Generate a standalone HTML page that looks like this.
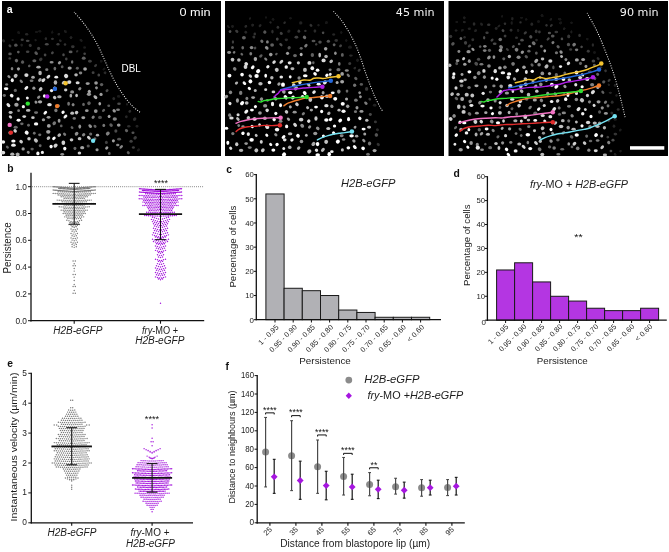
<!DOCTYPE html>
<html lang="en"><head><meta charset="utf-8"><title>Figure</title>
<style>html,body{margin:0;padding:0;background:#fff}svg{display:block}text{font-family:"Liberation Sans", Arial, Helvetica, sans-serif}</style></head><body>
<svg width="669" height="552" viewBox="0 0 669 552">
<defs><filter id="blur" x="0" y="0" width="669" height="160" filterUnits="userSpaceOnUse"><feGaussianBlur stdDeviation="0.55"/></filter></defs>
<rect width="669" height="552" fill="#fff"/>
<g id="panel-a">
<rect x="2" y="1" width="219" height="155" fill="#000"/>
<rect x="225" y="1" width="219" height="155" fill="#000"/>
<rect x="448.5" y="1" width="219.5" height="155" fill="#000"/>
<g filter="url(#blur)">
<ellipse cx="18.67" cy="32.6" rx="1.73" ry="1.34" transform="rotate(45 18.67 32.6)" fill="#191919"/>
<ellipse cx="26.67" cy="34.22" rx="1.61" ry="1.24" fill="#272727"/>
<ellipse cx="36.5" cy="32.01" rx="1.33" ry="1.31" fill="#191919"/>
<ellipse cx="39.84" cy="31.25" rx="1.51" ry="1.2" fill="#161616"/>
<ellipse cx="52.24" cy="32.21" rx="1.09" ry="1.63" fill="#171717"/>
<ellipse cx="58.78" cy="34.05" rx="1.47" ry="1.2" transform="rotate(135 58.78 34.05)" fill="#242424"/>
<ellipse cx="65.37" cy="31.54" rx="1.78" ry="1.3" transform="rotate(45 65.37 31.54)" fill="#1c1c1c"/>
<ellipse cx="3.56" cy="40.76" rx="1.68" ry="1.41" transform="rotate(45 3.56 40.76)" fill="#272727"/>
<ellipse cx="12.6" cy="40.06" rx="1.23" ry="1.12" fill="#1e1e1e"/>
<ellipse cx="22.24" cy="39.69" rx="1.58" ry="1.22" fill="#3b3b3b"/>
<ellipse cx="27.67" cy="40.86" rx="1.91" ry="1.18" fill="#444444"/>
<ellipse cx="35.61" cy="40.04" rx="1.24" ry="1.26" transform="rotate(135 35.61 40.04)" fill="#1a1a1a"/>
<ellipse cx="45.87" cy="38.75" rx="1.22" ry="1.46" fill="#2c2c2c"/>
<ellipse cx="52.45" cy="38.87" rx="1.5" ry="1.2" fill="#323232"/>
<ellipse cx="60.3" cy="40.61" rx="1.25" ry="1.51" transform="rotate(135 60.3 40.61)" fill="#252525"/>
<ellipse cx="71.05" cy="37.51" rx="1.43" ry="1.47" transform="rotate(45 71.05 37.51)" fill="#242424"/>
<ellipse cx="81.11" cy="40.36" rx="1.73" ry="1.27" transform="rotate(45 81.11 40.36)" fill="#1f1f1f"/>
<ellipse cx="9.93" cy="45.92" rx="1.66" ry="1.32" transform="rotate(45 9.93 45.92)" fill="#3e3e3e"/>
<ellipse cx="15.85" cy="45.14" rx="1.76" ry="1.57" fill="#525252"/>
<ellipse cx="21.74" cy="45.01" rx="1.29" ry="1.46" transform="rotate(135 21.74 45.01)" fill="#202020"/>
<ellipse cx="30.24" cy="45.37" rx="1.63" ry="1.49" transform="rotate(45 30.24 45.37)" fill="#353535"/>
<ellipse cx="38.64" cy="48.41" rx="1.58" ry="1.65" fill="#3f3f3f"/>
<ellipse cx="46.8" cy="44.26" rx="1.91" ry="1.22" fill="#484848"/>
<ellipse cx="57.97" cy="44.35" rx="1.57" ry="1.23" fill="#3e3e3e"/>
<ellipse cx="65" cy="44.55" rx="1.32" ry="1.31" fill="#303030"/>
<ellipse cx="72.81" cy="46.75" rx="1.77" ry="1.39" fill="#363636"/>
<ellipse cx="84.67" cy="47.53" rx="1.51" ry="1.25" fill="#1a1a1a"/>
<ellipse cx="10.04" cy="53.88" rx="1.78" ry="1.32" fill="#535353"/>
<ellipse cx="18.31" cy="52.07" rx="1.36" ry="1.34" transform="rotate(45 18.31 52.07)" fill="#5b5b5b"/>
<ellipse cx="27.67" cy="51.71" rx="1.77" ry="1.33" fill="#434343"/>
<ellipse cx="36.17" cy="53.24" rx="1.96" ry="1.55" transform="rotate(45 36.17 53.24)" fill="#595959"/>
<ellipse cx="45.07" cy="55.11" rx="1.35" ry="1.49" fill="#474747"/>
<ellipse cx="52.39" cy="52.84" rx="1.52" ry="1.35" transform="rotate(135 52.39 52.84)" fill="#464646"/>
<ellipse cx="63.51" cy="54.78" rx="1.23" ry="1.55" fill="#4c4c4c"/>
<ellipse cx="70.61" cy="51.88" rx="1.95" ry="1.33" fill="#5c5c5c"/>
<ellipse cx="77.15" cy="51.27" rx="1.42" ry="1.1" transform="rotate(135 77.15 51.27)" fill="#2e2e2e"/>
<ellipse cx="84.65" cy="53.79" rx="1.32" ry="1.18" fill="#454545"/>
<ellipse cx="9.77" cy="58.38" rx="1.37" ry="1.23" fill="#3d3d3d"/>
<ellipse cx="16.47" cy="60.62" rx="1.66" ry="1.71" transform="rotate(135 16.47 60.62)" fill="#6a6a6a"/>
<ellipse cx="22.57" cy="62.09" rx="1.7" ry="1.63" transform="rotate(135 22.57 62.09)" fill="#5a5a5a"/>
<ellipse cx="34.38" cy="60.69" rx="2.02" ry="1.55" fill="#5f5f5f"/>
<ellipse cx="40.77" cy="59.33" rx="1.9" ry="1.54" transform="rotate(135 40.77 59.33)" fill="#393939"/>
<ellipse cx="51.61" cy="62.28" rx="2.01" ry="1.29" fill="#8c8c8c"/>
<ellipse cx="59.48" cy="62.69" rx="1.79" ry="1.43" transform="rotate(135 59.48 62.69)" fill="#9c9c9c"/>
<ellipse cx="66.3" cy="59" rx="1.27" ry="1.48" fill="#424242"/>
<ellipse cx="72.16" cy="62.01" rx="1.24" ry="1.74" fill="#737373"/>
<ellipse cx="83.75" cy="58.2" rx="1.94" ry="1.64" fill="#606060"/>
<ellipse cx="89.9" cy="61.36" rx="1.87" ry="1.49" fill="#3e3e3e"/>
<ellipse cx="101.3" cy="61.21" rx="1.37" ry="1.45" transform="rotate(135 101.3 61.21)" fill="#181818"/>
<ellipse cx="12.05" cy="68.71" rx="1.29" ry="1.66" fill="#7d7d7d"/>
<ellipse cx="18.42" cy="68.9" rx="1.58" ry="1.54" transform="rotate(135 18.42 68.9)" fill="#a0a0a0"/>
<ellipse cx="29.28" cy="65.88" rx="1.41" ry="1.24" transform="rotate(135 29.28 65.88)" fill="#5a5a5a"/>
<ellipse cx="38.5" cy="67.17" rx="2.2" ry="1.39" fill="#a7a7a7"/>
<ellipse cx="46.78" cy="69.64" rx="1.61" ry="1.46" fill="#787878"/>
<ellipse cx="54.87" cy="68.57" rx="1.34" ry="1.93" fill="#6c6c6c"/>
<ellipse cx="62.16" cy="66.76" rx="1.41" ry="1.52" fill="#585858"/>
<ellipse cx="69.67" cy="68.04" rx="2.1" ry="1.66" fill="#9f9f9f"/>
<ellipse cx="77.34" cy="68.19" rx="1.52" ry="1.48" fill="#5e5e5e"/>
<ellipse cx="85.06" cy="69.09" rx="1.86" ry="1.74" fill="#a5a5a5"/>
<ellipse cx="95.55" cy="65.55" rx="1.78" ry="1.19" transform="rotate(135 95.55 65.55)" fill="#3a3a3a"/>
<ellipse cx="103.9" cy="69" rx="1.78" ry="1.23" transform="rotate(135 103.9 69)" fill="#151515"/>
<ellipse cx="8.93" cy="76.69" rx="1.8" ry="1.32" transform="rotate(45 8.93 76.69)" fill="#919191"/>
<ellipse cx="15.63" cy="75.85" rx="2.12" ry="1.81" transform="rotate(135 15.63 75.85)" fill="#b9b9b9"/>
<ellipse cx="26.39" cy="75.02" rx="2.09" ry="1.89" fill="#d6d6d6"/>
<ellipse cx="33.03" cy="77.3" rx="1.87" ry="1.57" fill="#a6a6a6"/>
<ellipse cx="40.07" cy="72.92" rx="1.78" ry="2.21" fill="#b3b3b3"/>
<ellipse cx="48.37" cy="76.7" rx="2.25" ry="1.51" transform="rotate(135 48.37 76.7)" fill="#dbdbdb"/>
<ellipse cx="56.26" cy="77.13" rx="1.9" ry="1.42" fill="#ebebeb"/>
<ellipse cx="66.12" cy="76.02" rx="2.25" ry="2" transform="rotate(45 66.12 76.02)" fill="#dddddd"/>
<ellipse cx="76.07" cy="74.81" rx="1.8" ry="1.65" fill="#b4b4b4"/>
<ellipse cx="80.55" cy="73.01" rx="1.76" ry="1.48" fill="#838383"/>
<ellipse cx="93.11" cy="72.64" rx="1.46" ry="1.3" fill="#424242"/>
<ellipse cx="98.78" cy="74.95" rx="1.36" ry="1.51" fill="#454545"/>
<ellipse cx="105.05" cy="72.8" rx="1.42" ry="1.34" transform="rotate(135 105.05 72.8)" fill="#2a2a2a"/>
<ellipse cx="6.64" cy="84.47" rx="1.53" ry="1.3" fill="#7b7b7b"/>
<ellipse cx="12.29" cy="80.25" rx="1.56" ry="1.94" fill="#f2f2f2"/>
<ellipse cx="21.29" cy="81.32" rx="2.01" ry="1.29" transform="rotate(45 21.29 81.32)" fill="#858585"/>
<ellipse cx="31.59" cy="80.83" rx="1.92" ry="1.24" fill="#787878"/>
<ellipse cx="39.89" cy="80.03" rx="2.05" ry="1.54" transform="rotate(135 39.89 80.03)" fill="#a5a5a5"/>
<ellipse cx="43.42" cy="80.19" rx="2.27" ry="1.56" transform="rotate(135 43.42 80.19)" fill="#dadada"/>
<ellipse cx="55.44" cy="82.52" rx="1.76" ry="2.17" fill="#b3b3b3"/>
<ellipse cx="63.54" cy="82.59" rx="2.15" ry="1.42" transform="rotate(135 63.54 82.59)" fill="#c3c3c3"/>
<ellipse cx="69.22" cy="82.12" rx="2.17" ry="1.86" fill="#d9d9d9"/>
<ellipse cx="77.65" cy="82.66" rx="2.01" ry="1.52" fill="#d7d7d7"/>
<ellipse cx="87.68" cy="83.54" rx="2.13" ry="1.39" fill="#9d9d9d"/>
<ellipse cx="96.04" cy="82.99" rx="1.82" ry="1.72" fill="#989898"/>
<ellipse cx="101.58" cy="84.53" rx="1.7" ry="1.62" fill="#5d5d5d"/>
<ellipse cx="6.13" cy="88.67" rx="2.28" ry="1.49" fill="#ffffff"/>
<ellipse cx="15.34" cy="90.42" rx="1.59" ry="1.58" fill="#666666"/>
<ellipse cx="26.32" cy="87.99" rx="2.3" ry="1.49" transform="rotate(135 26.32 87.99)" fill="#f1f1f1"/>
<ellipse cx="33.89" cy="88.19" rx="1.56" ry="1.61" fill="#989898"/>
<ellipse cx="40.64" cy="89.14" rx="2.14" ry="1.65" transform="rotate(135 40.64 89.14)" fill="#c3c3c3"/>
<ellipse cx="51.58" cy="90.57" rx="1.67" ry="1.6" fill="#f1f1f1"/>
<ellipse cx="55.01" cy="88.5" rx="2.03" ry="1.69" transform="rotate(45 55.01 88.5)" fill="#ffffff"/>
<ellipse cx="65.7" cy="90" rx="1.68" ry="1.42" fill="#cacaca"/>
<ellipse cx="72.15" cy="91.9" rx="2.01" ry="1.7" fill="#919191"/>
<ellipse cx="79.77" cy="88.74" rx="1.46" ry="1.79" transform="rotate(45 79.77 88.74)" fill="#8c8c8c"/>
<ellipse cx="89.28" cy="91.6" rx="1.69" ry="1.68" transform="rotate(135 89.28 91.6)" fill="#a8a8a8"/>
<ellipse cx="96.47" cy="87.86" rx="1.42" ry="1.45" transform="rotate(135 96.47 87.86)" fill="#8f8f8f"/>
<ellipse cx="107.03" cy="90.65" rx="1.66" ry="1.32" transform="rotate(135 107.03 90.65)" fill="#4c4c4c"/>
<ellipse cx="4.33" cy="95.53" rx="1.59" ry="1.44" fill="#6c6c6c"/>
<ellipse cx="11.67" cy="95.62" rx="1.76" ry="1.94" transform="rotate(135 11.67 95.62)" fill="#f0f0f0"/>
<ellipse cx="18.13" cy="98.98" rx="1.6" ry="1.73" fill="#fafafa"/>
<ellipse cx="27.35" cy="98" rx="1.56" ry="1.37" transform="rotate(45 27.35 98)" fill="#f5f5f5"/>
<ellipse cx="38.7" cy="97.21" rx="1.91" ry="1.36" transform="rotate(135 38.7 97.21)" fill="#898989"/>
<ellipse cx="44.39" cy="96.06" rx="1.53" ry="1.81" fill="#f7f7f7"/>
<ellipse cx="54.68" cy="97.53" rx="1.85" ry="1.62" transform="rotate(45 54.68 97.53)" fill="#c7c7c7"/>
<ellipse cx="59.36" cy="96.69" rx="2.24" ry="1.55" fill="#aaaaaa"/>
<ellipse cx="70.83" cy="95.7" rx="1.32" ry="1.84" fill="#a9a9a9"/>
<ellipse cx="76.6" cy="95.48" rx="1.34" ry="1.69" fill="#bebebe"/>
<ellipse cx="88.95" cy="94.32" rx="2.1" ry="1.74" fill="#989898"/>
<ellipse cx="95.42" cy="97.19" rx="2.28" ry="1.54" transform="rotate(45 95.42 97.19)" fill="#b4b4b4"/>
<ellipse cx="101.05" cy="94.4" rx="1.6" ry="1.53" fill="#9f9f9f"/>
<ellipse cx="113.77" cy="98.54" rx="1.34" ry="1.63" fill="#2b2b2b"/>
<ellipse cx="118.62" cy="96.43" rx="1.63" ry="1.32" fill="#1d1d1d"/>
<ellipse cx="8.4" cy="105.09" rx="2.29" ry="1.52" transform="rotate(45 8.4 105.09)" fill="#e5e5e5"/>
<ellipse cx="16.43" cy="104.77" rx="2.19" ry="1.9" fill="#a1a1a1"/>
<ellipse cx="23.38" cy="106.65" rx="1.58" ry="1.66" fill="#f3f3f3"/>
<ellipse cx="35.98" cy="102.14" rx="1.43" ry="1.6" transform="rotate(135 35.98 102.14)" fill="#959595"/>
<ellipse cx="40.05" cy="101.87" rx="2.16" ry="1.71" fill="#a8a8a8"/>
<ellipse cx="49.48" cy="104.7" rx="2.33" ry="1.6" fill="#e1e1e1"/>
<ellipse cx="58.58" cy="105.64" rx="1.48" ry="1.28" transform="rotate(45 58.58 105.64)" fill="#757575"/>
<ellipse cx="68.6" cy="103.75" rx="1.37" ry="2.02" fill="#727272"/>
<ellipse cx="73.11" cy="104.74" rx="1.55" ry="1.52" transform="rotate(45 73.11 104.74)" fill="#828282"/>
<ellipse cx="83.51" cy="104.4" rx="1.32" ry="1.62" fill="#656565"/>
<ellipse cx="88.99" cy="103.25" rx="1.89" ry="1.74" transform="rotate(135 88.99 103.25)" fill="#5e5e5e"/>
<ellipse cx="99.76" cy="103.65" rx="1.34" ry="1.77" fill="#aaaaaa"/>
<ellipse cx="108.74" cy="105.78" rx="1.44" ry="1.33" fill="#5a5a5a"/>
<ellipse cx="118.99" cy="103.8" rx="1.79" ry="1.24" fill="#4b4b4b"/>
<ellipse cx="127.03" cy="104.29" rx="1.07" ry="1.36" fill="#1b1b1b"/>
<ellipse cx="10.61" cy="112.57" rx="2.05" ry="1.45" fill="#bbbbbb"/>
<ellipse cx="18.62" cy="110.66" rx="1.38" ry="1.46" fill="#7b7b7b"/>
<ellipse cx="28.2" cy="110.4" rx="2.28" ry="1.46" fill="#b9b9b9"/>
<ellipse cx="36.07" cy="112.62" rx="2.08" ry="1.45" fill="#6f6f6f"/>
<ellipse cx="45.29" cy="112.76" rx="2.19" ry="1.4" transform="rotate(135 45.29 112.76)" fill="#f6f6f6"/>
<ellipse cx="55.9" cy="110.4" rx="1.64" ry="1.81" fill="#7c7c7c"/>
<ellipse cx="63.08" cy="112.15" rx="1.55" ry="1.75" transform="rotate(45 63.08 112.15)" fill="#fafafa"/>
<ellipse cx="72.19" cy="113.15" rx="1.91" ry="1.7" fill="#bcbcbc"/>
<ellipse cx="76.55" cy="112.54" rx="1.87" ry="1.65" transform="rotate(135 76.55 112.54)" fill="#c8c8c8"/>
<ellipse cx="86.8" cy="110.67" rx="1.84" ry="1.45" fill="#9a9a9a"/>
<ellipse cx="95.75" cy="111.04" rx="1.88" ry="1.84" fill="#949494"/>
<ellipse cx="103.58" cy="110.43" rx="1.77" ry="1.28" transform="rotate(135 103.58 110.43)" fill="#606060"/>
<ellipse cx="114.21" cy="110.81" rx="1.52" ry="1.88" transform="rotate(135 114.21 110.81)" fill="#979797"/>
<ellipse cx="117.99" cy="109.7" rx="1.98" ry="1.31" fill="#7d7d7d"/>
<ellipse cx="129.83" cy="111.37" rx="1.26" ry="1.55" transform="rotate(45 129.83 111.37)" fill="#2d2d2d"/>
<ellipse cx="10.45" cy="116.98" rx="1.87" ry="1.36" transform="rotate(45 10.45 116.98)" fill="#d0d0d0"/>
<ellipse cx="18.6" cy="120.31" rx="2.06" ry="1.49" fill="#ffffff"/>
<ellipse cx="24.23" cy="116.62" rx="1.9" ry="1.43" fill="#d4d4d4"/>
<ellipse cx="32.93" cy="117.73" rx="1.76" ry="1.36" fill="#c8c8c8"/>
<ellipse cx="43.46" cy="119.75" rx="1.67" ry="1.53" fill="#9a9a9a"/>
<ellipse cx="48.57" cy="117.33" rx="1.92" ry="1.45" fill="#9d9d9d"/>
<ellipse cx="59.11" cy="120.81" rx="1.42" ry="1.98" fill="#989898"/>
<ellipse cx="65.41" cy="116.6" rx="2.31" ry="1.4" transform="rotate(135 65.41 116.6)" fill="#f1f1f1"/>
<ellipse cx="74.26" cy="118.42" rx="1.66" ry="1.34" fill="#757575"/>
<ellipse cx="83.29" cy="117.68" rx="1.98" ry="1.46" fill="#a5a5a5"/>
<ellipse cx="93.16" cy="117.22" rx="1.47" ry="1.76" transform="rotate(45 93.16 117.22)" fill="#7f7f7f"/>
<ellipse cx="100" cy="117.4" rx="1.92" ry="1.58" fill="#505050"/>
<ellipse cx="109.11" cy="116.47" rx="1.51" ry="1.52" transform="rotate(45 109.11 116.47)" fill="#a4a4a4"/>
<ellipse cx="114.76" cy="119" rx="2.15" ry="1.73" fill="#848484"/>
<ellipse cx="126.34" cy="116.76" rx="1.32" ry="1.35" transform="rotate(135 126.34 116.76)" fill="#282828"/>
<ellipse cx="134.66" cy="119.08" rx="1.88" ry="1.61" transform="rotate(135 134.66 119.08)" fill="#2e2e2e"/>
<ellipse cx="15.66" cy="127.18" rx="2.09" ry="1.52" fill="#6c6c6c"/>
<ellipse cx="21.86" cy="123.85" rx="1.72" ry="1.37" fill="#6b6b6b"/>
<ellipse cx="28.51" cy="125.31" rx="1.44" ry="1.48" fill="#656565"/>
<ellipse cx="36.08" cy="123.89" rx="2.19" ry="1.68" fill="#f8f8f8"/>
<ellipse cx="48.83" cy="125.89" rx="1.93" ry="1.83" fill="#a2a2a2"/>
<ellipse cx="54.27" cy="123.24" rx="1.98" ry="1.65" transform="rotate(135 54.27 123.24)" fill="#767676"/>
<ellipse cx="61.25" cy="125.92" rx="1.35" ry="1.39" fill="#616161"/>
<ellipse cx="72.05" cy="127.55" rx="1.61" ry="1.22" transform="rotate(45 72.05 127.55)" fill="#5e5e5e"/>
<ellipse cx="79.8" cy="126.57" rx="1.39" ry="2.11" fill="#919191"/>
<ellipse cx="90.21" cy="126.11" rx="2.12" ry="1.5" transform="rotate(45 90.21 126.11)" fill="#909090"/>
<ellipse cx="95.02" cy="126.27" rx="1.38" ry="1.64" transform="rotate(135 95.02 126.27)" fill="#646464"/>
<ellipse cx="103.79" cy="125.4" rx="1.39" ry="1.71" fill="#777777"/>
<ellipse cx="111.08" cy="125.15" rx="1.91" ry="1.56" transform="rotate(45 111.08 125.15)" fill="#606060"/>
<ellipse cx="118.71" cy="125.03" rx="1.83" ry="1.6" fill="#979797"/>
<ellipse cx="128.76" cy="126.24" rx="1.68" ry="1.28" fill="#2d2d2d"/>
<ellipse cx="137.02" cy="126.26" rx="1.38" ry="1.39" fill="#202020"/>
<ellipse cx="10.2" cy="132.87" rx="1.91" ry="1.83" fill="#969696"/>
<ellipse cx="15.15" cy="130.83" rx="1.62" ry="1.84" transform="rotate(135 15.15 130.83)" fill="#d3d3d3"/>
<ellipse cx="26.68" cy="132.69" rx="2.12" ry="1.89" transform="rotate(45 26.68 132.69)" fill="#f7f7f7"/>
<ellipse cx="34.29" cy="133.23" rx="1.38" ry="1.43" fill="#6f6f6f"/>
<ellipse cx="39.75" cy="134.87" rx="1.58" ry="1.28" fill="#6d6d6d"/>
<ellipse cx="48.26" cy="131.82" rx="2.17" ry="1.87" fill="#a2a2a2"/>
<ellipse cx="59.23" cy="135.18" rx="2.04" ry="1.56" transform="rotate(135 59.23 135.18)" fill="#b1b1b1"/>
<ellipse cx="64.6" cy="134.23" rx="1.8" ry="1.34" transform="rotate(45 64.6 134.23)" fill="#787878"/>
<ellipse cx="76.6" cy="133.76" rx="2.03" ry="1.67" transform="rotate(135 76.6 133.76)" fill="#8e8e8e"/>
<ellipse cx="83.62" cy="134.74" rx="1.83" ry="1.52" transform="rotate(135 83.62 134.74)" fill="#838383"/>
<ellipse cx="90.65" cy="133.99" rx="1.61" ry="1.52" fill="#6a6a6a"/>
<ellipse cx="97.49" cy="135.15" rx="1.67" ry="1.46" fill="#adadad"/>
<ellipse cx="107.79" cy="133.58" rx="2.12" ry="1.77" transform="rotate(135 107.79 133.58)" fill="#7f7f7f"/>
<ellipse cx="115.85" cy="131.01" rx="1.52" ry="1.72" fill="#4c4c4c"/>
<ellipse cx="126.52" cy="130.59" rx="1.73" ry="1.49" transform="rotate(45 126.52 130.59)" fill="#616161"/>
<ellipse cx="132.98" cy="132.7" rx="1.54" ry="1.32" fill="#535353"/>
<ellipse cx="3.15" cy="142.05" rx="2.02" ry="1.7" fill="#f0f0f0"/>
<ellipse cx="13.38" cy="141.02" rx="2.16" ry="1.52" fill="#fbfbfb"/>
<ellipse cx="21.12" cy="141.64" rx="1.96" ry="1.66" transform="rotate(45 21.12 141.64)" fill="#cdcdcd"/>
<ellipse cx="29" cy="138.74" rx="1.73" ry="1.82" fill="#cbcbcb"/>
<ellipse cx="35.91" cy="140.46" rx="2.27" ry="1.82" transform="rotate(45 35.91 140.46)" fill="#bfbfbf"/>
<ellipse cx="48.46" cy="138.15" rx="1.59" ry="1.98" transform="rotate(45 48.46 138.15)" fill="#bebebe"/>
<ellipse cx="53.94" cy="138.35" rx="2.07" ry="1.44" transform="rotate(135 53.94 138.35)" fill="#ffffff"/>
<ellipse cx="63.36" cy="142.68" rx="1.86" ry="2.23" fill="#d3d3d3"/>
<ellipse cx="71.52" cy="139.87" rx="1.8" ry="1.57" fill="#c6c6c6"/>
<ellipse cx="79.59" cy="138.64" rx="1.84" ry="1.65" fill="#bdbdbd"/>
<ellipse cx="88.89" cy="137.78" rx="2.26" ry="1.41" transform="rotate(45 88.89 137.78)" fill="#cfcfcf"/>
<ellipse cx="94.94" cy="138.76" rx="1.44" ry="1.51" fill="#6b6b6b"/>
<ellipse cx="106.34" cy="142.44" rx="1.44" ry="1.6" fill="#414141"/>
<ellipse cx="113.38" cy="140.78" rx="1.5" ry="1.61" fill="#a0a0a0"/>
<ellipse cx="119.09" cy="139.16" rx="2.01" ry="1.39" fill="#545454"/>
<ellipse cx="131.09" cy="141.17" rx="1.66" ry="1.53" fill="#414141"/>
<ellipse cx="135.13" cy="137.98" rx="1.93" ry="1.57" transform="rotate(135 135.13 137.98)" fill="#3e3e3e"/>
<ellipse cx="7.39" cy="147.12" rx="1.73" ry="1.26" transform="rotate(45 7.39 147.12)" fill="#646464"/>
<ellipse cx="13.46" cy="145.22" rx="2.35" ry="1.62" fill="#ededed"/>
<ellipse cx="23.14" cy="148.91" rx="1.66" ry="1.65" fill="#9e9e9e"/>
<ellipse cx="32.14" cy="149.06" rx="1.67" ry="1.39" fill="#5e5e5e"/>
<ellipse cx="40.18" cy="145.66" rx="1.44" ry="1.47" fill="#686868"/>
<ellipse cx="51.09" cy="146.61" rx="1.62" ry="1.81" fill="#fdfdfd"/>
<ellipse cx="55.59" cy="145.55" rx="2.25" ry="1.82" transform="rotate(135 55.59 145.55)" fill="#d1d1d1"/>
<ellipse cx="64.79" cy="148.59" rx="1.62" ry="1.92" fill="#fafafa"/>
<ellipse cx="74.93" cy="148.33" rx="1.56" ry="1.53" transform="rotate(45 74.93 148.33)" fill="#686868"/>
<ellipse cx="82.21" cy="147.63" rx="2.06" ry="1.62" fill="#a4a4a4"/>
<ellipse cx="88.22" cy="145.99" rx="1.59" ry="1.52" fill="#565656"/>
<ellipse cx="97.05" cy="149.81" rx="1.57" ry="1.5" fill="#989898"/>
<ellipse cx="106.76" cy="147.95" rx="1.81" ry="1.41" transform="rotate(135 106.76 147.95)" fill="#a2a2a2"/>
<ellipse cx="117.73" cy="144.97" rx="1.69" ry="1.27" fill="#868686"/>
<ellipse cx="121.23" cy="146.91" rx="2.13" ry="1.26" transform="rotate(135 121.23 146.91)" fill="#868686"/>
<ellipse cx="133.41" cy="147.42" rx="1.57" ry="1.22" fill="#3f3f3f"/>
<ellipse cx="138.45" cy="149.85" rx="1.75" ry="1.35" transform="rotate(135 138.45 149.85)" fill="#1e1e1e"/>
<ellipse cx="3.05" cy="152.64" rx="2.18" ry="1.77" fill="#dddddd"/>
<ellipse cx="12.29" cy="154.13" rx="2.17" ry="1.68" fill="#b2b2b2"/>
<ellipse cx="17.65" cy="154.63" rx="1.99" ry="1.93" transform="rotate(45 17.65 154.63)" fill="#afafaf"/>
<ellipse cx="28.25" cy="152.33" rx="1.43" ry="1.61" transform="rotate(135 28.25 152.33)" fill="#8c8c8c"/>
<ellipse cx="37.89" cy="153.38" rx="1.63" ry="1.93" fill="#f8f8f8"/>
<ellipse cx="42.38" cy="152.44" rx="1.56" ry="1.63" fill="#f1f1f1"/>
<ellipse cx="62.23" cy="154.36" rx="1.93" ry="1.34" fill="#909090"/>
<ellipse cx="79.41" cy="152.97" rx="1.76" ry="1.51" fill="#cecece"/>
<ellipse cx="109.31" cy="153.4" rx="1.32" ry="1.59" fill="#5e5e5e"/>
<ellipse cx="128.29" cy="152.71" rx="1.34" ry="1.66" transform="rotate(135 128.29 152.71)" fill="#5b5b5b"/>
<ellipse cx="249.95" cy="18.45" rx="1.42" ry="1.07" transform="rotate(135 249.95 18.45)" fill="#1a1a1a"/>
<ellipse cx="265.89" cy="17.39" rx="1.23" ry="1.16" transform="rotate(45 265.89 17.39)" fill="#151515"/>
<ellipse cx="273.11" cy="19.43" rx="1.37" ry="1.32" fill="#191919"/>
<ellipse cx="290.42" cy="18.17" rx="1.33" ry="1.29" fill="#171717"/>
<ellipse cx="228.38" cy="26.66" rx="1.77" ry="1.08" transform="rotate(45 228.38 26.66)" fill="#1f1f1f"/>
<ellipse cx="232.49" cy="26.54" rx="1.31" ry="1.48" fill="#1e1e1e"/>
<ellipse cx="245.78" cy="26.35" rx="1.22" ry="1.56" transform="rotate(45 245.78 26.35)" fill="#2b2b2b"/>
<ellipse cx="252.64" cy="25.11" rx="1.55" ry="1.41" transform="rotate(135 252.64 25.11)" fill="#232323"/>
<ellipse cx="260.1" cy="25.63" rx="1.63" ry="1.28" transform="rotate(135 260.1 25.63)" fill="#262626"/>
<ellipse cx="270.52" cy="22.47" rx="1.21" ry="1.16" transform="rotate(45 270.52 22.47)" fill="#272727"/>
<ellipse cx="277.87" cy="27.3" rx="1.31" ry="1.52" fill="#333333"/>
<ellipse cx="284.62" cy="22.69" rx="1.44" ry="1.2" transform="rotate(135 284.62 22.69)" fill="#292929"/>
<ellipse cx="300.77" cy="22.91" rx="1.61" ry="1.57" fill="#242424"/>
<ellipse cx="310.96" cy="25.38" rx="1.65" ry="1.34" transform="rotate(45 310.96 25.38)" fill="#303030"/>
<ellipse cx="318.48" cy="25.15" rx="1.1" ry="1.34" fill="#1b1b1b"/>
<ellipse cx="326.43" cy="22.63" rx="1.62" ry="1.55" fill="#151515"/>
<ellipse cx="230.05" cy="31.45" rx="1.49" ry="1.33" transform="rotate(135 230.05 31.45)" fill="#4f4f4f"/>
<ellipse cx="236.77" cy="31.34" rx="1.82" ry="1.39" transform="rotate(45 236.77 31.34)" fill="#3a3a3a"/>
<ellipse cx="245.79" cy="32.16" rx="1.41" ry="1.49" fill="#252525"/>
<ellipse cx="254.81" cy="34.01" rx="1.36" ry="1.43" fill="#313131"/>
<ellipse cx="264.81" cy="32.12" rx="1.62" ry="1.68" transform="rotate(135 264.81 32.12)" fill="#535353"/>
<ellipse cx="272.44" cy="31.65" rx="1.19" ry="1.83" fill="#2e2e2e"/>
<ellipse cx="281.28" cy="33.41" rx="1.71" ry="1.45" transform="rotate(45 281.28 33.41)" fill="#3f3f3f"/>
<ellipse cx="288.79" cy="31.22" rx="1.79" ry="1.47" transform="rotate(135 288.79 31.22)" fill="#202020"/>
<ellipse cx="298.84" cy="31.14" rx="1.38" ry="1.71" fill="#373737"/>
<ellipse cx="305.38" cy="30.98" rx="1.26" ry="1.13" fill="#333333"/>
<ellipse cx="314.91" cy="30.91" rx="1.37" ry="1.73" fill="#292929"/>
<ellipse cx="323.1" cy="32.76" rx="1.26" ry="1.37" fill="#4a4a4a"/>
<ellipse cx="333.68" cy="34.48" rx="1.45" ry="1.18" fill="#262626"/>
<ellipse cx="341.33" cy="32.5" rx="1.34" ry="1.32" transform="rotate(135 341.33 32.5)" fill="#151515"/>
<ellipse cx="232.94" cy="42.02" rx="1.19" ry="1.67" fill="#3e3e3e"/>
<ellipse cx="243.9" cy="37.86" rx="1.96" ry="1.74" fill="#646464"/>
<ellipse cx="253.86" cy="37.04" rx="1.54" ry="1.34" transform="rotate(45 253.86 37.04)" fill="#333333"/>
<ellipse cx="261.84" cy="41.23" rx="1.55" ry="1.64" transform="rotate(135 261.84 41.23)" fill="#6d6d6d"/>
<ellipse cx="267.4" cy="41.91" rx="1.4" ry="1.64" fill="#7e7e7e"/>
<ellipse cx="277.27" cy="39.1" rx="1.42" ry="1.66" fill="#454545"/>
<ellipse cx="286.36" cy="39.83" rx="1.65" ry="1.39" fill="#2f2f2f"/>
<ellipse cx="296.4" cy="37.24" rx="1.9" ry="1.48" fill="#3f3f3f"/>
<ellipse cx="304.53" cy="37.39" rx="1.79" ry="1.62" transform="rotate(45 304.53 37.39)" fill="#6b6b6b"/>
<ellipse cx="313.52" cy="40.99" rx="1.95" ry="1.33" fill="#535353"/>
<ellipse cx="320.01" cy="42.08" rx="1.77" ry="1.64" fill="#4d4d4d"/>
<ellipse cx="328.36" cy="41.24" rx="1.65" ry="1.61" fill="#565656"/>
<ellipse cx="336.2" cy="40.44" rx="1.75" ry="1.47" fill="#303030"/>
<ellipse cx="346.33" cy="40.47" rx="1.28" ry="1.29" transform="rotate(135 346.33 40.47)" fill="#171717"/>
<ellipse cx="232.47" cy="47.53" rx="1.47" ry="1.58" fill="#565656"/>
<ellipse cx="242.71" cy="47.73" rx="1.36" ry="1.67" fill="#686868"/>
<ellipse cx="251.56" cy="47.53" rx="1.82" ry="1.65" fill="#898989"/>
<ellipse cx="254.98" cy="48.07" rx="1.49" ry="1.26" transform="rotate(135 254.98 48.07)" fill="#4d4d4d"/>
<ellipse cx="266.73" cy="47.94" rx="2.05" ry="1.57" transform="rotate(45 266.73 47.94)" fill="#929292"/>
<ellipse cx="272.1" cy="45.1" rx="1.93" ry="1.73" fill="#5e5e5e"/>
<ellipse cx="280.92" cy="44.66" rx="1.92" ry="1.3" transform="rotate(45 280.92 44.66)" fill="#505050"/>
<ellipse cx="289.16" cy="47.67" rx="1.71" ry="1.56" transform="rotate(135 289.16 47.67)" fill="#4f4f4f"/>
<ellipse cx="301.23" cy="48.32" rx="1.53" ry="1.39" fill="#656565"/>
<ellipse cx="305.89" cy="45.67" rx="2.04" ry="1.37" transform="rotate(135 305.89 45.67)" fill="#7a7a7a"/>
<ellipse cx="316.22" cy="44.26" rx="1.25" ry="1.24" transform="rotate(135 316.22 44.26)" fill="#3f3f3f"/>
<ellipse cx="325.68" cy="48.74" rx="1.74" ry="1.71" transform="rotate(135 325.68 48.74)" fill="#9e9e9e"/>
<ellipse cx="334.14" cy="44.73" rx="1.43" ry="1.43" transform="rotate(135 334.14 44.73)" fill="#616161"/>
<ellipse cx="340.56" cy="45.8" rx="1.28" ry="1.6" transform="rotate(45 340.56 45.8)" fill="#424242"/>
<ellipse cx="349.91" cy="47.16" rx="1.84" ry="1.54" fill="#1f1f1f"/>
<ellipse cx="229.09" cy="52.52" rx="1.97" ry="1.46" fill="#8f8f8f"/>
<ellipse cx="234.08" cy="52.34" rx="1.44" ry="1.26" transform="rotate(135 234.08 52.34)" fill="#7a7a7a"/>
<ellipse cx="241.81" cy="54.23" rx="1.56" ry="1.2" transform="rotate(45 241.81 54.23)" fill="#686868"/>
<ellipse cx="250.78" cy="53.75" rx="1.42" ry="1.73" fill="#7b7b7b"/>
<ellipse cx="260.85" cy="55.96" rx="1.95" ry="1.43" transform="rotate(135 260.85 55.96)" fill="#5b5b5b"/>
<ellipse cx="270.77" cy="54.57" rx="1.8" ry="1.81" fill="#9a9a9a"/>
<ellipse cx="276.38" cy="54.03" rx="1.44" ry="1.17" transform="rotate(135 276.38 54.03)" fill="#5a5a5a"/>
<ellipse cx="287.54" cy="53.27" rx="1.58" ry="1.61" fill="#9d9d9d"/>
<ellipse cx="295.01" cy="55.61" rx="1.94" ry="1.67" fill="#686868"/>
<ellipse cx="301.2" cy="54.47" rx="1.47" ry="1.83" fill="#b6b6b6"/>
<ellipse cx="312.34" cy="55" rx="1.69" ry="1.98" fill="#616161"/>
<ellipse cx="319.7" cy="55.1" rx="1.35" ry="2.32" fill="#bebebe"/>
<ellipse cx="326.05" cy="56.49" rx="1.78" ry="1.68" fill="#b4b4b4"/>
<ellipse cx="335.39" cy="53.3" rx="1.3" ry="1.74" fill="#8f8f8f"/>
<ellipse cx="342.34" cy="54.88" rx="1.48" ry="1.94" fill="#5e5e5e"/>
<ellipse cx="350.88" cy="55.53" rx="1.84" ry="1.1" fill="#2c2c2c"/>
<ellipse cx="232.53" cy="59.61" rx="1.88" ry="1.79" transform="rotate(45 232.53 59.61)" fill="#c6c6c6"/>
<ellipse cx="238.88" cy="59.93" rx="1.82" ry="1.72" fill="#b6b6b6"/>
<ellipse cx="246.25" cy="63.91" rx="1.94" ry="1.77" transform="rotate(45 246.25 63.91)" fill="#e1e1e1"/>
<ellipse cx="255.4" cy="59.09" rx="1.75" ry="2.13" fill="#a9a9a9"/>
<ellipse cx="265.78" cy="59.09" rx="1.87" ry="1.25" transform="rotate(45 265.78 59.09)" fill="#848484"/>
<ellipse cx="274.07" cy="62.1" rx="2.02" ry="1.47" transform="rotate(135 274.07 62.1)" fill="#d7d7d7"/>
<ellipse cx="281.34" cy="61.79" rx="2.33" ry="1.42" transform="rotate(135 281.34 61.79)" fill="#cfcfcf"/>
<ellipse cx="289.68" cy="62.86" rx="1.96" ry="1.69" fill="#e5e5e5"/>
<ellipse cx="298.38" cy="62.84" rx="1.59" ry="1.54" fill="#c2c2c2"/>
<ellipse cx="309.43" cy="62.9" rx="2.03" ry="1.92" fill="#d7d7d7"/>
<ellipse cx="313.33" cy="62.78" rx="1.27" ry="1.46" fill="#666666"/>
<ellipse cx="323.58" cy="60.48" rx="2.09" ry="1.89" fill="#dbdbdb"/>
<ellipse cx="331.19" cy="61.36" rx="2.02" ry="1.54" transform="rotate(135 331.19 61.36)" fill="#bbbbbb"/>
<ellipse cx="339.25" cy="63.81" rx="1.34" ry="1.89" fill="#7e7e7e"/>
<ellipse cx="349.73" cy="63.52" rx="1.44" ry="1.58" transform="rotate(45 349.73 63.52)" fill="#3b3b3b"/>
<ellipse cx="357.57" cy="60.26" rx="1.34" ry="1.77" fill="#1f1f1f"/>
<ellipse cx="234.72" cy="68.84" rx="1.87" ry="1.7" transform="rotate(45 234.72 68.84)" fill="#808080"/>
<ellipse cx="245.5" cy="66.92" rx="1.86" ry="2.13" fill="#d3d3d3"/>
<ellipse cx="252.71" cy="67.31" rx="2.11" ry="1.53" transform="rotate(135 252.71 67.31)" fill="#f9f9f9"/>
<ellipse cx="258.16" cy="71.15" rx="2.24" ry="1.9" transform="rotate(135 258.16 71.15)" fill="#ffffff"/>
<ellipse cx="267.86" cy="66.71" rx="1.82" ry="1.53" transform="rotate(135 267.86 66.71)" fill="#ededed"/>
<ellipse cx="276.77" cy="69.82" rx="2" ry="1.89" transform="rotate(45 276.77 69.82)" fill="#c5c5c5"/>
<ellipse cx="286.24" cy="67" rx="1.7" ry="1.87" fill="#f1f1f1"/>
<ellipse cx="292.42" cy="68.75" rx="1.99" ry="1.46" fill="#b1b1b1"/>
<ellipse cx="304.95" cy="69.96" rx="1.94" ry="2.1" fill="#bcbcbc"/>
<ellipse cx="312.31" cy="68.29" rx="1.86" ry="1.99" fill="#f2f2f2"/>
<ellipse cx="317.56" cy="70.13" rx="1.84" ry="1.57" fill="#ffffff"/>
<ellipse cx="330.11" cy="69.85" rx="1.56" ry="1.32" fill="#797979"/>
<ellipse cx="338.44" cy="69.63" rx="2.04" ry="1.7" fill="#6d6d6d"/>
<ellipse cx="346.81" cy="70.52" rx="1.99" ry="1.27" fill="#8b8b8b"/>
<ellipse cx="354.8" cy="68.05" rx="1.21" ry="1.45" transform="rotate(45 354.8 68.05)" fill="#2b2b2b"/>
<ellipse cx="359.16" cy="70.35" rx="1.77" ry="1.33" transform="rotate(135 359.16 70.35)" fill="#383838"/>
<ellipse cx="229.45" cy="75.63" rx="1.99" ry="1.77" fill="#ffffff"/>
<ellipse cx="242.06" cy="74.62" rx="1.77" ry="1.95" fill="#fefefe"/>
<ellipse cx="250.31" cy="76.09" rx="1.97" ry="1.46" transform="rotate(45 250.31 76.09)" fill="#cbcbcb"/>
<ellipse cx="256.57" cy="76.07" rx="2.21" ry="2" fill="#ffffff"/>
<ellipse cx="265.7" cy="75.71" rx="1.36" ry="2.03" fill="#ffffff"/>
<ellipse cx="271.85" cy="77.77" rx="1.69" ry="1.78" fill="#b5b5b5"/>
<ellipse cx="281.26" cy="76.92" rx="1.79" ry="1.54" fill="#e6e6e6"/>
<ellipse cx="290.23" cy="76.84" rx="1.4" ry="1.59" fill="#f7f7f7"/>
<ellipse cx="299.11" cy="77.99" rx="1.66" ry="1.75" fill="#898989"/>
<ellipse cx="305.27" cy="75.8" rx="2.33" ry="1.56" fill="#ffffff"/>
<ellipse cx="315.06" cy="73.81" rx="1.61" ry="1.99" transform="rotate(135 315.06 73.81)" fill="#ffffff"/>
<ellipse cx="326.87" cy="75.27" rx="1.82" ry="1.56" transform="rotate(135 326.87 75.27)" fill="#ffffff"/>
<ellipse cx="330.26" cy="74.36" rx="1.59" ry="1.4" transform="rotate(135 330.26 74.36)" fill="#e8e8e8"/>
<ellipse cx="342.14" cy="73.96" rx="1.79" ry="1.87" fill="#a1a1a1"/>
<ellipse cx="348.29" cy="75.38" rx="2.01" ry="1.25" transform="rotate(45 348.29 75.38)" fill="#797979"/>
<ellipse cx="355.83" cy="78.53" rx="1.86" ry="1.46" transform="rotate(45 355.83 78.53)" fill="#5d5d5d"/>
<ellipse cx="236.5" cy="83.1" rx="1.78" ry="1.4" transform="rotate(135 236.5 83.1)" fill="#aeaeae"/>
<ellipse cx="244.42" cy="83.18" rx="2.09" ry="1.47" transform="rotate(45 244.42 83.18)" fill="#f3f3f3"/>
<ellipse cx="250.41" cy="81.34" rx="1.96" ry="1.98" transform="rotate(45 250.41 81.34)" fill="#ffffff"/>
<ellipse cx="260.46" cy="83.71" rx="2.19" ry="1.67" fill="#bdbdbd"/>
<ellipse cx="269.43" cy="82.53" rx="1.75" ry="1.8" fill="#ffffff"/>
<ellipse cx="278.97" cy="84.02" rx="1.56" ry="1.8" transform="rotate(45 278.97 84.02)" fill="#a0a0a0"/>
<ellipse cx="282.98" cy="84.68" rx="1.96" ry="2.17" fill="#ffffff"/>
<ellipse cx="293.82" cy="85.35" rx="1.89" ry="1.91" transform="rotate(135 293.82 85.35)" fill="#dcdcdc"/>
<ellipse cx="299.96" cy="82.42" rx="1.62" ry="1.76" transform="rotate(45 299.96 82.42)" fill="#e4e4e4"/>
<ellipse cx="308.66" cy="84.83" rx="2.17" ry="1.46" transform="rotate(45 308.66 84.83)" fill="#c7c7c7"/>
<ellipse cx="318.66" cy="84.16" rx="2.06" ry="1.35" fill="#ffffff"/>
<ellipse cx="324.92" cy="82.36" rx="2.16" ry="1.85" transform="rotate(135 324.92 82.36)" fill="#e9e9e9"/>
<ellipse cx="337.11" cy="82.4" rx="1.5" ry="1.52" fill="#aeaeae"/>
<ellipse cx="342.15" cy="81.68" rx="1.98" ry="1.7" fill="#a5a5a5"/>
<ellipse cx="354.63" cy="85.27" rx="1.62" ry="1.73" fill="#727272"/>
<ellipse cx="361.37" cy="84.43" rx="1.68" ry="1.31" fill="#5a5a5a"/>
<ellipse cx="230.51" cy="92.32" rx="1.66" ry="1.88" fill="#848484"/>
<ellipse cx="240.7" cy="92.9" rx="1.7" ry="2.06" fill="#7b7b7b"/>
<ellipse cx="249.33" cy="88.44" rx="1.82" ry="1.43" transform="rotate(45 249.33 88.44)" fill="#ffffff"/>
<ellipse cx="255.27" cy="90.52" rx="1.51" ry="1.56" fill="#b5b5b5"/>
<ellipse cx="265.68" cy="89.69" rx="1.53" ry="1.42" fill="#cecece"/>
<ellipse cx="273.41" cy="91.94" rx="1.86" ry="1.37" fill="#d3d3d3"/>
<ellipse cx="283.8" cy="91.82" rx="1.95" ry="1.72" transform="rotate(45 283.8 91.82)" fill="#a3a3a3"/>
<ellipse cx="290.22" cy="92.6" rx="2.21" ry="1.71" fill="#ffffff"/>
<ellipse cx="296" cy="88.32" rx="2.24" ry="1.69" transform="rotate(135 296 88.32)" fill="#b4b4b4"/>
<ellipse cx="304.72" cy="93.01" rx="2.15" ry="1.68" transform="rotate(45 304.72 93.01)" fill="#ffffff"/>
<ellipse cx="314.02" cy="92.17" rx="2.04" ry="1.53" transform="rotate(135 314.02 92.17)" fill="#e6e6e6"/>
<ellipse cx="323.11" cy="92.76" rx="1.47" ry="1.78" fill="#a2a2a2"/>
<ellipse cx="332.76" cy="92.84" rx="1.95" ry="1.45" fill="#ffffff"/>
<ellipse cx="338.81" cy="91.56" rx="1.73" ry="2.14" fill="#939393"/>
<ellipse cx="347.01" cy="91.11" rx="1.35" ry="1.55" fill="#696969"/>
<ellipse cx="359.64" cy="92.69" rx="1.45" ry="1.34" transform="rotate(45 359.64 92.69)" fill="#8f8f8f"/>
<ellipse cx="366.62" cy="88.9" rx="1.64" ry="1.88" fill="#393939"/>
<ellipse cx="226.35" cy="96.7" rx="1.98" ry="1.6" transform="rotate(135 226.35 96.7)" fill="#989898"/>
<ellipse cx="237.44" cy="100.52" rx="1.53" ry="2.18" fill="#9e9e9e"/>
<ellipse cx="246.88" cy="98.39" rx="1.49" ry="1.66" fill="#838383"/>
<ellipse cx="253.12" cy="97.62" rx="1.96" ry="1.49" fill="#a4a4a4"/>
<ellipse cx="261.46" cy="99.08" rx="1.8" ry="1.66" transform="rotate(135 261.46 99.08)" fill="#8e8e8e"/>
<ellipse cx="267.45" cy="100.33" rx="1.61" ry="1.43" fill="#7f7f7f"/>
<ellipse cx="275.51" cy="98.52" rx="2.1" ry="1.61" transform="rotate(45 275.51 98.52)" fill="#a7a7a7"/>
<ellipse cx="285.61" cy="97.28" rx="2.3" ry="1.76" transform="rotate(45 285.61 97.28)" fill="#fdfdfd"/>
<ellipse cx="292.9" cy="97.5" rx="2.01" ry="1.72" transform="rotate(135 292.9 97.5)" fill="#ffffff"/>
<ellipse cx="302.56" cy="96.55" rx="1.7" ry="1.61" fill="#ffffff"/>
<ellipse cx="310.32" cy="99.74" rx="1.91" ry="2.16" fill="#c8c8c8"/>
<ellipse cx="321.85" cy="97.36" rx="2.12" ry="1.94" transform="rotate(45 321.85 97.36)" fill="#ffffff"/>
<ellipse cx="327" cy="96.19" rx="2.02" ry="1.73" fill="#c6c6c6"/>
<ellipse cx="335.21" cy="98.83" rx="2.03" ry="1.83" fill="#ffffff"/>
<ellipse cx="346.52" cy="98.99" rx="1.53" ry="1.53" fill="#a8a8a8"/>
<ellipse cx="355.89" cy="100.2" rx="1.82" ry="1.66" fill="#7a7a7a"/>
<ellipse cx="360.44" cy="96.82" rx="1.44" ry="1.37" transform="rotate(45 360.44 96.82)" fill="#969696"/>
<ellipse cx="369.76" cy="99.2" rx="1.28" ry="1.51" transform="rotate(135 369.76 99.2)" fill="#3a3a3a"/>
<ellipse cx="229.88" cy="103.46" rx="1.7" ry="1.61" transform="rotate(45 229.88 103.46)" fill="#e6e6e6"/>
<ellipse cx="242.09" cy="103.2" rx="2.3" ry="1.77" transform="rotate(135 242.09 103.2)" fill="#ffffff"/>
<ellipse cx="246.68" cy="103" rx="1.89" ry="1.73" fill="#bcbcbc"/>
<ellipse cx="255.43" cy="106.62" rx="1.63" ry="1.49" transform="rotate(135 255.43 106.62)" fill="#ffffff"/>
<ellipse cx="265.15" cy="105.78" rx="2.1" ry="1.84" fill="#949494"/>
<ellipse cx="272.53" cy="104.01" rx="1.61" ry="2.25" fill="#efefef"/>
<ellipse cx="280.55" cy="105.23" rx="1.47" ry="1.91" fill="#ffffff"/>
<ellipse cx="290.36" cy="106.95" rx="1.53" ry="1.45" transform="rotate(45 290.36 106.95)" fill="#a9a9a9"/>
<ellipse cx="296.96" cy="104.31" rx="2.01" ry="1.64" transform="rotate(45 296.96 104.31)" fill="#cccccc"/>
<ellipse cx="307.61" cy="107.66" rx="1.6" ry="1.45" transform="rotate(45 307.61 107.66)" fill="#bababa"/>
<ellipse cx="316.02" cy="107.1" rx="1.91" ry="1.41" fill="#ffffff"/>
<ellipse cx="326.39" cy="105.7" rx="2.16" ry="1.58" fill="#e0e0e0"/>
<ellipse cx="331.88" cy="106.27" rx="1.6" ry="1.82" transform="rotate(135 331.88 106.27)" fill="#919191"/>
<ellipse cx="342.75" cy="103.86" rx="2.02" ry="1.84" fill="#ffffff"/>
<ellipse cx="347.69" cy="106.37" rx="1.7" ry="1.77" fill="#a1a1a1"/>
<ellipse cx="356.98" cy="107.84" rx="1.5" ry="1.74" fill="#9a9a9a"/>
<ellipse cx="365.89" cy="103.21" rx="1.97" ry="1.42" transform="rotate(45 365.89 103.21)" fill="#7d7d7d"/>
<ellipse cx="374.67" cy="105.22" rx="1.83" ry="1.45" fill="#212121"/>
<ellipse cx="229.69" cy="115.17" rx="1.6" ry="1.82" fill="#818181"/>
<ellipse cx="238.08" cy="114.78" rx="1.54" ry="1.51" fill="#d8d8d8"/>
<ellipse cx="246.28" cy="111.63" rx="2.34" ry="1.62" transform="rotate(135 246.28 111.63)" fill="#f5f5f5"/>
<ellipse cx="251.93" cy="110.12" rx="1.93" ry="1.36" fill="#ffffff"/>
<ellipse cx="259.95" cy="112.99" rx="1.88" ry="1.83" fill="#9a9a9a"/>
<ellipse cx="267.14" cy="110.31" rx="1.72" ry="1.78" transform="rotate(135 267.14 110.31)" fill="#d8d8d8"/>
<ellipse cx="275.82" cy="113.44" rx="1.62" ry="1.66" transform="rotate(45 275.82 113.44)" fill="#f9f9f9"/>
<ellipse cx="286.51" cy="111.89" rx="1.7" ry="1.82" transform="rotate(135 286.51 111.89)" fill="#c5c5c5"/>
<ellipse cx="294.66" cy="112.16" rx="2.09" ry="1.31" fill="#939393"/>
<ellipse cx="303.35" cy="113.73" rx="1.89" ry="1.34" transform="rotate(135 303.35 113.73)" fill="#7a7a7a"/>
<ellipse cx="311.38" cy="110.08" rx="1.7" ry="1.3" fill="#a0a0a0"/>
<ellipse cx="321.66" cy="111.46" rx="1.57" ry="1.71" fill="#ffffff"/>
<ellipse cx="328.83" cy="113.31" rx="1.51" ry="1.86" transform="rotate(45 328.83 113.31)" fill="#aeaeae"/>
<ellipse cx="339.02" cy="110.17" rx="1.62" ry="1.42" fill="#bababa"/>
<ellipse cx="343.53" cy="111.26" rx="2.11" ry="1.77" fill="#f8f8f8"/>
<ellipse cx="355.48" cy="111.7" rx="1.56" ry="1.39" fill="#767676"/>
<ellipse cx="361.49" cy="111.38" rx="2.03" ry="1.35" fill="#999999"/>
<ellipse cx="370.3" cy="114.44" rx="1.54" ry="1.45" fill="#4a4a4a"/>
<ellipse cx="231.42" cy="118" rx="2.26" ry="1.61" fill="#d7d7d7"/>
<ellipse cx="237.89" cy="119" rx="2.13" ry="1.35" transform="rotate(45 237.89 119)" fill="#bababa"/>
<ellipse cx="248.33" cy="117.86" rx="1.73" ry="1.78" transform="rotate(45 248.33 117.86)" fill="#c2c2c2"/>
<ellipse cx="254.57" cy="118.92" rx="2.16" ry="1.73" fill="#ffffff"/>
<ellipse cx="264.89" cy="118.24" rx="1.85" ry="1.86" fill="#a9a9a9"/>
<ellipse cx="274.14" cy="119.5" rx="1.78" ry="1.61" transform="rotate(45 274.14 119.5)" fill="#ffffff"/>
<ellipse cx="280.55" cy="121.24" rx="1.91" ry="1.56" fill="#8b8b8b"/>
<ellipse cx="288.48" cy="119.18" rx="1.88" ry="1.37" transform="rotate(45 288.48 119.18)" fill="#a2a2a2"/>
<ellipse cx="301.13" cy="119.65" rx="2.27" ry="1.81" fill="#cecece"/>
<ellipse cx="308.74" cy="121.07" rx="1.67" ry="1.75" transform="rotate(45 308.74 121.07)" fill="#dedede"/>
<ellipse cx="315.97" cy="118.46" rx="1.59" ry="2.24" fill="#cbcbcb"/>
<ellipse cx="326.37" cy="120.07" rx="2.21" ry="1.76" fill="#ffffff"/>
<ellipse cx="330.62" cy="119.38" rx="1.98" ry="1.54" transform="rotate(135 330.62 119.38)" fill="#ffffff"/>
<ellipse cx="340.21" cy="120.47" rx="2.11" ry="1.73" transform="rotate(135 340.21 120.47)" fill="#ffffff"/>
<ellipse cx="348.57" cy="119.24" rx="1.55" ry="2.13" fill="#ffffff"/>
<ellipse cx="359.86" cy="118.34" rx="1.81" ry="1.59" transform="rotate(45 359.86 118.34)" fill="#f1f1f1"/>
<ellipse cx="366.79" cy="120.21" rx="1.72" ry="1.52" fill="#bbbbbb"/>
<ellipse cx="375.43" cy="121.94" rx="1.51" ry="1.42" fill="#353535"/>
<ellipse cx="226.46" cy="128.2" rx="1.79" ry="1.54" fill="#ffffff"/>
<ellipse cx="238.71" cy="125.56" rx="1.5" ry="1.33" transform="rotate(45 238.71 125.56)" fill="#7e7e7e"/>
<ellipse cx="243" cy="126.66" rx="1.72" ry="1.3" fill="#8f8f8f"/>
<ellipse cx="252.17" cy="126.49" rx="1.8" ry="1.57" transform="rotate(45 252.17 126.49)" fill="#ffffff"/>
<ellipse cx="259.56" cy="124.85" rx="1.36" ry="1.69" fill="#e6e6e6"/>
<ellipse cx="267.18" cy="126.8" rx="2.27" ry="1.94" transform="rotate(45 267.18 126.8)" fill="#e3e3e3"/>
<ellipse cx="277.05" cy="129.57" rx="2.17" ry="1.88" fill="#fafafa"/>
<ellipse cx="286.63" cy="126.41" rx="1.55" ry="1.86" fill="#f8f8f8"/>
<ellipse cx="295.1" cy="124.92" rx="2.2" ry="1.64" transform="rotate(45 295.1 124.92)" fill="#d4d4d4"/>
<ellipse cx="302.19" cy="125.8" rx="2.14" ry="1.72" transform="rotate(45 302.19 125.8)" fill="#8d8d8d"/>
<ellipse cx="309.6" cy="126.99" rx="1.73" ry="1.36" transform="rotate(135 309.6 126.99)" fill="#959595"/>
<ellipse cx="317.75" cy="128.33" rx="2.02" ry="1.6" transform="rotate(45 317.75 128.33)" fill="#8e8e8e"/>
<ellipse cx="328.28" cy="128.45" rx="2.06" ry="1.52" fill="#c2c2c2"/>
<ellipse cx="334.52" cy="126.08" rx="1.64" ry="1.51" fill="#ffffff"/>
<ellipse cx="344.24" cy="129.08" rx="2.28" ry="1.96" fill="#ffffff"/>
<ellipse cx="355.05" cy="127.2" rx="1.55" ry="1.32" transform="rotate(135 355.05 127.2)" fill="#9f9f9f"/>
<ellipse cx="363.61" cy="129.05" rx="2.05" ry="1.36" fill="#ffffff"/>
<ellipse cx="369.05" cy="127.19" rx="1.95" ry="1.44" fill="#b5b5b5"/>
<ellipse cx="377.46" cy="129.83" rx="1.5" ry="1.39" transform="rotate(45 377.46 129.83)" fill="#2b2b2b"/>
<ellipse cx="232.84" cy="133.61" rx="1.61" ry="1.64" fill="#7d7d7d"/>
<ellipse cx="242.95" cy="133.22" rx="1.79" ry="1.64" transform="rotate(135 242.95 133.22)" fill="#ffffff"/>
<ellipse cx="248.32" cy="134.02" rx="1.63" ry="1.87" fill="#e9e9e9"/>
<ellipse cx="256.24" cy="135.43" rx="1.62" ry="1.35" transform="rotate(45 256.24 135.43)" fill="#bdbdbd"/>
<ellipse cx="266.77" cy="135.18" rx="1.7" ry="1.39" transform="rotate(45 266.77 135.18)" fill="#ffffff"/>
<ellipse cx="275.82" cy="134.68" rx="1.45" ry="1.84" transform="rotate(135 275.82 134.68)" fill="#909090"/>
<ellipse cx="283.54" cy="137.02" rx="2.24" ry="1.52" transform="rotate(135 283.54 137.02)" fill="#ffffff"/>
<ellipse cx="290.13" cy="133.68" rx="2.24" ry="1.54" fill="#b8b8b8"/>
<ellipse cx="297.98" cy="135.82" rx="1.9" ry="1.8" transform="rotate(45 297.98 135.82)" fill="#ffffff"/>
<ellipse cx="306.33" cy="135.24" rx="1.37" ry="1.53" fill="#b3b3b3"/>
<ellipse cx="315.27" cy="133.4" rx="2.07" ry="1.74" fill="#979797"/>
<ellipse cx="323.4" cy="136.11" rx="1.54" ry="1.72" fill="#ffffff"/>
<ellipse cx="333.69" cy="132.99" rx="1.54" ry="1.75" transform="rotate(135 333.69 132.99)" fill="#ffffff"/>
<ellipse cx="341.69" cy="135.64" rx="1.96" ry="1.49" fill="#858585"/>
<ellipse cx="351.59" cy="135.84" rx="2.28" ry="1.64" fill="#ffffff"/>
<ellipse cx="356.63" cy="136.15" rx="1.72" ry="1.38" fill="#a2a2a2"/>
<ellipse cx="364.74" cy="134.02" rx="1.48" ry="1.59" fill="#a2a2a2"/>
<ellipse cx="376.39" cy="134.94" rx="1.75" ry="1.71" transform="rotate(45 376.39 134.94)" fill="#545454"/>
<ellipse cx="227.82" cy="142.8" rx="1.53" ry="2.09" fill="#ffffff"/>
<ellipse cx="236.73" cy="144.25" rx="1.64" ry="1.89" fill="#c7c7c7"/>
<ellipse cx="246.14" cy="143.58" rx="1.78" ry="1.34" fill="#999999"/>
<ellipse cx="251.63" cy="139.8" rx="2.24" ry="1.84" fill="#ffffff"/>
<ellipse cx="261.29" cy="141.82" rx="1.53" ry="1.84" fill="#cfcfcf"/>
<ellipse cx="270.72" cy="144.45" rx="1.75" ry="1.38" transform="rotate(45 270.72 144.45)" fill="#f5f5f5"/>
<ellipse cx="277.07" cy="144.44" rx="1.64" ry="1.78" transform="rotate(45 277.07 144.44)" fill="#ffffff"/>
<ellipse cx="284.72" cy="139.83" rx="1.83" ry="1.63" fill="#e2e2e2"/>
<ellipse cx="291.99" cy="139.94" rx="1.51" ry="1.85" transform="rotate(45 291.99 139.94)" fill="#f4f4f4"/>
<ellipse cx="301.49" cy="141.49" rx="1.79" ry="1.69" fill="#9c9c9c"/>
<ellipse cx="313.42" cy="143.97" rx="2.25" ry="1.74" transform="rotate(135 313.42 143.97)" fill="#a9a9a9"/>
<ellipse cx="317.57" cy="144.11" rx="1.79" ry="2.08" fill="#ffffff"/>
<ellipse cx="326.17" cy="141.93" rx="1.93" ry="1.95" transform="rotate(45 326.17 141.93)" fill="#c2c2c2"/>
<ellipse cx="337.83" cy="141.56" rx="2.1" ry="1.95" transform="rotate(135 337.83 141.56)" fill="#ffffff"/>
<ellipse cx="343.62" cy="139.58" rx="1.7" ry="1.27" fill="#868686"/>
<ellipse cx="353.86" cy="140.92" rx="1.81" ry="1.51" transform="rotate(45 353.86 140.92)" fill="#999999"/>
<ellipse cx="363.82" cy="140.59" rx="1.99" ry="1.35" transform="rotate(45 363.82 140.59)" fill="#939393"/>
<ellipse cx="369.56" cy="143.5" rx="1.63" ry="2.01" fill="#747474"/>
<ellipse cx="378.27" cy="144.44" rx="1.79" ry="1.4" transform="rotate(45 378.27 144.44)" fill="#313131"/>
<ellipse cx="230.69" cy="148.28" rx="1.68" ry="1.46" transform="rotate(45 230.69 148.28)" fill="#dddddd"/>
<ellipse cx="241.07" cy="150.36" rx="2.25" ry="1.67" fill="#b1b1b1"/>
<ellipse cx="249.75" cy="147.61" rx="1.98" ry="1.28" fill="#7d7d7d"/>
<ellipse cx="256.31" cy="150.36" rx="2.01" ry="1.91" transform="rotate(135 256.31 150.36)" fill="#c2c2c2"/>
<ellipse cx="262.82" cy="150.27" rx="2.03" ry="1.71" transform="rotate(135 262.82 150.27)" fill="#c7c7c7"/>
<ellipse cx="273.33" cy="150.09" rx="1.96" ry="1.6" fill="#ffffff"/>
<ellipse cx="283.75" cy="148.41" rx="1.43" ry="1.52" fill="#e8e8e8"/>
<ellipse cx="289.77" cy="147.26" rx="1.79" ry="1.86" fill="#aeaeae"/>
<ellipse cx="298.67" cy="148.13" rx="1.88" ry="1.47" transform="rotate(135 298.67 148.13)" fill="#b5b5b5"/>
<ellipse cx="309.27" cy="151.38" rx="2.3" ry="1.87" transform="rotate(135 309.27 151.38)" fill="#c4c4c4"/>
<ellipse cx="316.47" cy="150.16" rx="1.72" ry="1.62" transform="rotate(45 316.47 150.16)" fill="#e4e4e4"/>
<ellipse cx="322.88" cy="149.93" rx="2.3" ry="1.53" transform="rotate(135 322.88 149.93)" fill="#b9b9b9"/>
<ellipse cx="331.84" cy="151.68" rx="1.79" ry="1.39" fill="#f4f4f4"/>
<ellipse cx="342.37" cy="149.88" rx="1.52" ry="1.64" fill="#c0c0c0"/>
<ellipse cx="348.35" cy="147.87" rx="1.84" ry="1.51" fill="#ffffff"/>
<ellipse cx="354.8" cy="147.05" rx="2.26" ry="1.56" transform="rotate(45 354.8 147.05)" fill="#fdfdfd"/>
<ellipse cx="363.07" cy="148.34" rx="1.87" ry="1.8" transform="rotate(45 363.07 148.34)" fill="#ffffff"/>
<ellipse cx="374.59" cy="150.55" rx="2.02" ry="1.65" fill="#a4a4a4"/>
<ellipse cx="284.03" cy="154.6" rx="2.22" ry="2" transform="rotate(135 284.03 154.6)" fill="#ffffff"/>
<ellipse cx="317.72" cy="154.94" rx="2.33" ry="1.57" fill="#ffffff"/>
<ellipse cx="329.22" cy="154.13" rx="1.8" ry="2.06" fill="#ffffff"/>
<ellipse cx="367.99" cy="154.29" rx="1.88" ry="1.53" fill="#6e6e6e"/>
<ellipse cx="464.32" cy="17.75" rx="1.52" ry="1.53" transform="rotate(135 464.32 17.75)" fill="#1b1b1b"/>
<ellipse cx="502.05" cy="16.29" rx="1.06" ry="1.28" fill="#161616"/>
<ellipse cx="512.31" cy="18.74" rx="1.29" ry="1.73" fill="#202020"/>
<ellipse cx="521.61" cy="17.78" rx="1.78" ry="1.07" fill="#171717"/>
<ellipse cx="526.29" cy="19.38" rx="1.34" ry="1.45" transform="rotate(135 526.29 19.38)" fill="#161616"/>
<ellipse cx="542.13" cy="15.56" rx="1.79" ry="1.53" transform="rotate(45 542.13 15.56)" fill="#151515"/>
<ellipse cx="550.82" cy="19.37" rx="1.5" ry="1.2" transform="rotate(135 550.82 19.37)" fill="#1d1d1d"/>
<ellipse cx="559.62" cy="19.19" rx="1.67" ry="1.41" fill="#151515"/>
<ellipse cx="456.79" cy="22.06" rx="1.32" ry="1.2" fill="#191919"/>
<ellipse cx="464.32" cy="22.06" rx="1.6" ry="1.1" fill="#242424"/>
<ellipse cx="474.07" cy="23.94" rx="1.29" ry="1.81" fill="#2c2c2c"/>
<ellipse cx="481.52" cy="24.24" rx="1.81" ry="1.3" transform="rotate(45 481.52 24.24)" fill="#202020"/>
<ellipse cx="488.72" cy="24.73" rx="1.7" ry="1.3" fill="#333333"/>
<ellipse cx="498.84" cy="26.02" rx="1.81" ry="1.08" transform="rotate(135 498.84 26.02)" fill="#202020"/>
<ellipse cx="504.98" cy="23.79" rx="1.26" ry="1.23" fill="#2f2f2f"/>
<ellipse cx="511.77" cy="23.01" rx="1.16" ry="1.82" fill="#1a1a1a"/>
<ellipse cx="520.51" cy="22.41" rx="1.27" ry="1.15" fill="#2d2d2d"/>
<ellipse cx="531.79" cy="24.15" rx="1.41" ry="1.6" fill="#272727"/>
<ellipse cx="538.51" cy="21.64" rx="1.54" ry="1.5" transform="rotate(135 538.51 21.64)" fill="#151515"/>
<ellipse cx="546.52" cy="25.35" rx="1.13" ry="1.33" fill="#333333"/>
<ellipse cx="551.3" cy="25.47" rx="1.74" ry="1.15" transform="rotate(135 551.3 25.47)" fill="#313131"/>
<ellipse cx="560.56" cy="22.88" rx="1.71" ry="1.42" transform="rotate(135 560.56 22.88)" fill="#181818"/>
<ellipse cx="571.54" cy="22.79" rx="1.24" ry="1.39" fill="#191919"/>
<ellipse cx="456.09" cy="30.5" rx="1.46" ry="1.18" fill="#212121"/>
<ellipse cx="462.41" cy="30.23" rx="1.7" ry="1.23" transform="rotate(135 462.41 30.23)" fill="#1b1b1b"/>
<ellipse cx="469.32" cy="28.76" rx="1.57" ry="1.31" fill="#242424"/>
<ellipse cx="475.58" cy="30.65" rx="1.76" ry="1.33" transform="rotate(135 475.58 30.65)" fill="#202020"/>
<ellipse cx="487.03" cy="32.78" rx="1.63" ry="1.22" fill="#3e3e3e"/>
<ellipse cx="496.16" cy="28.58" rx="1.48" ry="1.48" fill="#252525"/>
<ellipse cx="503.01" cy="30.64" rx="1.37" ry="1.55" transform="rotate(135 503.01 30.64)" fill="#464646"/>
<ellipse cx="511.08" cy="30.31" rx="1.37" ry="1.44" fill="#2e2e2e"/>
<ellipse cx="518.14" cy="30.46" rx="1.29" ry="1.65" fill="#1d1d1d"/>
<ellipse cx="525.29" cy="32.9" rx="1.85" ry="1.36" transform="rotate(135 525.29 32.9)" fill="#3b3b3b"/>
<ellipse cx="536.15" cy="31.27" rx="1.37" ry="1.87" fill="#343434"/>
<ellipse cx="539.41" cy="31.89" rx="1.35" ry="1.49" fill="#373737"/>
<ellipse cx="549.42" cy="33" rx="1.62" ry="1.17" fill="#515151"/>
<ellipse cx="556.34" cy="31.99" rx="1.91" ry="1.19" fill="#383838"/>
<ellipse cx="564.22" cy="28.69" rx="1.5" ry="1.17" transform="rotate(135 564.22 28.69)" fill="#1f1f1f"/>
<ellipse cx="571.35" cy="31.92" rx="1.09" ry="1.7" fill="#1b1b1b"/>
<ellipse cx="450.76" cy="36.4" rx="1.53" ry="1.6" fill="#363636"/>
<ellipse cx="460.91" cy="38.6" rx="1.42" ry="1.39" transform="rotate(135 460.91 38.6)" fill="#6a6a6a"/>
<ellipse cx="464.55" cy="37.3" rx="1.23" ry="1.26" fill="#2c2c2c"/>
<ellipse cx="472.81" cy="39.74" rx="1.47" ry="1.42" fill="#313131"/>
<ellipse cx="484.16" cy="37.73" rx="1.15" ry="1.69" fill="#4e4e4e"/>
<ellipse cx="492.01" cy="40.07" rx="1.78" ry="1.32" transform="rotate(135 492.01 40.07)" fill="#434343"/>
<ellipse cx="500.25" cy="39.57" rx="1.78" ry="1.74" fill="#6b6b6b"/>
<ellipse cx="505.05" cy="36.09" rx="1.45" ry="1.38" transform="rotate(135 505.05 36.09)" fill="#3d3d3d"/>
<ellipse cx="516.51" cy="37.78" rx="1.58" ry="1.25" fill="#2d2d2d"/>
<ellipse cx="521.98" cy="40.15" rx="1.77" ry="1.38" fill="#4e4e4e"/>
<ellipse cx="530.81" cy="36.84" rx="1.71" ry="1.53" transform="rotate(45 530.81 36.84)" fill="#505050"/>
<ellipse cx="536.51" cy="40.01" rx="1.32" ry="1.26" transform="rotate(45 536.51 40.01)" fill="#2b2b2b"/>
<ellipse cx="548.14" cy="39.01" rx="1.91" ry="1.21" transform="rotate(135 548.14 39.01)" fill="#474747"/>
<ellipse cx="552.71" cy="36.08" rx="1.85" ry="1.53" fill="#555555"/>
<ellipse cx="561.94" cy="38.91" rx="1.28" ry="1.31" fill="#4b4b4b"/>
<ellipse cx="568.74" cy="36.41" rx="1.55" ry="1.86" fill="#393939"/>
<ellipse cx="579.59" cy="35.38" rx="1.35" ry="1.6" fill="#323232"/>
<ellipse cx="587.19" cy="38.95" rx="1.44" ry="1.25" transform="rotate(45 587.19 38.95)" fill="#151515"/>
<ellipse cx="452.9" cy="43.93" rx="1.93" ry="1.57" transform="rotate(135 452.9 43.93)" fill="#545454"/>
<ellipse cx="465.53" cy="42.81" rx="1.62" ry="1.88" fill="#404040"/>
<ellipse cx="469.35" cy="45.84" rx="1.84" ry="1.33" transform="rotate(135 469.35 45.84)" fill="#3e3e3e"/>
<ellipse cx="480.18" cy="46.58" rx="1.35" ry="1.32" transform="rotate(135 480.18 46.58)" fill="#5a5a5a"/>
<ellipse cx="484.87" cy="46.37" rx="1.76" ry="1.4" fill="#828282"/>
<ellipse cx="494.7" cy="43.71" rx="1.89" ry="1.29" fill="#4c4c4c"/>
<ellipse cx="501.06" cy="46.93" rx="2.11" ry="1.68" transform="rotate(45 501.06 46.93)" fill="#7e7e7e"/>
<ellipse cx="513.34" cy="46.56" rx="1.64" ry="1.26" transform="rotate(135 513.34 46.56)" fill="#575757"/>
<ellipse cx="519.14" cy="44.02" rx="1.3" ry="1.3" fill="#545454"/>
<ellipse cx="529.68" cy="46.21" rx="1.38" ry="1.3" fill="#848484"/>
<ellipse cx="533.69" cy="43.29" rx="2.07" ry="1.77" transform="rotate(45 533.69 43.29)" fill="#707070"/>
<ellipse cx="541.37" cy="46.21" rx="1.41" ry="1.52" transform="rotate(135 541.37 46.21)" fill="#656565"/>
<ellipse cx="552.96" cy="42.55" rx="1.41" ry="1.6" transform="rotate(45 552.96 42.55)" fill="#7c7c7c"/>
<ellipse cx="558.11" cy="46.77" rx="1.76" ry="1.45" transform="rotate(45 558.11 46.77)" fill="#626262"/>
<ellipse cx="568.47" cy="44.47" rx="1.62" ry="1.84" fill="#515151"/>
<ellipse cx="574.13" cy="44.6" rx="1.91" ry="1.72" transform="rotate(135 574.13 44.6)" fill="#767676"/>
<ellipse cx="581.6" cy="46.86" rx="1.33" ry="1.25" transform="rotate(135 581.6 46.86)" fill="#4a4a4a"/>
<ellipse cx="592.9" cy="44.95" rx="1.26" ry="1.77" fill="#292929"/>
<ellipse cx="458.91" cy="51.45" rx="1.46" ry="1.48" fill="#888888"/>
<ellipse cx="468.56" cy="51.65" rx="2.11" ry="1.58" fill="#939393"/>
<ellipse cx="472.94" cy="49.39" rx="1.86" ry="1.29" transform="rotate(45 472.94 49.39)" fill="#999999"/>
<ellipse cx="484.73" cy="50.62" rx="1.85" ry="1.44" fill="#7f7f7f"/>
<ellipse cx="489.44" cy="50.36" rx="1.58" ry="1.66" fill="#5c5c5c"/>
<ellipse cx="500.49" cy="50.25" rx="1.92" ry="1.87" transform="rotate(135 500.49 50.25)" fill="#9c9c9c"/>
<ellipse cx="507.37" cy="49.46" rx="1.72" ry="1.16" transform="rotate(45 507.37 49.46)" fill="#3e3e3e"/>
<ellipse cx="516.54" cy="49.73" rx="1.91" ry="1.78" transform="rotate(45 516.54 49.73)" fill="#7d7d7d"/>
<ellipse cx="522.38" cy="52.17" rx="1.51" ry="1.82" transform="rotate(45 522.38 52.17)" fill="#959595"/>
<ellipse cx="528.9" cy="51.15" rx="1.66" ry="1.41" fill="#616161"/>
<ellipse cx="536.35" cy="53.08" rx="1.41" ry="1.68" fill="#5a5a5a"/>
<ellipse cx="544.76" cy="50.85" rx="1.36" ry="1.72" fill="#a8a8a8"/>
<ellipse cx="556.45" cy="52.76" rx="1.6" ry="1.54" fill="#717171"/>
<ellipse cx="561.07" cy="52.12" rx="1.8" ry="1.5" transform="rotate(45 561.07 52.12)" fill="#919191"/>
<ellipse cx="570.59" cy="49.42" rx="1.53" ry="1.24" fill="#3d3d3d"/>
<ellipse cx="576.58" cy="49.81" rx="1.72" ry="1.32" fill="#777777"/>
<ellipse cx="588.29" cy="51.28" rx="1.56" ry="1.42" fill="#3a3a3a"/>
<ellipse cx="594.57" cy="52.49" rx="1.44" ry="1.4" fill="#171717"/>
<ellipse cx="457.58" cy="60.67" rx="1.86" ry="1.49" fill="#8f8f8f"/>
<ellipse cx="463.61" cy="58.68" rx="1.7" ry="1.38" transform="rotate(135 463.61 58.68)" fill="#cbcbcb"/>
<ellipse cx="469.31" cy="61.15" rx="1.51" ry="1.8" fill="#989898"/>
<ellipse cx="478.57" cy="59.31" rx="1.67" ry="1.53" fill="#4e4e4e"/>
<ellipse cx="488.9" cy="57.54" rx="2.07" ry="1.6" transform="rotate(135 488.9 57.54)" fill="#929292"/>
<ellipse cx="493.94" cy="57.08" rx="1.37" ry="1.95" fill="#8f8f8f"/>
<ellipse cx="503.77" cy="58.76" rx="1.51" ry="1.53" transform="rotate(45 503.77 58.76)" fill="#626262"/>
<ellipse cx="509.36" cy="56.49" rx="1.66" ry="1.74" fill="#aeaeae"/>
<ellipse cx="518.57" cy="57.24" rx="2.04" ry="1.64" fill="#898989"/>
<ellipse cx="526.29" cy="56.78" rx="1.9" ry="1.42" transform="rotate(45 526.29 56.78)" fill="#5a5a5a"/>
<ellipse cx="536.23" cy="60.89" rx="2.28" ry="1.72" transform="rotate(135 536.23 60.89)" fill="#aeaeae"/>
<ellipse cx="542.56" cy="59.05" rx="1.77" ry="1.44" fill="#bbbbbb"/>
<ellipse cx="550.35" cy="60.96" rx="2.09" ry="1.67" fill="#d7d7d7"/>
<ellipse cx="561.58" cy="56.44" rx="1.56" ry="1.38" transform="rotate(45 561.58 56.44)" fill="#b4b4b4"/>
<ellipse cx="565.92" cy="59.56" rx="1.45" ry="1.63" fill="#898989"/>
<ellipse cx="576.85" cy="59.99" rx="1.96" ry="1.63" fill="#a5a5a5"/>
<ellipse cx="583.11" cy="59.54" rx="1.95" ry="1.51" fill="#a0a0a0"/>
<ellipse cx="593.4" cy="60.97" rx="1.8" ry="1.5" fill="#494949"/>
<ellipse cx="598.13" cy="58.59" rx="1.7" ry="1.21" transform="rotate(45 598.13 58.59)" fill="#2e2e2e"/>
<ellipse cx="449.69" cy="65.22" rx="1.77" ry="1.84" fill="#afafaf"/>
<ellipse cx="456.76" cy="63.54" rx="1.42" ry="1.68" fill="#515151"/>
<ellipse cx="464.81" cy="64.19" rx="1.74" ry="1.51" fill="#9e9e9e"/>
<ellipse cx="476.23" cy="63.72" rx="1.99" ry="1.69" transform="rotate(45 476.23 63.72)" fill="#505050"/>
<ellipse cx="481.43" cy="64.32" rx="1.98" ry="1.25" fill="#787878"/>
<ellipse cx="488.97" cy="65.96" rx="1.82" ry="1.76" fill="#878787"/>
<ellipse cx="499.92" cy="67.9" rx="1.83" ry="1.66" fill="#aeaeae"/>
<ellipse cx="504.91" cy="67.18" rx="1.82" ry="1.78" fill="#868686"/>
<ellipse cx="513.07" cy="63.87" rx="1.82" ry="1.79" transform="rotate(45 513.07 63.87)" fill="#787878"/>
<ellipse cx="523.99" cy="67.24" rx="1.79" ry="1.74" fill="#a3a3a3"/>
<ellipse cx="532.04" cy="64.96" rx="1.72" ry="1.41" transform="rotate(45 532.04 64.96)" fill="#606060"/>
<ellipse cx="539.1" cy="64.72" rx="1.77" ry="1.67" fill="#828282"/>
<ellipse cx="546.48" cy="66.39" rx="2.24" ry="1.77" transform="rotate(135 546.48 66.39)" fill="#b8b8b8"/>
<ellipse cx="553.4" cy="67.38" rx="1.17" ry="1.89" fill="#575757"/>
<ellipse cx="560.53" cy="66.62" rx="1.63" ry="1.46" fill="#f1f1f1"/>
<ellipse cx="568.46" cy="63.4" rx="1.88" ry="1.57" transform="rotate(135 568.46 63.4)" fill="#dddddd"/>
<ellipse cx="580.5" cy="63.3" rx="1.61" ry="1.53" transform="rotate(135 580.5 63.3)" fill="#646464"/>
<ellipse cx="585.94" cy="66.34" rx="1.55" ry="1.5" transform="rotate(135 585.94 66.34)" fill="#9a9a9a"/>
<ellipse cx="594.33" cy="65.12" rx="1.47" ry="1.41" fill="#5b5b5b"/>
<ellipse cx="600.76" cy="67.37" rx="1.36" ry="1.24" fill="#2f2f2f"/>
<ellipse cx="453.9" cy="74.09" rx="1.57" ry="1.74" fill="#ffffff"/>
<ellipse cx="462.02" cy="74.55" rx="1.47" ry="1.48" fill="#a0a0a0"/>
<ellipse cx="469.39" cy="71.82" rx="1.93" ry="1.67" fill="#ffffff"/>
<ellipse cx="478.7" cy="73.13" rx="2.05" ry="1.84" transform="rotate(135 478.7 73.13)" fill="#868686"/>
<ellipse cx="483.9" cy="70.88" rx="1.68" ry="1.84" fill="#d5d5d5"/>
<ellipse cx="495.24" cy="71.17" rx="1.73" ry="2.08" fill="#dfdfdf"/>
<ellipse cx="502.88" cy="72.74" rx="2.31" ry="1.6" fill="#f1f1f1"/>
<ellipse cx="509.11" cy="73.95" rx="2.12" ry="1.66" fill="#ffffff"/>
<ellipse cx="517.19" cy="70.47" rx="2.17" ry="1.5" transform="rotate(135 517.19 70.47)" fill="#f1f1f1"/>
<ellipse cx="526.35" cy="71.97" rx="1.49" ry="1.97" fill="#e0e0e0"/>
<ellipse cx="532.27" cy="71.37" rx="1.7" ry="1.59" fill="#ffffff"/>
<ellipse cx="542.32" cy="73.44" rx="1.85" ry="1.87" fill="#929292"/>
<ellipse cx="549.51" cy="73.58" rx="1.61" ry="1.62" fill="#a6a6a6"/>
<ellipse cx="556.34" cy="74.9" rx="1.63" ry="1.82" fill="#6c6c6c"/>
<ellipse cx="564.83" cy="73.12" rx="1.43" ry="1.57" fill="#636363"/>
<ellipse cx="576.52" cy="72.52" rx="1.89" ry="2.01" fill="#efefef"/>
<ellipse cx="582.51" cy="74.86" rx="1.84" ry="1.37" transform="rotate(45 582.51 74.86)" fill="#e7e7e7"/>
<ellipse cx="589.86" cy="71.93" rx="1.97" ry="1.4" fill="#474747"/>
<ellipse cx="597.63" cy="74.32" rx="1.44" ry="1.57" transform="rotate(135 597.63 74.32)" fill="#676767"/>
<ellipse cx="605.56" cy="70.78" rx="1.39" ry="1.28" transform="rotate(45 605.56 70.78)" fill="#353535"/>
<ellipse cx="453.42" cy="77.23" rx="1.59" ry="1.9" fill="#d0d0d0"/>
<ellipse cx="461.44" cy="81.11" rx="2.32" ry="1.63" fill="#dcdcdc"/>
<ellipse cx="465.12" cy="79.87" rx="1.71" ry="1.49" fill="#acacac"/>
<ellipse cx="474.88" cy="77.48" rx="1.76" ry="1.83" fill="#939393"/>
<ellipse cx="484.4" cy="77.1" rx="1.72" ry="1.65" transform="rotate(135 484.4 77.1)" fill="#929292"/>
<ellipse cx="492.18" cy="78.04" rx="1.55" ry="1.64" fill="#f6f6f6"/>
<ellipse cx="496.85" cy="79.15" rx="1.58" ry="1.68" fill="#ffffff"/>
<ellipse cx="508.28" cy="77.43" rx="1.79" ry="1.83" transform="rotate(45 508.28 77.43)" fill="#e7e7e7"/>
<ellipse cx="514.48" cy="79.04" rx="1.53" ry="1.65" transform="rotate(135 514.48 79.04)" fill="#a7a7a7"/>
<ellipse cx="525.58" cy="79.28" rx="2.03" ry="1.83" transform="rotate(45 525.58 79.28)" fill="#bfbfbf"/>
<ellipse cx="533" cy="81.86" rx="1.42" ry="1.91" fill="#adadad"/>
<ellipse cx="540.21" cy="77.47" rx="1.61" ry="1.42" transform="rotate(45 540.21 77.47)" fill="#888888"/>
<ellipse cx="546.3" cy="79.96" rx="1.83" ry="1.73" fill="#f6f6f6"/>
<ellipse cx="556.22" cy="79.14" rx="1.9" ry="1.57" fill="#ededed"/>
<ellipse cx="563.46" cy="79.11" rx="1.93" ry="1.96" fill="#fefefe"/>
<ellipse cx="569.37" cy="79.99" rx="1.6" ry="1.88" transform="rotate(135 569.37 79.99)" fill="#b5b5b5"/>
<ellipse cx="580.16" cy="77.59" rx="2.03" ry="1.56" fill="#dbdbdb"/>
<ellipse cx="587.21" cy="79" rx="2.09" ry="1.98" fill="#ededed"/>
<ellipse cx="594.97" cy="78.61" rx="1.3" ry="1.64" fill="#595959"/>
<ellipse cx="603.71" cy="81.85" rx="1.51" ry="1.7" transform="rotate(45 603.71 81.85)" fill="#575757"/>
<ellipse cx="609.12" cy="80.35" rx="1.84" ry="1.14" transform="rotate(135 609.12 80.35)" fill="#3a3a3a"/>
<ellipse cx="456.01" cy="88.01" rx="1.54" ry="1.64" fill="#d3d3d3"/>
<ellipse cx="461.56" cy="85.67" rx="1.78" ry="1.49" fill="#7b7b7b"/>
<ellipse cx="469.07" cy="87.6" rx="1.7" ry="1.51" fill="#707070"/>
<ellipse cx="476.47" cy="85.82" rx="2.09" ry="1.37" fill="#aaaaaa"/>
<ellipse cx="485.57" cy="87.05" rx="1.57" ry="1.81" fill="#9f9f9f"/>
<ellipse cx="493.91" cy="85.88" rx="1.65" ry="1.49" fill="#848484"/>
<ellipse cx="501.18" cy="86.32" rx="1.69" ry="1.87" transform="rotate(135 501.18 86.32)" fill="#9e9e9e"/>
<ellipse cx="510.26" cy="85.81" rx="2.17" ry="1.8" fill="#d9d9d9"/>
<ellipse cx="520.77" cy="86.35" rx="1.85" ry="1.83" transform="rotate(45 520.77 86.35)" fill="#c8c8c8"/>
<ellipse cx="525.72" cy="84.23" rx="1.84" ry="1.67" fill="#d6d6d6"/>
<ellipse cx="535.5" cy="86.47" rx="2.21" ry="1.51" transform="rotate(135 535.5 86.47)" fill="#aaaaaa"/>
<ellipse cx="540.81" cy="84.52" rx="1.81" ry="1.77" transform="rotate(45 540.81 84.52)" fill="#8f8f8f"/>
<ellipse cx="551.83" cy="84.72" rx="1.95" ry="2.09" fill="#ffffff"/>
<ellipse cx="556.38" cy="86.6" rx="2.25" ry="1.71" transform="rotate(135 556.38 86.6)" fill="#ffffff"/>
<ellipse cx="564.94" cy="86.57" rx="1.78" ry="1.45" transform="rotate(45 564.94 86.57)" fill="#9b9b9b"/>
<ellipse cx="575.76" cy="84.81" rx="1.55" ry="1.76" fill="#dfdfdf"/>
<ellipse cx="582.15" cy="86.85" rx="1.58" ry="1.52" fill="#ffffff"/>
<ellipse cx="592.12" cy="84.79" rx="2.05" ry="1.82" fill="#858585"/>
<ellipse cx="597.83" cy="87.35" rx="1.57" ry="1.68" transform="rotate(45 597.83 87.35)" fill="#a4a4a4"/>
<ellipse cx="608.85" cy="84.81" rx="1.33" ry="1.13" transform="rotate(45 608.85 84.81)" fill="#232323"/>
<ellipse cx="615.04" cy="85.41" rx="1.32" ry="1.39" fill="#242424"/>
<ellipse cx="452.09" cy="94.13" rx="1.95" ry="1.71" transform="rotate(135 452.09 94.13)" fill="#bdbdbd"/>
<ellipse cx="458.06" cy="94.36" rx="1.71" ry="1.7" fill="#adadad"/>
<ellipse cx="466.71" cy="94.66" rx="2.07" ry="1.87" fill="#bfbfbf"/>
<ellipse cx="472.31" cy="95.51" rx="1.88" ry="1.89" fill="#c3c3c3"/>
<ellipse cx="483.18" cy="93.33" rx="1.63" ry="1.55" fill="#e7e7e7"/>
<ellipse cx="490.44" cy="92.12" rx="1.7" ry="1.43" fill="#6b6b6b"/>
<ellipse cx="500.39" cy="91.64" rx="1.96" ry="1.62" transform="rotate(135 500.39 91.64)" fill="#cccccc"/>
<ellipse cx="506.92" cy="92.95" rx="2.15" ry="1.57" fill="#9a9a9a"/>
<ellipse cx="512.89" cy="91.04" rx="1.38" ry="1.96" fill="#dedede"/>
<ellipse cx="521.6" cy="91.21" rx="2" ry="1.64" transform="rotate(45 521.6 91.21)" fill="#b3b3b3"/>
<ellipse cx="528.55" cy="94.68" rx="1.78" ry="1.88" fill="#b7b7b7"/>
<ellipse cx="536.8" cy="91.17" rx="1.75" ry="1.57" fill="#c7c7c7"/>
<ellipse cx="547.71" cy="93.74" rx="1.58" ry="1.91" fill="#9a9a9a"/>
<ellipse cx="555.36" cy="94.14" rx="1.93" ry="1.38" transform="rotate(45 555.36 94.14)" fill="#9e9e9e"/>
<ellipse cx="564.08" cy="94.44" rx="1.56" ry="1.28" transform="rotate(135 564.08 94.44)" fill="#656565"/>
<ellipse cx="567.96" cy="94.81" rx="1.5" ry="2.29" fill="#ffffff"/>
<ellipse cx="576.49" cy="93.15" rx="1.5" ry="1.88" fill="#e3e3e3"/>
<ellipse cx="587.44" cy="95.44" rx="1.57" ry="1.74" fill="#cccccc"/>
<ellipse cx="592.94" cy="92.06" rx="2.3" ry="1.72" transform="rotate(135 592.94 92.06)" fill="#dddddd"/>
<ellipse cx="602.83" cy="92.25" rx="1.8" ry="1.24" transform="rotate(45 602.83 92.25)" fill="#606060"/>
<ellipse cx="610.37" cy="92.86" rx="1.65" ry="1.15" fill="#272727"/>
<ellipse cx="616.51" cy="95.37" rx="1.39" ry="1.21" transform="rotate(135 616.51 95.37)" fill="#222222"/>
<ellipse cx="456.37" cy="98.54" rx="1.95" ry="1.47" transform="rotate(45 456.37 98.54)" fill="#636363"/>
<ellipse cx="462.16" cy="99.08" rx="1.93" ry="2" fill="#ababab"/>
<ellipse cx="470.22" cy="101.41" rx="1.67" ry="1.74" transform="rotate(45 470.22 101.41)" fill="#888888"/>
<ellipse cx="479.92" cy="102.66" rx="1.94" ry="1.59" transform="rotate(135 479.92 102.66)" fill="#888888"/>
<ellipse cx="487.96" cy="100.16" rx="1.81" ry="1.79" fill="#b9b9b9"/>
<ellipse cx="495.14" cy="100.68" rx="1.53" ry="1.84" fill="#8e8e8e"/>
<ellipse cx="500.14" cy="102.61" rx="1.57" ry="1.53" transform="rotate(135 500.14 102.61)" fill="#dedede"/>
<ellipse cx="512.22" cy="99.17" rx="2.12" ry="1.51" fill="#e7e7e7"/>
<ellipse cx="520.42" cy="101.4" rx="1.94" ry="1.55" transform="rotate(135 520.42 101.4)" fill="#d8d8d8"/>
<ellipse cx="526.69" cy="99.11" rx="1.81" ry="1.7" fill="#686868"/>
<ellipse cx="534.81" cy="100" rx="2.08" ry="1.62" fill="#a5a5a5"/>
<ellipse cx="541.39" cy="100.37" rx="1.78" ry="1.67" transform="rotate(45 541.39 100.37)" fill="#858585"/>
<ellipse cx="551.65" cy="101.46" rx="1.77" ry="1.5" fill="#f3f3f3"/>
<ellipse cx="557.64" cy="100.9" rx="1.85" ry="1.64" transform="rotate(135 557.64 100.9)" fill="#c6c6c6"/>
<ellipse cx="565.7" cy="99.16" rx="1.64" ry="1.93" fill="#ffffff"/>
<ellipse cx="576.35" cy="99.52" rx="1.8" ry="1.8" fill="#8a8a8a"/>
<ellipse cx="581.94" cy="100.22" rx="2.25" ry="1.97" transform="rotate(45 581.94 100.22)" fill="#c3c3c3"/>
<ellipse cx="589.49" cy="101.88" rx="1.46" ry="1.62" transform="rotate(45 589.49 101.88)" fill="#838383"/>
<ellipse cx="598.57" cy="101.83" rx="1.97" ry="1.67" fill="#9c9c9c"/>
<ellipse cx="605.49" cy="102.17" rx="1.8" ry="1.38" transform="rotate(135 605.49 102.17)" fill="#7b7b7b"/>
<ellipse cx="612.18" cy="102.17" rx="1.46" ry="1.69" fill="#2d2d2d"/>
<ellipse cx="458.79" cy="106.79" rx="1.76" ry="2.25" fill="#bfbfbf"/>
<ellipse cx="464.14" cy="107.01" rx="1.62" ry="1.57" transform="rotate(45 464.14 107.01)" fill="#a3a3a3"/>
<ellipse cx="471.4" cy="105.51" rx="2.04" ry="1.49" fill="#e9e9e9"/>
<ellipse cx="482.5" cy="106.08" rx="2.18" ry="1.39" fill="#f9f9f9"/>
<ellipse cx="490.98" cy="107.93" rx="1.63" ry="1.45" fill="#ffffff"/>
<ellipse cx="499.93" cy="107.47" rx="1.33" ry="1.47" fill="#656565"/>
<ellipse cx="507.02" cy="105.47" rx="1.77" ry="1.67" fill="#c6c6c6"/>
<ellipse cx="511.93" cy="108.68" rx="1.39" ry="1.52" transform="rotate(45 511.93 108.68)" fill="#616161"/>
<ellipse cx="519.11" cy="105.61" rx="1.75" ry="1.86" transform="rotate(45 519.11 105.61)" fill="#cbcbcb"/>
<ellipse cx="530.13" cy="107.51" rx="2.12" ry="1.29" transform="rotate(135 530.13 107.51)" fill="#7c7c7c"/>
<ellipse cx="538.74" cy="109.09" rx="2.02" ry="1.41" transform="rotate(135 538.74 109.09)" fill="#f3f3f3"/>
<ellipse cx="544.26" cy="105.51" rx="1.55" ry="1.61" fill="#cdcdcd"/>
<ellipse cx="554.18" cy="109.14" rx="2.24" ry="1.69" transform="rotate(135 554.18 109.14)" fill="#e6e6e6"/>
<ellipse cx="559.21" cy="107.99" rx="1.57" ry="1.49" transform="rotate(45 559.21 107.99)" fill="#747474"/>
<ellipse cx="568.99" cy="106.36" rx="1.95" ry="1.38" fill="#7e7e7e"/>
<ellipse cx="578.54" cy="109.16" rx="2.27" ry="1.66" transform="rotate(135 578.54 109.16)" fill="#e8e8e8"/>
<ellipse cx="585.35" cy="109.52" rx="1.56" ry="1.37" transform="rotate(45 585.35 109.52)" fill="#d4d4d4"/>
<ellipse cx="594.12" cy="105.45" rx="1.61" ry="1.45" transform="rotate(45 594.12 105.45)" fill="#dbdbdb"/>
<ellipse cx="602.28" cy="107.87" rx="1.57" ry="1.58" transform="rotate(45 602.28 107.87)" fill="#919191"/>
<ellipse cx="608.03" cy="105.78" rx="1.45" ry="1.65" fill="#717171"/>
<ellipse cx="618.18" cy="109.5" rx="1.51" ry="1.27" fill="#2f2f2f"/>
<ellipse cx="454.1" cy="115.93" rx="1.81" ry="1.78" transform="rotate(135 454.1 115.93)" fill="#8c8c8c"/>
<ellipse cx="463.6" cy="111.95" rx="2.09" ry="1.89" fill="#cccccc"/>
<ellipse cx="469.52" cy="113.95" rx="1.97" ry="1.64" transform="rotate(45 469.52 113.95)" fill="#6f6f6f"/>
<ellipse cx="476.9" cy="113.17" rx="1.96" ry="1.42" fill="#9a9a9a"/>
<ellipse cx="485.84" cy="112.73" rx="1.67" ry="1.36" fill="#a8a8a8"/>
<ellipse cx="492.47" cy="113.7" rx="1.63" ry="1.47" transform="rotate(135 492.47 113.7)" fill="#ffffff"/>
<ellipse cx="499.9" cy="112.84" rx="1.96" ry="1.96" fill="#c0c0c0"/>
<ellipse cx="509.12" cy="112.47" rx="1.47" ry="1.7" fill="#aeaeae"/>
<ellipse cx="516.68" cy="114.07" rx="1.47" ry="1.78" fill="#757575"/>
<ellipse cx="525.27" cy="116.75" rx="1.97" ry="2.22" fill="#d5d5d5"/>
<ellipse cx="535.28" cy="113.17" rx="2.06" ry="1.64" fill="#6d6d6d"/>
<ellipse cx="542.69" cy="115.59" rx="2.06" ry="1.53" fill="#d4d4d4"/>
<ellipse cx="550.33" cy="116.7" rx="1.95" ry="1.63" fill="#e5e5e5"/>
<ellipse cx="559.52" cy="114.24" rx="1.55" ry="1.54" fill="#636363"/>
<ellipse cx="563.82" cy="112.93" rx="2.16" ry="1.4" fill="#878787"/>
<ellipse cx="572.14" cy="115.83" rx="1.82" ry="1.52" transform="rotate(45 572.14 115.83)" fill="#898989"/>
<ellipse cx="582.73" cy="113.84" rx="1.69" ry="1.77" fill="#f1f1f1"/>
<ellipse cx="591" cy="116.47" rx="1.55" ry="1.83" fill="#ffffff"/>
<ellipse cx="599.57" cy="111.92" rx="1.53" ry="1.75" fill="#595959"/>
<ellipse cx="605.88" cy="113.42" rx="2.02" ry="1.33" fill="#979797"/>
<ellipse cx="611.84" cy="113.03" rx="1.39" ry="1.55" transform="rotate(135 611.84 113.03)" fill="#2e2e2e"/>
<ellipse cx="450.74" cy="118.93" rx="1.95" ry="1.79" transform="rotate(45 450.74 118.93)" fill="#d2d2d2"/>
<ellipse cx="459.99" cy="122.2" rx="1.57" ry="1.68" transform="rotate(45 459.99 122.2)" fill="#fcfcfc"/>
<ellipse cx="464.3" cy="122.9" rx="2.12" ry="1.37" fill="#fcfcfc"/>
<ellipse cx="475.38" cy="121.85" rx="2.02" ry="1.88" transform="rotate(45 475.38 121.85)" fill="#d2d2d2"/>
<ellipse cx="481.28" cy="121.63" rx="1.85" ry="1.67" transform="rotate(45 481.28 121.63)" fill="#dfdfdf"/>
<ellipse cx="491.72" cy="121.57" rx="2.01" ry="1.76" transform="rotate(45 491.72 121.57)" fill="#969696"/>
<ellipse cx="497.99" cy="122.75" rx="2.1" ry="1.62" fill="#ffffff"/>
<ellipse cx="503.52" cy="120.98" rx="1.36" ry="1.67" fill="#d9d9d9"/>
<ellipse cx="515.36" cy="120.72" rx="2.08" ry="1.54" fill="#ababab"/>
<ellipse cx="521.35" cy="121.05" rx="1.52" ry="1.67" fill="#e1e1e1"/>
<ellipse cx="528.45" cy="120.06" rx="1.75" ry="1.37" fill="#b6b6b6"/>
<ellipse cx="535.23" cy="120.46" rx="1.88" ry="1.4" fill="#ffffff"/>
<ellipse cx="544.81" cy="121.13" rx="1.65" ry="1.42" transform="rotate(45 544.81 121.13)" fill="#f8f8f8"/>
<ellipse cx="555.48" cy="123.15" rx="1.97" ry="1.36" transform="rotate(135 555.48 123.15)" fill="#bfbfbf"/>
<ellipse cx="562.79" cy="120.69" rx="1.84" ry="1.58" fill="#b6b6b6"/>
<ellipse cx="568.73" cy="120.86" rx="1.51" ry="1.45" transform="rotate(45 568.73 120.86)" fill="#757575"/>
<ellipse cx="576.37" cy="122.04" rx="1.49" ry="1.35" transform="rotate(45 576.37 122.04)" fill="#b9b9b9"/>
<ellipse cx="588.08" cy="122.52" rx="2.16" ry="1.83" fill="#d6d6d6"/>
<ellipse cx="594.76" cy="123.12" rx="2.13" ry="1.72" fill="#b8b8b8"/>
<ellipse cx="599.64" cy="123.17" rx="1.78" ry="1.75" fill="#959595"/>
<ellipse cx="608.74" cy="120.68" rx="1.58" ry="1.31" transform="rotate(135 608.74 120.68)" fill="#373737"/>
<ellipse cx="615.17" cy="119.2" rx="1.63" ry="1.53" fill="#1e1e1e"/>
<ellipse cx="455.57" cy="127.61" rx="1.82" ry="1.22" transform="rotate(135 455.57 127.61)" fill="#717171"/>
<ellipse cx="461.03" cy="129.5" rx="1.81" ry="1.69" fill="#a5a5a5"/>
<ellipse cx="468.86" cy="129.66" rx="1.43" ry="1.6" fill="#ffffff"/>
<ellipse cx="479.31" cy="129.75" rx="1.69" ry="1.73" fill="#656565"/>
<ellipse cx="486.63" cy="129.01" rx="1.96" ry="1.46" fill="#ffffff"/>
<ellipse cx="493.16" cy="130.55" rx="1.77" ry="1.44" transform="rotate(45 493.16 130.55)" fill="#828282"/>
<ellipse cx="502.17" cy="128.38" rx="1.67" ry="1.35" transform="rotate(135 502.17 128.38)" fill="#b2b2b2"/>
<ellipse cx="509.61" cy="128.86" rx="1.61" ry="1.55" fill="#a2a2a2"/>
<ellipse cx="520.14" cy="129.34" rx="1.76" ry="1.39" transform="rotate(45 520.14 129.34)" fill="#6b6b6b"/>
<ellipse cx="528.81" cy="126.65" rx="1.69" ry="1.34" fill="#777777"/>
<ellipse cx="534.51" cy="130.68" rx="1.53" ry="1.47" fill="#c7c7c7"/>
<ellipse cx="542.62" cy="128.3" rx="1.97" ry="1.74" transform="rotate(135 542.62 128.3)" fill="#c0c0c0"/>
<ellipse cx="551.01" cy="129.53" rx="1.52" ry="1.77" fill="#ffffff"/>
<ellipse cx="561.05" cy="126.54" rx="2.3" ry="1.78" fill="#c2c2c2"/>
<ellipse cx="568.17" cy="127.62" rx="1.7" ry="1.98" fill="#999999"/>
<ellipse cx="573.61" cy="129.18" rx="2.21" ry="1.35" fill="#b8b8b8"/>
<ellipse cx="582.01" cy="125.82" rx="1.53" ry="1.58" transform="rotate(135 582.01 125.82)" fill="#ffffff"/>
<ellipse cx="590.02" cy="126.79" rx="1.76" ry="1.74" fill="#808080"/>
<ellipse cx="597.46" cy="126.48" rx="2.21" ry="1.46" fill="#b7b7b7"/>
<ellipse cx="604.42" cy="127.79" rx="1.62" ry="1.78" fill="#b5b5b5"/>
<ellipse cx="613.96" cy="126.19" rx="1.37" ry="1.67" fill="#282828"/>
<ellipse cx="620.28" cy="130.03" rx="1.34" ry="1.57" transform="rotate(45 620.28 130.03)" fill="#1b1b1b"/>
<ellipse cx="456.25" cy="135.11" rx="1.91" ry="1.49" transform="rotate(135 456.25 135.11)" fill="#ffffff"/>
<ellipse cx="466.51" cy="132.91" rx="1.78" ry="1.69" fill="#f2f2f2"/>
<ellipse cx="476.1" cy="134.43" rx="1.44" ry="2.03" fill="#afafaf"/>
<ellipse cx="481.49" cy="133.74" rx="1.98" ry="1.48" transform="rotate(135 481.49 133.74)" fill="#a2a2a2"/>
<ellipse cx="487.98" cy="134.24" rx="2.01" ry="1.58" fill="#b9b9b9"/>
<ellipse cx="497.95" cy="136.8" rx="1.68" ry="1.42" transform="rotate(135 497.95 136.8)" fill="#686868"/>
<ellipse cx="505.57" cy="135.63" rx="1.55" ry="1.66" fill="#d6d6d6"/>
<ellipse cx="516.06" cy="133.56" rx="1.4" ry="1.32" fill="#767676"/>
<ellipse cx="521.23" cy="135.53" rx="1.4" ry="1.34" transform="rotate(135 521.23 135.53)" fill="#6c6c6c"/>
<ellipse cx="527.84" cy="134.72" rx="2.31" ry="1.7" fill="#ffffff"/>
<ellipse cx="539.57" cy="137.62" rx="1.61" ry="1.53" transform="rotate(45 539.57 137.62)" fill="#bcbcbc"/>
<ellipse cx="543.47" cy="133.26" rx="1.6" ry="1.47" fill="#939393"/>
<ellipse cx="552.67" cy="133.4" rx="1.76" ry="1.39" transform="rotate(45 552.67 133.4)" fill="#949494"/>
<ellipse cx="563.4" cy="132.82" rx="2.1" ry="1.41" transform="rotate(135 563.4 132.82)" fill="#717171"/>
<ellipse cx="571.64" cy="136.84" rx="2.02" ry="1.51" transform="rotate(45 571.64 136.84)" fill="#686868"/>
<ellipse cx="576.73" cy="134.99" rx="2.14" ry="1.66" fill="#ffffff"/>
<ellipse cx="586.65" cy="136.1" rx="1.47" ry="1.51" transform="rotate(45 586.65 136.1)" fill="#6a6a6a"/>
<ellipse cx="596.07" cy="135.07" rx="2.01" ry="1.79" transform="rotate(135 596.07 135.07)" fill="#ffffff"/>
<ellipse cx="601.75" cy="135.92" rx="1.58" ry="1.4" transform="rotate(135 601.75 135.92)" fill="#a9a9a9"/>
<ellipse cx="607.76" cy="137.15" rx="1.37" ry="1.37" transform="rotate(135 607.76 137.15)" fill="#3e3e3e"/>
<ellipse cx="615.42" cy="134.12" rx="1.87" ry="1.29" fill="#343434"/>
<ellipse cx="454.88" cy="144.2" rx="1.52" ry="1.38" transform="rotate(135 454.88 144.2)" fill="#eaeaea"/>
<ellipse cx="464.61" cy="141.52" rx="1.75" ry="1.55" transform="rotate(45 464.61 141.52)" fill="#fefefe"/>
<ellipse cx="471.15" cy="143.03" rx="1.73" ry="2.06" fill="#9a9a9a"/>
<ellipse cx="477.3" cy="144.67" rx="1.58" ry="1.86" fill="#909090"/>
<ellipse cx="485.34" cy="144.11" rx="1.32" ry="1.26" transform="rotate(135 485.34 144.11)" fill="#666666"/>
<ellipse cx="495.99" cy="143.49" rx="1.75" ry="1.61" fill="#bfbfbf"/>
<ellipse cx="502.59" cy="142.88" rx="1.58" ry="1.53" transform="rotate(135 502.59 142.88)" fill="#939393"/>
<ellipse cx="510.8" cy="142.39" rx="1.65" ry="1.4" fill="#7e7e7e"/>
<ellipse cx="519.26" cy="144.04" rx="1.98" ry="1.51" fill="#b6b6b6"/>
<ellipse cx="527.84" cy="142.51" rx="1.26" ry="1.84" fill="#7f7f7f"/>
<ellipse cx="535.98" cy="143.02" rx="2.27" ry="1.47" transform="rotate(45 535.98 143.02)" fill="#cdcdcd"/>
<ellipse cx="540.33" cy="141.14" rx="1.63" ry="1.75" fill="#b7b7b7"/>
<ellipse cx="551.07" cy="141.04" rx="1.82" ry="1.56" transform="rotate(45 551.07 141.04)" fill="#959595"/>
<ellipse cx="557.87" cy="140.02" rx="1.74" ry="1.46" fill="#656565"/>
<ellipse cx="568.78" cy="143.92" rx="1.35" ry="1.57" fill="#989898"/>
<ellipse cx="574.45" cy="143.69" rx="2.15" ry="1.56" transform="rotate(135 574.45 143.69)" fill="#d1d1d1"/>
<ellipse cx="584.6" cy="143.14" rx="1.95" ry="1.51" transform="rotate(45 584.6 143.14)" fill="#cacaca"/>
<ellipse cx="590.55" cy="140.95" rx="1.77" ry="1.22" fill="#676767"/>
<ellipse cx="597.63" cy="140.42" rx="1.84" ry="1.29" fill="#7f7f7f"/>
<ellipse cx="608.76" cy="142.53" rx="1.67" ry="1.58" transform="rotate(45 608.76 142.53)" fill="#828282"/>
<ellipse cx="612.97" cy="140.2" rx="1.52" ry="1.33" fill="#4f4f4f"/>
<ellipse cx="460.68" cy="149.67" rx="2.15" ry="1.76" fill="#9e9e9e"/>
<ellipse cx="467.82" cy="147.23" rx="1.71" ry="1.38" transform="rotate(45 467.82 147.23)" fill="#ffffff"/>
<ellipse cx="477.81" cy="147.86" rx="2.2" ry="1.99" fill="#e9e9e9"/>
<ellipse cx="482" cy="149.77" rx="1.94" ry="1.35" fill="#909090"/>
<ellipse cx="490.14" cy="147.67" rx="1.95" ry="1.65" fill="#717171"/>
<ellipse cx="498.93" cy="148" rx="1.44" ry="1.89" fill="#c6c6c6"/>
<ellipse cx="506.56" cy="149.34" rx="1.85" ry="1.59" transform="rotate(45 506.56 149.34)" fill="#fcfcfc"/>
<ellipse cx="515.63" cy="150.92" rx="1.97" ry="1.6" fill="#eeeeee"/>
<ellipse cx="523.64" cy="146.83" rx="2.33" ry="1.46" transform="rotate(45 523.64 146.83)" fill="#d6d6d6"/>
<ellipse cx="530.25" cy="148.61" rx="1.99" ry="1.7" fill="#fdfdfd"/>
<ellipse cx="539.6" cy="149.28" rx="2.01" ry="1.7" transform="rotate(45 539.6 149.28)" fill="#797979"/>
<ellipse cx="549.58" cy="146.96" rx="1.66" ry="1.48" fill="#646464"/>
<ellipse cx="554.14" cy="148.01" rx="1.76" ry="1.64" fill="#808080"/>
<ellipse cx="562.2" cy="149.16" rx="1.97" ry="1.28" fill="#6d6d6d"/>
<ellipse cx="571.99" cy="146.94" rx="1.36" ry="1.34" fill="#696969"/>
<ellipse cx="577.71" cy="148.33" rx="1.79" ry="1.87" fill="#808080"/>
<ellipse cx="588.83" cy="150.14" rx="1.62" ry="1.52" fill="#898989"/>
<ellipse cx="595.77" cy="150.83" rx="1.98" ry="1.47" fill="#d8d8d8"/>
<ellipse cx="602.21" cy="147.18" rx="2.18" ry="1.45" transform="rotate(135 602.21 147.18)" fill="#c5c5c5"/>
<ellipse cx="610.93" cy="150.91" rx="1.37" ry="1.25" fill="#4c4c4c"/>
<ellipse cx="620.44" cy="151.08" rx="1.25" ry="1.38" transform="rotate(45 620.44 151.08)" fill="#1b1b1b"/>
<ellipse cx="508.48" cy="154.78" rx="2.2" ry="1.43" transform="rotate(45 508.48 154.78)" fill="#ffffff"/>
<ellipse cx="542.28" cy="154.62" rx="2.02" ry="1.75" fill="#bcbcbc"/>
<ellipse cx="558.38" cy="154.29" rx="2.05" ry="1.26" fill="#767676"/>
<ellipse cx="604.95" cy="154.88" rx="2.11" ry="1.38" fill="#afafaf"/>
<ellipse cx="615.16" cy="154.42" rx="1.68" ry="1.35" transform="rotate(45 615.16 154.42)" fill="#212121"/>
</g>
<path d="M74.1 12C75.37 13.45 78.98 17.27 81.7 20.7C84.42 24.13 87.68 28.43 90.4 32.6C93.12 36.77 95.82 41.53 98 45.7C100.18 49.87 101.68 53.62 103.5 57.6C105.32 61.58 106.92 65.43 108.9 69.6C110.88 73.77 113.05 78.43 115.4 82.6C117.75 86.77 120.28 90.8 123 94.6C125.72 98.4 128.72 102.33 131.7 105.4C134.68 108.47 139.37 111.73 140.9 113" fill="none" stroke="#fafafa" stroke-width="1.05" stroke-dasharray="0.95 1.45"/>
<path d="M333.5 11.3C334.87 12.87 339.07 17.15 341.7 20.7C344.33 24.25 346.93 28.43 349.3 32.6C351.67 36.77 353.97 41.35 355.9 45.7C357.83 50.05 359.35 54.37 360.9 58.7C362.45 63.03 363.68 67.35 365.2 71.7C366.72 76.05 368.4 80.63 370 84.8C371.6 88.97 373.17 93.08 374.8 96.7C376.43 100.32 378.43 104.03 379.8 106.5C381.17 108.97 382.47 110.67 383 111.5" fill="none" stroke="#fafafa" stroke-width="1.05" stroke-dasharray="0.95 1.45"/>
<path d="M587.1 12.9C588.08 14.67 591.03 19.77 593 23.5C594.97 27.23 596.95 30.98 598.9 35.3C600.85 39.62 602.82 44.68 604.7 49.4C606.58 54.12 608.5 58.88 610.2 63.6C611.9 68.32 613.45 73 614.9 77.7C616.35 82.4 617.65 87.1 618.9 91.8C620.15 96.5 621.35 101.58 622.4 105.9C623.45 110.22 624.73 115.73 625.2 117.7" fill="none" stroke="#fafafa" stroke-width="1.05" stroke-dasharray="0.95 1.45"/>
<path d="M292.3 82.7C293.25 82.48 296.05 81.85 298 81.4C299.95 80.95 302 80.2 304 80C306 79.8 308.33 80.5 310 80.2C311.67 79.9 312.5 78.57 314 78.2C315.5 77.83 317.33 77.97 319 78C320.67 78.03 322.17 78.53 324 78.4C325.83 78.27 327.58 77.55 330 77.2C332.42 76.85 337.08 76.45 338.5 76.3" fill="none" stroke="#f4c430" stroke-width="1.45" stroke-linecap="round" stroke-linejoin="round"/>
<path d="M280.6 89.7C281.5 89.45 284.1 88.68 286 88.2C287.9 87.72 289.67 87.33 292 86.8C294.33 86.27 297.33 85.53 300 85C302.67 84.47 305.33 84.03 308 83.6C310.67 83.17 313.5 82.73 316 82.4C318.5 82.07 320.53 81.88 323 81.6C325.47 81.32 329.5 80.85 330.8 80.7" fill="none" stroke="#2468dc" stroke-width="1.45" stroke-linecap="round" stroke-linejoin="round"/>
<path d="M273.9 97.1C274.25 96.75 275.23 95.68 276 95C276.77 94.32 277.83 93.67 278.5 93C279.17 92.33 279.1 91.55 280 91C280.9 90.45 282.4 90 283.9 89.7C285.4 89.4 286.98 89.32 289 89.2C291.02 89.08 293.67 89.2 296 89C298.33 88.8 300.67 88.23 303 88C305.33 87.77 307.83 87.73 310 87.6C312.17 87.47 313.93 87.35 316 87.2C318.07 87.05 321.33 86.78 322.4 86.7" fill="none" stroke="#b01ee6" stroke-width="1.45" stroke-linecap="round" stroke-linejoin="round"/>
<path d="M283.9 105.8C284.42 105.43 285.65 104.27 287 103.6C288.35 102.93 290.17 102.4 292 101.8C293.83 101.2 295.72 100.62 298 100C300.28 99.38 303.37 98.5 305.7 98.1C308.03 97.7 309.95 97.78 312 97.6C314.05 97.42 316 97.2 318 97C320 96.8 321.98 96.55 324 96.4C326.02 96.25 329.08 96.15 330.1 96.1" fill="none" stroke="#f07d2c" stroke-width="1.45" stroke-linecap="round" stroke-linejoin="round"/>
<path d="M258.2 101.4C258.67 101.5 260.03 102.13 261 102C261.97 101.87 262.67 100.93 264 100.6C265.33 100.27 267.17 100.3 269 100C270.83 99.7 272.83 99.07 275 98.8C277.17 98.53 279.67 98.57 282 98.4C284.33 98.23 286.5 97.93 289 97.8C291.5 97.67 294.05 97.72 297 97.6C299.95 97.48 305.08 97.18 306.7 97.1" fill="none" stroke="#2fe032" stroke-width="1.45" stroke-linecap="round" stroke-linejoin="round"/>
<path d="M236.1 123.2C236.92 122.9 239.18 121.93 241 121.4C242.82 120.87 244.67 120.43 247 120C249.33 119.57 252.33 119.1 255 118.8C257.67 118.5 260.33 118.35 263 118.2C265.67 118.05 268.07 117.97 271 117.9C273.93 117.83 279 117.82 280.6 117.8" fill="none" stroke="#f272c4" stroke-width="1.45" stroke-linecap="round" stroke-linejoin="round"/>
<path d="M236.1 131.6C236.42 131.3 237.02 130.4 238 129.8C238.98 129.2 240.33 128.52 242 128C243.67 127.48 245.67 127 248 126.7C250.33 126.4 253.33 126.42 256 126.2C258.67 125.98 261.33 125.5 264 125.4C266.67 125.3 269.35 125.63 272 125.6C274.65 125.57 278.58 125.27 279.9 125.2" fill="none" stroke="#e22c2c" stroke-width="1.45" stroke-linecap="round" stroke-linejoin="round"/>
<path d="M317.4 139.9C318.17 139.52 320.23 138.32 322 137.6C323.77 136.88 326 136.2 328 135.6C330 135 332.17 134.4 334 134C335.83 133.6 337.17 133.43 339 133.2C340.83 132.97 342.85 132.87 345 132.6C347.15 132.33 350.75 131.77 351.9 131.6" fill="none" stroke="#74e2f2" stroke-width="1.45" stroke-linecap="round" stroke-linejoin="round"/>
<circle cx="338.5" cy="76.3" r="2.25" fill="#f4c430"/>
<circle cx="330.8" cy="80.7" r="2.25" fill="#2468dc"/>
<circle cx="322.4" cy="86.7" r="2.25" fill="#b01ee6"/>
<circle cx="330.1" cy="96.1" r="2.25" fill="#f07d2c"/>
<circle cx="306.7" cy="97.1" r="2.25" fill="#2fe032"/>
<circle cx="280.6" cy="117.8" r="2.25" fill="#f272c4"/>
<circle cx="279.9" cy="125.2" r="2.25" fill="#e22c2c"/>
<circle cx="351.9" cy="131.6" r="2.25" fill="#74e2f2"/>
<path d="M515.3 82.7C516.42 82.45 519.88 81.72 522 81.2C524.12 80.68 526 79.82 528 79.6C530 79.38 532.33 80.23 534 79.9C535.67 79.57 536.65 77.97 538 77.6C539.35 77.23 540.77 77.53 542.1 77.7C543.43 77.87 544.35 78.62 546 78.6C547.65 78.58 549.67 78 552 77.6C554.33 77.2 557.67 76.73 560 76.2C562.33 75.67 563.97 74.93 566 74.4C568.03 73.87 569.87 73.48 572.2 73C574.53 72.52 577.37 72.13 580 71.5C582.63 70.87 585.5 70.05 588 69.2C590.5 68.35 592.78 67.33 595 66.4C597.22 65.47 600.25 64.07 601.3 63.6" fill="none" stroke="#f4c430" stroke-width="1.45" stroke-linecap="round" stroke-linejoin="round"/>
<path d="M508.6 87.7C509.67 87.52 512.77 87.05 515 86.6C517.23 86.15 519.5 85.53 522 85C524.5 84.47 527.33 83.97 530 83.4C532.67 82.83 535.43 82.12 538 81.6C540.57 81.08 542.9 80.6 545.4 80.3C547.9 80 550.23 80.12 553 79.8C555.77 79.48 559.17 78.87 562 78.4C564.83 77.93 567.18 77.52 570 77C572.82 76.48 576.23 75.87 578.9 75.3C581.57 74.73 583.65 74.22 586 73.6C588.35 72.98 590.83 72.27 593 71.6C595.17 70.93 598 69.93 599 69.6" fill="none" stroke="#2468dc" stroke-width="1.45" stroke-linecap="round" stroke-linejoin="round"/>
<path d="M496.9 97.1C497.25 96.75 498.23 95.68 499 95C499.77 94.32 500.83 93.67 501.5 93C502.17 92.33 502.37 91.43 503 91C503.63 90.57 504.3 90.63 505.3 90.4C506.3 90.17 507.38 89.7 509 89.6C510.62 89.5 512.83 90 515 89.8C517.17 89.6 519.5 88.8 522 88.4C524.5 88 527.33 87.6 530 87.4C532.67 87.2 535.43 87.37 538 87.2C540.57 87.03 542.9 86.77 545.4 86.4C547.9 86.03 550.57 85.37 553 85C555.43 84.63 557.83 84.63 560 84.2C562.17 83.77 563.97 82.87 566 82.4C568.03 81.93 569.87 81.8 572.2 81.4C574.53 81 577.53 80.43 580 80C582.47 79.57 584.83 79.25 587 78.8C589.17 78.35 592 77.55 593 77.3" fill="none" stroke="#b01ee6" stroke-width="1.45" stroke-linecap="round" stroke-linejoin="round"/>
<path d="M506.9 105.5C507.42 105.15 508.65 104.05 510 103.4C511.35 102.75 513.17 102.17 515 101.6C516.83 101.03 518.72 100.58 521 100C523.28 99.42 526.2 98.47 528.7 98.1C531.2 97.73 533.45 97.98 536 97.8C538.55 97.62 541.67 97.23 544 97C546.33 96.77 548.08 96.55 550 96.4C551.92 96.25 553.5 96.3 555.5 96.1C557.5 95.9 559.58 95.62 562 95.2C564.42 94.78 567.18 94.3 570 93.6C572.82 92.9 576.23 91.67 578.9 91C581.57 90.33 583.65 90.17 586 89.6C588.35 89.03 590.83 88.3 593 87.6C595.17 86.9 598 85.77 599 85.4" fill="none" stroke="#f07d2c" stroke-width="1.45" stroke-linecap="round" stroke-linejoin="round"/>
<path d="M481.2 101.4C481.67 101.5 483.03 102.13 484 102C484.97 101.87 485.67 100.93 487 100.6C488.33 100.27 490.17 100.3 492 100C493.83 99.7 495.83 99.07 498 98.8C500.17 98.53 502.67 98.57 505 98.4C507.33 98.23 509.5 97.93 512 97.8C514.5 97.67 517.22 97.72 520 97.6C522.78 97.48 525.87 97.37 528.7 97.1C531.53 96.83 534.12 96.38 537 96C539.88 95.62 542.92 95.18 546 94.8C549.08 94.42 552.67 94.03 555.5 93.7C558.33 93.37 560.25 93.08 563 92.8C565.75 92.52 569.02 92.28 572 92C574.98 91.72 579.42 91.25 580.9 91.1" fill="none" stroke="#2fe032" stroke-width="1.45" stroke-linecap="round" stroke-linejoin="round"/>
<path d="M459.1 123.2C459.92 122.9 462.18 121.93 464 121.4C465.82 120.87 467.67 120.43 470 120C472.33 119.57 475.33 119.1 478 118.8C480.67 118.5 483.13 118.37 486 118.2C488.87 118.03 492.37 117.85 495.2 117.8C498.03 117.75 500.37 118.07 503 117.9C505.63 117.73 508.17 117.08 511 116.8C513.83 116.52 517.05 116.42 520 116.2C522.95 115.98 525.87 115.8 528.7 115.5C531.53 115.2 534.28 114.78 537 114.4C539.72 114.02 542.37 113.57 545 113.2C547.63 112.83 551.5 112.37 552.8 112.2" fill="none" stroke="#f272c4" stroke-width="1.45" stroke-linecap="round" stroke-linejoin="round"/>
<path d="M460.1 131.2C460.42 130.93 461.02 130.17 462 129.6C462.98 129.03 464.37 128.32 466 127.8C467.63 127.28 469.47 126.8 471.8 126.5C474.13 126.2 477.3 126.22 480 126C482.7 125.78 485.33 125.27 488 125.2C490.67 125.13 493.33 125.7 496 125.6C498.67 125.5 501.33 124.78 504 124.6C506.67 124.42 509 124.63 512 124.5C515 124.37 518.67 123.98 522 123.8C525.33 123.62 528.67 123.6 532 123.4C535.33 123.2 538.53 122.8 542 122.6C545.47 122.4 551 122.27 552.8 122.2" fill="none" stroke="#e22c2c" stroke-width="1.45" stroke-linecap="round" stroke-linejoin="round"/>
<path d="M540.4 139.9C541.17 139.52 543.23 138.32 545 137.6C546.77 136.88 549 136.2 551 135.6C553 135 555.13 134.4 557 134C558.87 133.6 560.03 133.53 562.2 133.2C564.37 132.87 567.37 132.47 570 132C572.63 131.53 575.67 130.83 578 130.4C580.33 129.97 582.17 129.77 584 129.4C585.83 129.03 587 128.87 589 128.2C591 127.53 593.67 126.37 596 125.4C598.33 124.43 600.83 123.4 603 122.4C605.17 121.4 607.05 120.43 609 119.4C610.95 118.37 613.75 116.73 614.7 116.2" fill="none" stroke="#74e2f2" stroke-width="1.45" stroke-linecap="round" stroke-linejoin="round"/>
<circle cx="601.3" cy="63.6" r="2.25" fill="#f4c430"/>
<circle cx="599" cy="69.6" r="2.25" fill="#2468dc"/>
<circle cx="593" cy="77.3" r="2.25" fill="#b01ee6"/>
<circle cx="599" cy="85.4" r="2.25" fill="#f07d2c"/>
<circle cx="580.9" cy="91.1" r="2.25" fill="#2fe032"/>
<circle cx="552.8" cy="112.2" r="2.25" fill="#f272c4"/>
<circle cx="552.8" cy="122.2" r="2.25" fill="#e22c2c"/>
<circle cx="614.7" cy="116.2" r="2.25" fill="#74e2f2"/>
<circle cx="65.6" cy="83.2" r="2.2" fill="#f4c430"/>
<circle cx="54.9" cy="88.9" r="2.2" fill="#2468dc"/>
<circle cx="47.2" cy="96.4" r="2.2" fill="#b01ee6"/>
<circle cx="27.8" cy="103.6" r="2.2" fill="#2fe032"/>
<circle cx="57.1" cy="106.1" r="2.2" fill="#f07d2c"/>
<circle cx="9.7" cy="124.9" r="2.2" fill="#f272c4"/>
<circle cx="10.9" cy="132.6" r="2.2" fill="#e22c2c"/>
<circle cx="93.1" cy="140.8" r="2.2" fill="#74e2f2"/>
<rect x="630" y="146.2" width="34.3" height="3.5" fill="#fff"/>
<text x="6.8" y="13.2" font-size="10.5" fill="#fff" font-weight="bold">a</text>
<text x="179.5" y="16.3" font-size="11" fill="#fff" textLength="31" lengthAdjust="spacingAndGlyphs">0 min</text>
<text x="121.6" y="72.2" font-size="10.2" fill="#fff" textLength="19.2" lengthAdjust="spacingAndGlyphs">DBL</text>
<text x="395.8" y="16.2" font-size="11" fill="#f4f4f4" style='font-family:"DejaVu Sans", "Liberation Sans", sans-serif' textLength="38.8" lengthAdjust="spacingAndGlyphs">45 min</text>
<text x="619.8" y="16.2" font-size="11" fill="#f4f4f4" style='font-family:"DejaVu Sans", "Liberation Sans", sans-serif' textLength="38.8" lengthAdjust="spacingAndGlyphs">90 min</text>
</g>
<g id="panel-b">
<text x="7.2" y="171.7" font-size="10.3" fill="#111" font-weight="bold">b</text>
<line x1="32" y1="186.7" x2="204" y2="186.7" stroke="#6e6e6e" stroke-width="0.9" stroke-dasharray="0.9 1.15"/>
<path d="M53.2 186.7h0M54.4 186.78h0M55.6 186.87h0M56.8 186.95h0M58 187.04h0M59.2 187.12h0M60.4 187.2h0M61.6 187.29h0M62.8 187.37h0M64 187.46h0M65.2 187.54h0M66.4 187.62h0M67.6 187.71h0M68.8 187.79h0M70 187.88h0M71.2 187.96h0M72.4 188.04h0M73.6 188.13h0M74.8 188.13h0M76 188.04h0M77.2 187.96h0M78.4 187.88h0M79.6 187.79h0M80.8 187.71h0M82 187.62h0M83.2 187.54h0M84.4 187.46h0M85.6 187.37h0M86.8 187.29h0M88 187.2h0M89.2 187.12h0M90.4 187.04h0M91.6 186.95h0M92.8 186.87h0M94 186.78h0M95.2 186.7h0M58.6 188.37h0M59.8 188.46h0M61 188.54h0M62.2 188.63h0M63.4 188.71h0M64.6 188.79h0M65.8 188.88h0M67 188.96h0M68.2 189.05h0M69.4 189.13h0M70.6 189.21h0M71.8 189.3h0M73 189.38h0M74.2 189.47h0M75.4 189.38h0M76.6 189.3h0M77.8 189.21h0M79 189.13h0M80.2 189.05h0M81.4 188.96h0M82.6 188.88h0M83.8 188.79h0M85 188.71h0M86.2 188.63h0M87.4 188.54h0M88.6 188.46h0M89.8 188.37h0M53.2 190.05h0M54.4 190.13h0M55.6 190.22h0M56.8 190.3h0M58 190.39h0M59.2 190.47h0M60.4 190.55h0M61.6 190.64h0M62.8 190.72h0M64 190.81h0M65.2 190.89h0M66.4 190.97h0M67.6 191.06h0M68.8 191.14h0M70 191.23h0M71.2 191.31h0M72.4 191.39h0M73.6 191.48h0M74.8 191.48h0M76 191.39h0M77.2 191.31h0M78.4 191.23h0M79.6 191.14h0M80.8 191.06h0M82 190.97h0M83.2 190.89h0M84.4 190.81h0M85.6 190.72h0M86.8 190.64h0M88 190.55h0M89.2 190.47h0M90.4 190.39h0M91.6 190.3h0M92.8 190.22h0M94 190.13h0M95.2 190.05h0M58.2 191.72h0M60.2 191.8h0M62.2 191.88h0M64.2 191.96h0M66.2 192.04h0M68.2 192.12h0M70.2 192.2h0M72.2 192.28h0M74.2 192.36h0M76.2 192.28h0M78.2 192.2h0M80.2 192.12h0M82.2 192.04h0M84.2 191.96h0M86.2 191.88h0M88.2 191.8h0M90.2 191.72h0M53.2 193.4h0M55.2 193.48h0M57.2 193.56h0M59.2 193.64h0M61.2 193.72h0M63.2 193.8h0M65.2 193.88h0M67.2 193.96h0M69.2 194.04h0M71.2 194.12h0M73.2 194.2h0M75.2 194.2h0M77.2 194.12h0M79.2 194.04h0M81.2 193.96h0M83.2 193.88h0M85.2 193.8h0M87.2 193.72h0M89.2 193.64h0M91.2 193.56h0M93.2 193.48h0M95.2 193.4h0M58.2 195.07h0M60.2 195.15h0M62.2 195.23h0M64.2 195.31h0M66.2 195.39h0M68.2 195.47h0M70.2 195.55h0M72.2 195.63h0M74.2 195.71h0M76.2 195.63h0M78.2 195.55h0M80.2 195.47h0M82.2 195.39h0M84.2 195.31h0M86.2 195.23h0M88.2 195.15h0M90.2 195.07h0M61.2 196.75h0M63.2 196.83h0M65.2 196.91h0M67.2 196.99h0M69.2 197.07h0M71.2 197.15h0M73.2 197.23h0M75.2 197.23h0M77.2 197.15h0M79.2 197.07h0M81.2 196.99h0M83.2 196.91h0M85.2 196.83h0M87.2 196.75h0M64.2 198.42h0M66.2 198.5h0M68.2 198.58h0M70.2 198.66h0M72.2 198.74h0M74.2 198.82h0M76.2 198.74h0M78.2 198.66h0M80.2 198.58h0M82.2 198.5h0M84.2 198.42h0M57.2 200.1h0M59.2 200.18h0M61.2 200.26h0M63.2 200.34h0M65.2 200.42h0M67.2 200.5h0M69.2 200.58h0M71.2 200.66h0M73.2 200.74h0M75.2 200.74h0M77.2 200.66h0M79.2 200.58h0M81.2 200.5h0M83.2 200.42h0M85.2 200.34h0M87.2 200.26h0M89.2 200.18h0M91.2 200.1h0M62.2 201.77h0M64.2 201.85h0M66.2 201.93h0M68.2 202.01h0M70.2 202.09h0M72.2 202.17h0M74.2 202.25h0M76.2 202.17h0M78.2 202.09h0M80.2 202.01h0M82.2 201.93h0M84.2 201.85h0M86.2 201.77h0M55.2 203.45h0M57.2 203.53h0M59.2 203.61h0M61.2 203.69h0M63.2 203.77h0M65.2 203.85h0M67.2 203.93h0M69.2 204.01h0M71.2 204.09h0M73.2 204.17h0M75.2 204.17h0M77.2 204.09h0M79.2 204.01h0M81.2 203.93h0M83.2 203.85h0M85.2 203.77h0M87.2 203.69h0M89.2 203.61h0M91.2 203.53h0M93.2 203.45h0M64.2 205.12h0M66.2 205.2h0M68.2 205.28h0M70.2 205.36h0M72.2 205.44h0M74.2 205.52h0M76.2 205.44h0M78.2 205.36h0M80.2 205.28h0M82.2 205.2h0M84.2 205.12h0M59.2 206.8h0M61.2 206.88h0M63.2 206.96h0M65.2 207.04h0M67.2 207.12h0M69.2 207.2h0M71.2 207.28h0M73.2 207.36h0M75.2 207.36h0M77.2 207.28h0M79.2 207.2h0M81.2 207.12h0M83.2 207.04h0M85.2 206.96h0M87.2 206.88h0M89.2 206.8h0M64.2 208.47h0M66.2 208.55h0M68.2 208.63h0M70.2 208.71h0M72.2 208.79h0M74.2 208.87h0M76.2 208.79h0M78.2 208.71h0M80.2 208.63h0M82.2 208.55h0M84.2 208.47h0M61.2 210.15h0M63.2 210.23h0M65.2 210.31h0M67.2 210.39h0M69.2 210.47h0M71.2 210.55h0M73.2 210.63h0M75.2 210.63h0M77.2 210.55h0M79.2 210.47h0M81.2 210.39h0M83.2 210.31h0M85.2 210.23h0M87.2 210.15h0M64.2 211.82h0M66.2 211.9h0M68.2 211.98h0M70.2 212.06h0M72.2 212.14h0M74.2 212.22h0M76.2 212.14h0M78.2 212.06h0M80.2 211.98h0M82.2 211.9h0M84.2 211.82h0M63.2 213.5h0M65.2 213.58h0M67.2 213.66h0M69.2 213.74h0M71.2 213.82h0M73.2 213.9h0M75.2 213.9h0M77.2 213.82h0M79.2 213.74h0M81.2 213.66h0M83.2 213.58h0M85.2 213.5h0M66.2 215.17h0M68.2 215.25h0M70.2 215.33h0M72.2 215.41h0M74.2 215.49h0M76.2 215.41h0M78.2 215.33h0M80.2 215.25h0M82.2 215.17h0M64.75 216.85h0M66.85 216.93h0M68.95 217.02h0M71.05 217.1h0M73.15 217.19h0M75.25 217.19h0M77.35 217.1h0M79.45 217.02h0M81.55 216.93h0M83.65 216.85h0M67.9 218.52h0M70 218.61h0M72.1 218.69h0M74.2 218.78h0M76.3 218.69h0M78.4 218.61h0M80.5 218.52h0M66.85 220.2h0M68.95 220.83h0M71.05 221.46h0M73.15 222.09h0M75.25 222.09h0M77.35 221.46h0M79.45 220.83h0M81.55 220.2h0M70 222.41h0M72.1 223.04h0M74.2 223.67h0M76.3 223.04h0M78.4 222.41h0M68.95 224.62h0M71.05 225.25h0M73.15 225.88h0M75.25 225.88h0M77.35 225.25h0M79.45 224.62h0M72.1 226.83h0M74.2 227.46h0M76.3 226.83h0M71.05 229.04h0M73.15 229.67h0M75.25 229.67h0M77.35 229.04h0M72.1 231.25h0M74.2 231.88h0M76.3 231.25h0M71.05 233.47h0M73.15 234.1h0M75.25 234.1h0M77.35 233.47h0M72.1 235.68h0M74.2 236.31h0M76.3 235.68h0M71.05 237.89h0M73.15 238.52h0M75.25 238.52h0M77.35 237.89h0M72.1 240.1h0M74.2 240.73h0M76.3 240.1h0M71.05 242.31h0M73.15 242.94h0M75.25 242.94h0M77.35 242.31h0M72.1 244.52h0M74.2 245.15h0M76.3 244.52h0M72.1 246.73h0M74.2 247.36h0M76.3 246.73h0M73.1 261.07h0M75.3 261.07h0M74.2 263.75h0M73.1 265.76h0M75.3 265.76h0M74.2 268.44h0M74.2 271.12h0M73.1 274.47h0M75.3 274.47h0M74.2 277.15h0M74.2 280.5h0M74.2 284.52h0M73.1 286.53h0M75.3 286.53h0M74.2 290.55h0M73.1 293.23h0M75.3 293.23h0" fill="none" stroke="#7a7a7a" stroke-width="1.44" stroke-linecap="round"/>
<path d="M139.5 188.71h0M140.7 188.79h0M141.9 188.88h0M143.1 188.96h0M144.3 189.05h0M145.5 189.13h0M146.7 189.21h0M147.9 189.3h0M149.1 189.38h0M150.3 189.47h0M151.5 189.55h0M152.7 189.63h0M153.9 189.72h0M155.1 189.8h0M156.3 189.89h0M157.5 189.97h0M158.7 190.05h0M159.9 190.14h0M161.1 190.14h0M162.3 190.05h0M163.5 189.97h0M164.7 189.89h0M165.9 189.8h0M167.1 189.72h0M168.3 189.63h0M169.5 189.55h0M170.7 189.47h0M171.9 189.38h0M173.1 189.3h0M174.3 189.21h0M175.5 189.13h0M176.7 189.05h0M177.9 188.96h0M179.1 188.88h0M180.3 188.79h0M181.5 188.71h0M142.5 190.38h0M143.7 190.47h0M144.9 190.55h0M146.1 190.64h0M147.3 190.72h0M148.5 190.8h0M149.7 190.89h0M150.9 190.97h0M152.1 191.06h0M153.3 191.14h0M154.5 191.22h0M155.7 191.31h0M156.9 191.39h0M158.1 191.48h0M159.3 191.56h0M160.5 191.64h0M161.7 191.56h0M162.9 191.48h0M164.1 191.39h0M165.3 191.31h0M166.5 191.22h0M167.7 191.14h0M168.9 191.06h0M170.1 190.97h0M171.3 190.89h0M172.5 190.8h0M173.7 190.72h0M174.9 190.64h0M176.1 190.55h0M177.3 190.47h0M178.5 190.38h0M139.5 192.06h0M140.7 192.14h0M141.9 192.23h0M143.1 192.31h0M144.3 192.4h0M145.5 192.48h0M146.7 192.56h0M147.9 192.65h0M149.1 192.73h0M150.3 192.82h0M151.5 192.9h0M152.7 192.98h0M153.9 193.07h0M155.1 193.15h0M156.3 193.24h0M157.5 193.32h0M158.7 193.4h0M159.9 193.49h0M161.1 193.49h0M162.3 193.4h0M163.5 193.32h0M164.7 193.24h0M165.9 193.15h0M167.1 193.07h0M168.3 192.98h0M169.5 192.9h0M170.7 192.82h0M171.9 192.73h0M173.1 192.65h0M174.3 192.56h0M175.5 192.48h0M176.7 192.4h0M177.9 192.31h0M179.1 192.23h0M180.3 192.14h0M181.5 192.06h0M145.7 193.73h0M147.55 193.81h0M149.4 193.88h0M151.25 193.96h0M153.1 194.03h0M154.95 194.1h0M156.8 194.18h0M158.65 194.25h0M160.5 194.33h0M162.35 194.25h0M164.2 194.18h0M166.05 194.1h0M167.9 194.03h0M169.75 193.96h0M171.6 193.88h0M173.45 193.81h0M175.3 193.73h0M139.22 195.41h0M141.07 195.48h0M142.93 195.56h0M144.78 195.63h0M146.62 195.71h0M148.47 195.78h0M150.32 195.85h0M152.18 195.93h0M154.03 196h0M155.88 196.08h0M157.72 196.15h0M159.57 196.22h0M161.43 196.22h0M163.28 196.15h0M165.12 196.08h0M166.97 196h0M168.82 195.93h0M170.68 195.85h0M172.53 195.78h0M174.38 195.71h0M176.22 195.63h0M178.07 195.56h0M179.93 195.48h0M181.78 195.41h0M143.85 197.08h0M145.7 197.16h0M147.55 197.23h0M149.4 197.31h0M151.25 197.38h0M153.1 197.45h0M154.95 197.53h0M156.8 197.6h0M158.65 197.68h0M160.5 197.75h0M162.35 197.68h0M164.2 197.6h0M166.05 197.53h0M167.9 197.45h0M169.75 197.38h0M171.6 197.31h0M173.45 197.23h0M175.3 197.16h0M177.15 197.08h0M139.22 198.76h0M141.07 198.83h0M142.93 198.91h0M144.78 198.98h0M146.62 199.06h0M148.47 199.13h0M150.32 199.2h0M152.18 199.28h0M154.03 199.35h0M155.88 199.43h0M157.72 199.5h0M159.57 199.57h0M161.43 199.57h0M163.28 199.5h0M165.12 199.43h0M166.97 199.35h0M168.82 199.28h0M170.68 199.2h0M172.53 199.13h0M174.38 199.06h0M176.22 198.98h0M178.07 198.91h0M179.93 198.83h0M181.78 198.76h0M143.85 200.43h0M145.7 200.51h0M147.55 200.58h0M149.4 200.66h0M151.25 200.73h0M153.1 200.8h0M154.95 200.88h0M156.8 200.95h0M158.65 201.03h0M160.5 201.1h0M162.35 201.03h0M164.2 200.95h0M166.05 200.88h0M167.9 200.8h0M169.75 200.73h0M171.6 200.66h0M173.45 200.58h0M175.3 200.51h0M177.15 200.43h0M142.93 202.11h0M144.78 202.18h0M146.62 202.26h0M148.47 202.33h0M150.32 202.41h0M152.18 202.48h0M154.03 202.55h0M155.88 202.63h0M157.72 202.7h0M159.57 202.78h0M161.43 202.78h0M163.28 202.7h0M165.12 202.63h0M166.97 202.55h0M168.82 202.48h0M170.68 202.41h0M172.53 202.33h0M174.38 202.26h0M176.22 202.18h0M178.07 202.11h0M145.7 203.78h0M147.55 203.86h0M149.4 203.93h0M151.25 204.01h0M153.1 204.08h0M154.95 204.15h0M156.8 204.23h0M158.65 204.3h0M160.5 204.38h0M162.35 204.3h0M164.2 204.23h0M166.05 204.15h0M167.9 204.08h0M169.75 204.01h0M171.6 203.93h0M173.45 203.86h0M175.3 203.78h0M142.93 205.46h0M144.78 205.53h0M146.62 205.61h0M148.47 205.68h0M150.32 205.76h0M152.18 205.83h0M154.03 205.9h0M155.88 205.98h0M157.72 206.05h0M159.57 206.13h0M161.43 206.13h0M163.28 206.05h0M165.12 205.98h0M166.97 205.9h0M168.82 205.83h0M170.68 205.76h0M172.53 205.68h0M174.38 205.61h0M176.22 205.53h0M178.07 205.46h0M147.55 207.13h0M149.4 207.21h0M151.25 207.28h0M153.1 207.36h0M154.95 207.43h0M156.8 207.5h0M158.65 207.58h0M160.5 207.65h0M162.35 207.58h0M164.2 207.5h0M166.05 207.43h0M167.9 207.36h0M169.75 207.28h0M171.6 207.21h0M173.45 207.13h0M148.47 208.81h0M150.32 208.88h0M152.18 208.96h0M154.03 209.03h0M155.88 209.11h0M157.72 209.18h0M159.57 209.25h0M161.43 209.25h0M163.28 209.18h0M165.12 209.11h0M166.97 209.03h0M168.82 208.96h0M170.68 208.88h0M172.53 208.81h0M149.4 210.48h0M151.25 210.56h0M153.1 210.63h0M154.95 210.71h0M156.8 210.78h0M158.65 210.85h0M160.5 210.93h0M162.35 210.85h0M164.2 210.78h0M166.05 210.71h0M167.9 210.63h0M169.75 210.56h0M171.6 210.48h0M146.62 212.16h0M148.47 212.23h0M150.32 212.31h0M152.18 212.38h0M154.03 212.46h0M155.88 212.53h0M157.72 212.6h0M159.57 212.68h0M161.43 212.68h0M163.28 212.6h0M165.12 212.53h0M166.97 212.46h0M168.82 212.38h0M170.68 212.31h0M172.53 212.23h0M174.38 212.16h0M151.25 213.83h0M153.1 213.91h0M154.95 213.98h0M156.8 214.06h0M158.65 214.13h0M160.5 214.2h0M162.35 214.13h0M164.2 214.06h0M166.05 213.98h0M167.9 213.91h0M169.75 213.83h0M144.78 215.51h0M146.62 215.58h0M148.47 215.66h0M150.32 215.73h0M152.18 215.81h0M154.03 215.88h0M155.88 215.95h0M157.72 216.03h0M159.57 216.1h0M161.43 216.1h0M163.28 216.03h0M165.12 215.95h0M166.97 215.88h0M168.82 215.81h0M170.68 215.73h0M172.53 215.66h0M174.38 215.58h0M176.22 215.51h0M152.5 217.18h0M154.5 217.78h0M156.5 218.38h0M158.5 218.98h0M160.5 219.58h0M162.5 218.98h0M164.5 218.38h0M166.5 217.78h0M168.5 217.18h0M151.5 219.4h0M153.5 220h0M155.5 220.6h0M157.5 221.2h0M159.5 221.8h0M161.5 221.8h0M163.5 221.2h0M165.5 220.6h0M167.5 220h0M169.5 219.4h0M152.5 221.61h0M154.5 222.21h0M156.5 222.81h0M158.5 223.41h0M160.5 224.01h0M162.5 223.41h0M164.5 222.81h0M166.5 222.21h0M168.5 221.61h0M153.5 223.82h0M155.5 224.42h0M157.5 225.02h0M159.5 225.62h0M161.5 225.62h0M163.5 225.02h0M165.5 224.42h0M167.5 223.82h0M154.5 226.03h0M156.5 226.63h0M158.5 227.23h0M160.5 227.83h0M162.5 227.23h0M164.5 226.63h0M166.5 226.03h0M153.5 228.24h0M155.5 228.84h0M157.5 229.44h0M159.5 230.04h0M161.5 230.04h0M163.5 229.44h0M165.5 228.84h0M167.5 228.24h0M154.5 230.45h0M156.5 231.05h0M158.5 231.65h0M160.5 232.25h0M162.5 231.65h0M164.5 231.05h0M166.5 230.45h0M153.5 232.66h0M155.5 233.26h0M157.5 233.86h0M159.5 234.46h0M161.5 234.46h0M163.5 233.86h0M165.5 233.26h0M167.5 232.66h0M152.5 234.87h0M154.5 235.47h0M156.5 236.07h0M158.5 236.67h0M160.5 237.27h0M162.5 236.67h0M164.5 236.07h0M166.5 235.47h0M168.5 234.87h0M155.5 237.08h0M157.5 237.68h0M159.5 238.28h0M161.5 238.28h0M163.5 237.68h0M165.5 237.08h0M152.5 239.29h0M154.5 239.89h0M156.5 240.49h0M158.5 241.09h0M160.5 241.69h0M162.5 241.09h0M164.5 240.49h0M166.5 239.89h0M168.5 239.29h0M153.5 241.51h0M155.5 242.11h0M157.5 242.71h0M159.5 243.31h0M161.5 243.31h0M163.5 242.71h0M165.5 242.11h0M167.5 241.51h0M156.5 243.72h0M158.5 244.32h0M160.5 244.92h0M162.5 244.32h0M164.5 243.72h0M155.5 245.93h0M157.5 246.53h0M159.5 247.13h0M161.5 247.13h0M163.5 246.53h0M165.5 245.93h0M156.5 248.14h0M158.5 248.74h0M160.5 249.34h0M162.5 248.74h0M164.5 248.14h0M155.5 250.35h0M157.5 250.95h0M159.5 251.55h0M161.5 251.55h0M163.5 250.95h0M165.5 250.35h0M158.5 252.56h0M160.5 253.16h0M162.5 252.56h0M157.5 254.77h0M159.5 255.37h0M161.5 255.37h0M163.5 254.77h0M158.5 256.98h0M160.5 257.58h0M162.5 256.98h0M155.5 259.19h0M157.5 259.79h0M159.5 260.39h0M161.5 260.39h0M163.5 259.79h0M165.5 259.19h0M158.5 261.4h0M160.5 262h0M162.5 261.4h0M157.5 263.62h0M159.5 264.22h0M161.5 264.22h0M163.5 263.62h0M156.5 265.83h0M158.5 266.43h0M160.5 267.03h0M162.5 266.43h0M164.5 265.83h0M155.5 268.04h0M157.5 268.64h0M159.5 269.24h0M161.5 269.24h0M163.5 268.64h0M165.5 268.04h0M156.5 270.25h0M158.5 270.85h0M160.5 271.45h0M162.5 270.85h0M164.5 270.25h0M155.5 272.46h0M157.5 273.06h0M159.5 273.66h0M161.5 273.66h0M163.5 273.06h0M165.5 272.46h0M156.5 274.67h0M158.5 275.27h0M160.5 275.87h0M162.5 275.27h0M164.5 274.67h0M155.5 276.88h0M157.5 277.48h0M159.5 278.08h0M161.5 278.08h0M163.5 277.48h0M165.5 276.88h0M158.5 279.09h0M160.5 279.69h0M162.5 279.09h0M160.5 303.28h0" fill="none" stroke="#a416dc" stroke-width="1.44" stroke-linecap="round"/>
<line x1="74.2" y1="183.35" x2="74.2" y2="224.22" stroke="#111" stroke-width="1.05"/>
<line x1="68.8" y1="183.35" x2="79.6" y2="183.35" stroke="#111" stroke-width="1.05"/>
<line x1="68.8" y1="224.22" x2="79.6" y2="224.22" stroke="#111" stroke-width="1.05"/>
<line x1="52.4" y1="203.85" x2="96" y2="203.85" stroke="#111" stroke-width="1.8"/>
<line x1="160.5" y1="189.38" x2="160.5" y2="239.63" stroke="#111" stroke-width="1.05"/>
<line x1="155.1" y1="189.38" x2="165.9" y2="189.38" stroke="#111" stroke-width="1.05"/>
<line x1="155.1" y1="239.63" x2="165.9" y2="239.63" stroke="#111" stroke-width="1.05"/>
<line x1="138.9" y1="214.17" x2="182.1" y2="214.17" stroke="#111" stroke-width="1.8"/>
<line x1="31" y1="172.8" x2="31" y2="321.4" stroke="#111" stroke-width="1.3"/>
<line x1="30.4" y1="320.7" x2="204.2" y2="320.7" stroke="#111" stroke-width="1.3"/>
<line x1="28" y1="320.7" x2="31" y2="320.7" stroke="#111" stroke-width="1"/>
<text x="27" y="323.6" font-size="8.3" text-anchor="end" fill="#1c1c1c">0.0</text>
<line x1="28" y1="293.9" x2="31" y2="293.9" stroke="#111" stroke-width="1"/>
<text x="27" y="296.8" font-size="8.3" text-anchor="end" fill="#1c1c1c">0.2</text>
<line x1="28" y1="267.1" x2="31" y2="267.1" stroke="#111" stroke-width="1"/>
<text x="27" y="270" font-size="8.3" text-anchor="end" fill="#1c1c1c">0.4</text>
<line x1="28" y1="240.3" x2="31" y2="240.3" stroke="#111" stroke-width="1"/>
<text x="27" y="243.2" font-size="8.3" text-anchor="end" fill="#1c1c1c">0.6</text>
<line x1="28" y1="213.5" x2="31" y2="213.5" stroke="#111" stroke-width="1"/>
<text x="27" y="216.4" font-size="8.3" text-anchor="end" fill="#1c1c1c">0.8</text>
<line x1="28" y1="186.7" x2="31" y2="186.7" stroke="#111" stroke-width="1"/>
<text x="27" y="189.6" font-size="8.3" text-anchor="end" fill="#1c1c1c">1.0</text>
<line x1="74.2" y1="320.7" x2="74.2" y2="323.7" stroke="#111" stroke-width="1.1"/>
<line x1="160.5" y1="320.7" x2="160.5" y2="323.7" stroke="#111" stroke-width="1.1"/>
<text x="10.8" y="248" font-size="10" text-anchor="middle" fill="#1c1c1c" textLength="51.2" lengthAdjust="spacingAndGlyphs" transform="rotate(-90 10.8 248)">Persistence</text>
<text x="53.2" y="333.5" font-size="10" fill="#1c1c1c" font-style="italic" textLength="49.2" lengthAdjust="spacingAndGlyphs">H2B-eGFP</text>
<text fill="#1c1c1c" x="142" y="333.5" font-size="10" textLength="36.2" lengthAdjust="spacingAndGlyphs"><tspan font-style="italic">fry</tspan>-MO +</text>
<text x="135.2" y="343.6" font-size="10" fill="#1c1c1c" font-style="italic" textLength="49.2" lengthAdjust="spacingAndGlyphs">H2B-eGFP</text>
<text x="161" y="186" font-size="8.5" text-anchor="middle" fill="#111" textLength="14" lengthAdjust="spacingAndGlyphs">****</text>
</g>
<g id="panel-c">
<text x="226.3" y="173" font-size="10.3" fill="#111" font-weight="bold">c</text>
<rect x="265.9" y="193.96" width="18.2" height="125.74" fill="#b1b1b5" stroke="#1a1a1a" stroke-width="1"/>
<rect x="284.1" y="288.27" width="18.2" height="31.43" fill="#b1b1b5" stroke="#1a1a1a" stroke-width="1"/>
<rect x="302.3" y="290.68" width="18.2" height="29.02" fill="#b1b1b5" stroke="#1a1a1a" stroke-width="1"/>
<rect x="320.5" y="295.52" width="18.2" height="24.18" fill="#b1b1b5" stroke="#1a1a1a" stroke-width="1"/>
<rect x="338.7" y="310.03" width="18.2" height="9.67" fill="#b1b1b5" stroke="#1a1a1a" stroke-width="1"/>
<rect x="356.9" y="312.45" width="18.2" height="7.25" fill="#b1b1b5" stroke="#1a1a1a" stroke-width="1"/>
<rect x="375.1" y="317.28" width="18.2" height="2.42" fill="#b1b1b5" stroke="#1a1a1a" stroke-width="1"/>
<rect x="393.3" y="317.28" width="18.2" height="2.42" fill="#b1b1b5" stroke="#1a1a1a" stroke-width="1"/>
<rect x="411.5" y="317.28" width="18.2" height="2.42" fill="#b1b1b5" stroke="#1a1a1a" stroke-width="1"/>
<line x1="256.3" y1="174.12" x2="256.3" y2="320.35" stroke="#111" stroke-width="1.3"/>
<line x1="255.65" y1="319.7" x2="441" y2="319.7" stroke="#111" stroke-width="1.3"/>
<line x1="253.9" y1="319.7" x2="256.3" y2="319.7" stroke="#111" stroke-width="1"/>
<text x="253.9" y="322.5" font-size="8" text-anchor="end" fill="#1c1c1c" textLength="4.4" lengthAdjust="spacingAndGlyphs">0</text>
<line x1="253.9" y1="295.52" x2="256.3" y2="295.52" stroke="#111" stroke-width="1"/>
<text x="253.9" y="298.32" font-size="8" text-anchor="end" fill="#1c1c1c" textLength="8.6" lengthAdjust="spacingAndGlyphs">10</text>
<line x1="253.9" y1="271.34" x2="256.3" y2="271.34" stroke="#111" stroke-width="1"/>
<text x="253.9" y="274.14" font-size="8" text-anchor="end" fill="#1c1c1c" textLength="8.6" lengthAdjust="spacingAndGlyphs">20</text>
<line x1="253.9" y1="247.16" x2="256.3" y2="247.16" stroke="#111" stroke-width="1"/>
<text x="253.9" y="249.96" font-size="8" text-anchor="end" fill="#1c1c1c" textLength="8.6" lengthAdjust="spacingAndGlyphs">30</text>
<line x1="253.9" y1="222.98" x2="256.3" y2="222.98" stroke="#111" stroke-width="1"/>
<text x="253.9" y="225.78" font-size="8" text-anchor="end" fill="#1c1c1c" textLength="8.6" lengthAdjust="spacingAndGlyphs">40</text>
<line x1="253.9" y1="198.8" x2="256.3" y2="198.8" stroke="#111" stroke-width="1"/>
<text x="253.9" y="201.6" font-size="8" text-anchor="end" fill="#1c1c1c" textLength="8.6" lengthAdjust="spacingAndGlyphs">50</text>
<line x1="253.9" y1="174.62" x2="256.3" y2="174.62" stroke="#111" stroke-width="1"/>
<text x="253.9" y="177.42" font-size="8" text-anchor="end" fill="#1c1c1c" textLength="8.6" lengthAdjust="spacingAndGlyphs">60</text>
<line x1="275" y1="319.7" x2="275" y2="322.5" stroke="#111" stroke-width="1"/>
<text x="279.1" y="327.7" font-size="7.4" text-anchor="end" fill="#1c1c1c" transform="rotate(-45 279.1 327.7)">1 - 0.95</text>
<line x1="293.2" y1="319.7" x2="293.2" y2="322.5" stroke="#111" stroke-width="1"/>
<text x="297.3" y="327.7" font-size="7.4" text-anchor="end" fill="#1c1c1c" transform="rotate(-45 297.3 327.7)">0.95 - 0.90</text>
<line x1="311.4" y1="319.7" x2="311.4" y2="322.5" stroke="#111" stroke-width="1"/>
<text x="315.5" y="327.7" font-size="7.4" text-anchor="end" fill="#1c1c1c" transform="rotate(-45 315.5 327.7)">0.90 - 0.85</text>
<line x1="329.6" y1="319.7" x2="329.6" y2="322.5" stroke="#111" stroke-width="1"/>
<text x="333.7" y="327.7" font-size="7.4" text-anchor="end" fill="#1c1c1c" transform="rotate(-45 333.7 327.7)">0.85 - 0.80</text>
<line x1="347.8" y1="319.7" x2="347.8" y2="322.5" stroke="#111" stroke-width="1"/>
<text x="351.9" y="327.7" font-size="7.4" text-anchor="end" fill="#1c1c1c" transform="rotate(-45 351.9 327.7)">0.80 - 0.75</text>
<line x1="366" y1="319.7" x2="366" y2="322.5" stroke="#111" stroke-width="1"/>
<text x="370.1" y="327.7" font-size="7.4" text-anchor="end" fill="#1c1c1c" transform="rotate(-45 370.1 327.7)">0.75 - 0.70</text>
<line x1="384.2" y1="319.7" x2="384.2" y2="322.5" stroke="#111" stroke-width="1"/>
<text x="388.3" y="327.7" font-size="7.4" text-anchor="end" fill="#1c1c1c" transform="rotate(-45 388.3 327.7)">0.70 - 0.65</text>
<line x1="402.4" y1="319.7" x2="402.4" y2="322.5" stroke="#111" stroke-width="1"/>
<text x="406.5" y="327.7" font-size="7.4" text-anchor="end" fill="#1c1c1c" transform="rotate(-45 406.5 327.7)">0.65 - 0.60</text>
<line x1="420.6" y1="319.7" x2="420.6" y2="322.5" stroke="#111" stroke-width="1"/>
<text x="424.7" y="327.7" font-size="7.4" text-anchor="end" fill="#1c1c1c" transform="rotate(-45 424.7 327.7)">&lt; 0.60</text>
<text x="340.9" y="187.1" font-size="10.6" fill="#1c1c1c" font-style="italic" textLength="54.5" lengthAdjust="spacingAndGlyphs">H2B-eGFP</text>
</g>
<text x="236.1" y="246.6" font-size="9.3" text-anchor="middle" fill="#1c1c1c" textLength="82" lengthAdjust="spacingAndGlyphs" transform="rotate(-90 236.1 246.6)">Percentage of cells</text>
<text x="299.3" y="363.6" font-size="9.8" fill="#1c1c1c" textLength="51.5" lengthAdjust="spacingAndGlyphs">Persistence</text>
<g id="panel-d">
<text x="453.5" y="177.2" font-size="10.3" fill="#111" font-weight="bold">d</text>
<rect x="496.6" y="269.97" width="18" height="50.23" fill="#b436e2" stroke="#1a1a1a" stroke-width="1"/>
<rect x="514.6" y="262.79" width="18" height="57.41" fill="#b436e2" stroke="#1a1a1a" stroke-width="1"/>
<rect x="532.6" y="281.93" width="18" height="38.27" fill="#b436e2" stroke="#1a1a1a" stroke-width="1"/>
<rect x="550.6" y="296.28" width="18" height="23.92" fill="#b436e2" stroke="#1a1a1a" stroke-width="1"/>
<rect x="568.6" y="301.06" width="18" height="19.14" fill="#b436e2" stroke="#1a1a1a" stroke-width="1"/>
<rect x="586.6" y="308.24" width="18" height="11.96" fill="#b436e2" stroke="#1a1a1a" stroke-width="1"/>
<rect x="604.6" y="310.63" width="18" height="9.57" fill="#b436e2" stroke="#1a1a1a" stroke-width="1"/>
<rect x="622.6" y="310.63" width="18" height="9.57" fill="#b436e2" stroke="#1a1a1a" stroke-width="1"/>
<rect x="640.6" y="308.24" width="18" height="11.96" fill="#b436e2" stroke="#1a1a1a" stroke-width="1"/>
<line x1="487.4" y1="176.18" x2="487.4" y2="320.85" stroke="#111" stroke-width="1.3"/>
<line x1="486.75" y1="320.2" x2="666.8" y2="320.2" stroke="#111" stroke-width="1.3"/>
<line x1="485" y1="320.2" x2="487.4" y2="320.2" stroke="#111" stroke-width="1"/>
<text x="485.8" y="324.5" font-size="8" text-anchor="end" fill="#1c1c1c" textLength="4.4" lengthAdjust="spacingAndGlyphs">0</text>
<line x1="485" y1="296.28" x2="487.4" y2="296.28" stroke="#111" stroke-width="1"/>
<text x="485" y="299.08" font-size="8" text-anchor="end" fill="#1c1c1c" textLength="8.6" lengthAdjust="spacingAndGlyphs">10</text>
<line x1="485" y1="272.36" x2="487.4" y2="272.36" stroke="#111" stroke-width="1"/>
<text x="485" y="275.16" font-size="8" text-anchor="end" fill="#1c1c1c" textLength="8.6" lengthAdjust="spacingAndGlyphs">20</text>
<line x1="485" y1="248.44" x2="487.4" y2="248.44" stroke="#111" stroke-width="1"/>
<text x="485" y="251.24" font-size="8" text-anchor="end" fill="#1c1c1c" textLength="8.6" lengthAdjust="spacingAndGlyphs">30</text>
<line x1="485" y1="224.52" x2="487.4" y2="224.52" stroke="#111" stroke-width="1"/>
<text x="485" y="227.32" font-size="8" text-anchor="end" fill="#1c1c1c" textLength="8.6" lengthAdjust="spacingAndGlyphs">40</text>
<line x1="485" y1="200.6" x2="487.4" y2="200.6" stroke="#111" stroke-width="1"/>
<text x="485" y="203.4" font-size="8" text-anchor="end" fill="#1c1c1c" textLength="8.6" lengthAdjust="spacingAndGlyphs">50</text>
<line x1="485" y1="176.68" x2="487.4" y2="176.68" stroke="#111" stroke-width="1"/>
<text x="485" y="179.48" font-size="8" text-anchor="end" fill="#1c1c1c" textLength="8.6" lengthAdjust="spacingAndGlyphs">60</text>
<line x1="505.6" y1="320.2" x2="505.6" y2="323" stroke="#111" stroke-width="1"/>
<text x="508.8" y="327.1" font-size="7.4" text-anchor="end" fill="#1c1c1c" transform="rotate(-45 508.8 327.1)">1 - 0.95</text>
<line x1="523.6" y1="320.2" x2="523.6" y2="323" stroke="#111" stroke-width="1"/>
<text x="526.8" y="327.1" font-size="7.4" text-anchor="end" fill="#1c1c1c" transform="rotate(-45 526.8 327.1)">0.95 - 0.90</text>
<line x1="541.6" y1="320.2" x2="541.6" y2="323" stroke="#111" stroke-width="1"/>
<text x="544.8" y="327.1" font-size="7.4" text-anchor="end" fill="#1c1c1c" transform="rotate(-45 544.8 327.1)">0.90 - 0.85</text>
<line x1="559.6" y1="320.2" x2="559.6" y2="323" stroke="#111" stroke-width="1"/>
<text x="562.8" y="327.1" font-size="7.4" text-anchor="end" fill="#1c1c1c" transform="rotate(-45 562.8 327.1)">0.85 - 0.80</text>
<line x1="577.6" y1="320.2" x2="577.6" y2="323" stroke="#111" stroke-width="1"/>
<text x="580.8" y="327.1" font-size="7.4" text-anchor="end" fill="#1c1c1c" transform="rotate(-45 580.8 327.1)">0.80 - 0.75</text>
<line x1="595.6" y1="320.2" x2="595.6" y2="323" stroke="#111" stroke-width="1"/>
<text x="598.8" y="327.1" font-size="7.4" text-anchor="end" fill="#1c1c1c" transform="rotate(-45 598.8 327.1)">0.75 - 0.70</text>
<line x1="613.6" y1="320.2" x2="613.6" y2="323" stroke="#111" stroke-width="1"/>
<text x="616.8" y="327.1" font-size="7.4" text-anchor="end" fill="#1c1c1c" transform="rotate(-45 616.8 327.1)">0.70 - 0.65</text>
<line x1="631.6" y1="320.2" x2="631.6" y2="323" stroke="#111" stroke-width="1"/>
<text x="634.8" y="327.1" font-size="7.4" text-anchor="end" fill="#1c1c1c" transform="rotate(-45 634.8 327.1)">0.65 - 0.60</text>
<line x1="649.6" y1="320.2" x2="649.6" y2="323" stroke="#111" stroke-width="1"/>
<text x="652.8" y="327.1" font-size="7.4" text-anchor="end" fill="#1c1c1c" transform="rotate(-45 652.8 327.1)">&lt; 0.60</text>
<text fill="#1c1c1c" x="529.9" y="188.3" font-size="10.6" textLength="98.2" lengthAdjust="spacingAndGlyphs"><tspan font-style="italic">fry</tspan>-MO + <tspan font-style="italic">H2B-eGFP</tspan></text>
<text x="578.5" y="239.6" font-size="9" text-anchor="middle" fill="#111" textLength="8.4" lengthAdjust="spacingAndGlyphs">**</text>
</g>
<text x="469.7" y="245.2" font-size="9.3" text-anchor="middle" fill="#1c1c1c" textLength="81.5" lengthAdjust="spacingAndGlyphs" transform="rotate(-90 469.7 245.2)">Percentage of cells</text>
<text x="536.8" y="363.9" font-size="9.8" fill="#1c1c1c" textLength="51" lengthAdjust="spacingAndGlyphs">Persistence</text>
<g id="panel-e">
<text x="7.3" y="366.9" font-size="10.3" fill="#111" font-weight="bold">e</text>
<path d="M68.62 410.08h0M70.67 410.16h0M72.73 410.16h0M74.78 410.08h0M67.6 412.11h0M69.65 412.19h0M71.7 412.27h0M73.75 412.19h0M75.8 412.11h0M66.58 414.14h0M68.62 414.23h0M70.67 414.31h0M72.73 414.31h0M74.78 414.23h0M76.83 414.14h0M65.55 416.18h0M67.6 416.26h0M69.65 416.34h0M71.7 416.42h0M73.75 416.34h0M75.8 416.26h0M77.85 416.18h0M62.48 418.21h0M64.53 418.29h0M66.58 418.37h0M68.62 418.46h0M70.67 418.54h0M72.73 418.54h0M74.78 418.46h0M76.83 418.37h0M78.88 418.29h0M80.92 418.21h0M61.45 420.24h0M63.5 420.32h0M65.55 420.41h0M67.6 420.49h0M69.65 420.57h0M71.7 420.65h0M73.75 420.57h0M75.8 420.49h0M77.85 420.41h0M79.9 420.32h0M81.95 420.24h0M58.38 422.28h0M60.43 422.36h0M62.48 422.44h0M64.53 422.52h0M66.58 422.6h0M68.62 422.69h0M70.67 422.77h0M72.73 422.77h0M74.78 422.69h0M76.83 422.6h0M78.88 422.52h0M80.92 422.44h0M82.97 422.36h0M85.03 422.28h0M61.45 424.31h0M63.5 424.39h0M65.55 424.47h0M67.6 424.56h0M69.65 424.64h0M71.7 424.72h0M73.75 424.64h0M75.8 424.56h0M77.85 424.47h0M79.9 424.39h0M81.95 424.31h0M58.38 426.34h0M60.43 426.42h0M62.48 426.51h0M64.53 426.59h0M66.58 426.67h0M68.62 426.75h0M70.67 426.83h0M72.73 426.83h0M74.78 426.75h0M76.83 426.67h0M78.88 426.59h0M80.92 426.51h0M82.97 426.42h0M85.03 426.34h0M59.4 428.38h0M61.45 428.46h0M63.5 428.54h0M65.55 428.62h0M67.6 428.7h0M69.65 428.79h0M71.7 428.87h0M73.75 428.79h0M75.8 428.7h0M77.85 428.62h0M79.9 428.54h0M81.95 428.46h0M84 428.38h0M60.43 430.41h0M62.48 430.49h0M64.53 430.57h0M66.58 430.65h0M68.62 430.74h0M70.67 430.82h0M72.73 430.82h0M74.78 430.74h0M76.83 430.65h0M78.88 430.57h0M80.92 430.49h0M82.97 430.41h0M61.45 432.44h0M63.5 432.52h0M65.55 432.61h0M67.6 432.69h0M69.65 432.77h0M71.7 432.85h0M73.75 432.77h0M75.8 432.69h0M77.85 432.61h0M79.9 432.52h0M81.95 432.44h0M58.38 434.48h0M60.43 434.56h0M62.48 434.64h0M64.53 434.72h0M66.58 434.8h0M68.62 434.89h0M70.67 434.97h0M72.73 434.97h0M74.78 434.89h0M76.83 434.8h0M78.88 434.72h0M80.92 434.64h0M82.97 434.56h0M85.03 434.48h0M59.4 436.51h0M61.45 436.59h0M63.5 436.67h0M65.55 436.75h0M67.6 436.84h0M69.65 436.92h0M71.7 437h0M73.75 436.92h0M75.8 436.84h0M77.85 436.75h0M79.9 436.67h0M81.95 436.59h0M84 436.51h0M56.33 438.54h0M58.38 438.62h0M60.43 438.71h0M62.48 438.79h0M64.53 438.87h0M66.58 438.95h0M68.62 439.03h0M70.67 439.12h0M72.73 439.12h0M74.78 439.03h0M76.83 438.95h0M78.88 438.87h0M80.92 438.79h0M82.97 438.71h0M85.03 438.62h0M87.08 438.54h0M59.4 440.57h0M61.45 440.66h0M63.5 440.74h0M65.55 440.82h0M67.6 440.9h0M69.65 440.99h0M71.7 441.07h0M73.75 440.99h0M75.8 440.9h0M77.85 440.82h0M79.9 440.74h0M81.95 440.66h0M84 440.57h0M54.28 442.61h0M56.33 442.69h0M58.38 442.77h0M60.43 442.85h0M62.48 442.94h0M64.53 443.02h0M66.58 443.1h0M68.62 443.18h0M70.67 443.26h0M72.73 443.26h0M74.78 443.18h0M76.83 443.1h0M78.88 443.02h0M80.92 442.94h0M82.97 442.85h0M85.03 442.77h0M87.08 442.69h0M89.12 442.61h0M57.35 444.64h0M59.4 444.72h0M61.45 444.81h0M63.5 444.89h0M65.55 444.97h0M67.6 445.05h0M69.65 445.13h0M71.7 445.22h0M73.75 445.13h0M75.8 445.05h0M77.85 444.97h0M79.9 444.89h0M81.95 444.81h0M84 444.72h0M86.05 444.64h0M52.23 446.67h0M54.28 446.76h0M56.33 446.84h0M58.38 446.92h0M60.43 447h0M62.48 447.08h0M64.53 447.17h0M66.58 447.25h0M68.62 447.33h0M70.67 447.41h0M72.73 447.41h0M74.78 447.33h0M76.83 447.25h0M78.88 447.17h0M80.92 447.08h0M82.97 447h0M85.03 446.92h0M87.08 446.84h0M89.12 446.76h0M91.17 446.67h0M55.3 448.71h0M57.35 448.79h0M59.4 448.87h0M61.45 448.95h0M63.5 449.04h0M65.55 449.12h0M67.6 449.2h0M69.65 449.28h0M71.7 449.36h0M73.75 449.28h0M75.8 449.2h0M77.85 449.12h0M79.9 449.04h0M81.95 448.95h0M84 448.87h0M86.05 448.79h0M88.1 448.71h0M54.28 450.74h0M56.33 450.82h0M58.38 450.9h0M60.43 450.99h0M62.48 451.07h0M64.53 451.15h0M66.58 451.23h0M68.62 451.31h0M70.67 451.4h0M72.73 451.4h0M74.78 451.31h0M76.83 451.23h0M78.88 451.15h0M80.92 451.07h0M82.97 450.99h0M85.03 450.9h0M87.08 450.82h0M89.12 450.74h0M57.35 452.77h0M59.4 452.86h0M61.45 452.94h0M63.5 453.02h0M65.55 453.1h0M67.6 453.18h0M69.65 453.27h0M71.7 453.35h0M73.75 453.27h0M75.8 453.18h0M77.85 453.1h0M79.9 453.02h0M81.95 452.94h0M84 452.86h0M86.05 452.77h0M56.33 454.81h0M58.38 454.89h0M60.43 454.97h0M62.48 455.05h0M64.53 455.14h0M66.58 455.22h0M68.62 455.3h0M70.67 455.38h0M72.73 455.38h0M74.78 455.3h0M76.83 455.22h0M78.88 455.14h0M80.92 455.05h0M82.97 454.97h0M85.03 454.89h0M87.08 454.81h0M55.3 456.84h0M57.35 456.92h0M59.4 457h0M61.45 457.09h0M63.5 457.17h0M65.55 457.25h0M67.6 457.33h0M69.65 457.41h0M71.7 457.5h0M73.75 457.41h0M75.8 457.33h0M77.85 457.25h0M79.9 457.17h0M81.95 457.09h0M84 457h0M86.05 456.92h0M88.1 456.84h0M54.28 458.87h0M56.33 458.96h0M58.38 459.04h0M60.43 459.12h0M62.48 459.2h0M64.53 459.28h0M66.58 459.37h0M68.62 459.45h0M70.67 459.53h0M72.73 459.53h0M74.78 459.45h0M76.83 459.37h0M78.88 459.28h0M80.92 459.2h0M82.97 459.12h0M85.03 459.04h0M87.08 458.96h0M89.12 458.87h0M55.3 460.91h0M57.35 460.99h0M59.4 461.07h0M61.45 461.15h0M63.5 461.23h0M65.55 461.32h0M67.6 461.4h0M69.65 461.48h0M71.7 461.56h0M73.75 461.48h0M75.8 461.4h0M77.85 461.32h0M79.9 461.23h0M81.95 461.15h0M84 461.07h0M86.05 460.99h0M88.1 460.91h0M52.23 462.94h0M54.28 463.02h0M56.33 463.1h0M58.38 463.19h0M60.43 463.27h0M62.48 463.35h0M64.53 463.43h0M66.58 463.51h0M68.62 463.6h0M70.67 463.68h0M72.73 463.68h0M74.78 463.6h0M76.83 463.51h0M78.88 463.43h0M80.92 463.35h0M82.97 463.27h0M85.03 463.19h0M87.08 463.1h0M89.12 463.02h0M91.17 462.94h0M55.3 464.97h0M57.35 465.06h0M59.4 465.14h0M61.45 465.22h0M63.5 465.3h0M65.55 465.38h0M67.6 465.47h0M69.65 465.55h0M71.7 465.63h0M73.75 465.55h0M75.8 465.47h0M77.85 465.38h0M79.9 465.3h0M81.95 465.22h0M84 465.14h0M86.05 465.06h0M88.1 464.97h0M56.33 467.01h0M58.38 467.09h0M60.43 467.17h0M62.48 467.25h0M64.53 467.33h0M66.58 467.42h0M68.62 467.5h0M70.67 467.58h0M72.73 467.58h0M74.78 467.5h0M76.83 467.42h0M78.88 467.33h0M80.92 467.25h0M82.97 467.17h0M85.03 467.09h0M87.08 467.01h0M63.5 469.04h0M65.55 469.12h0M67.6 469.2h0M69.65 469.29h0M71.7 469.37h0M73.75 469.29h0M75.8 469.2h0M77.85 469.12h0M79.9 469.04h0M64.53 471.07h0M66.58 471.15h0M68.62 471.24h0M70.67 471.32h0M72.73 471.32h0M74.78 471.24h0M76.83 471.15h0M78.88 471.07h0M65.55 473.11h0M67.6 473.19h0M69.65 473.27h0M71.7 473.35h0M73.75 473.27h0M75.8 473.19h0M77.85 473.11h0M66.58 475.14h0M68.62 475.22h0M70.67 475.3h0M72.73 475.3h0M74.78 475.22h0M76.83 475.14h0M67.6 477.17h0M69.65 477.25h0M71.7 477.34h0M73.75 477.25h0M75.8 477.17h0M69.65 479.21h0M71.7 479.29h0M73.75 479.21h0M70.7 400.21h0M72.7 400.21h0M70.7 407.68h0M72.7 407.68h0M54.2 425.03h0M89.2 425.03h0M56.7 425.03h0M86.7 425.03h0M65.4 477.95h0M67.5 478.89h0M69.6 479.84h0M71.7 480.78h0M73.8 479.84h0M75.9 478.89h0M78 477.95h0M71.7 480.94h0M71.7 485.13h0M71.7 487.22h0M71.7 489.31h0" fill="none" stroke="#7a7a7a" stroke-width="1.44" stroke-linecap="round"/>
<path d="M141.1 460.61h0M143.1 460.69h0M145.1 460.77h0M147.1 460.85h0M149.1 460.93h0M151.1 461.01h0M153.1 461.01h0M155.1 460.93h0M157.1 460.85h0M159.1 460.77h0M161.1 460.69h0M163.1 460.61h0M138.1 462.64h0M140.1 462.72h0M142.1 462.8h0M144.1 462.88h0M146.1 462.96h0M148.1 463.04h0M150.1 463.12h0M152.1 463.2h0M154.1 463.12h0M156.1 463.04h0M158.1 462.96h0M160.1 462.88h0M162.1 462.8h0M164.1 462.72h0M166.1 462.64h0M137.1 464.67h0M139.1 464.75h0M141.1 464.83h0M143.1 464.91h0M145.1 464.99h0M147.1 465.07h0M149.1 465.15h0M151.1 465.23h0M153.1 465.23h0M155.1 465.15h0M157.1 465.07h0M159.1 464.99h0M161.1 464.91h0M163.1 464.83h0M165.1 464.75h0M167.1 464.67h0M136.1 466.71h0M138.1 466.79h0M140.1 466.87h0M142.1 466.95h0M144.1 467.03h0M146.1 467.11h0M148.1 467.19h0M150.1 467.27h0M152.1 467.35h0M154.1 467.27h0M156.1 467.19h0M158.1 467.11h0M160.1 467.03h0M162.1 466.95h0M164.1 466.87h0M166.1 466.79h0M168.1 466.71h0M132.53 468.74h0M133.97 468.8h0M135.42 468.86h0M136.88 468.91h0M138.32 468.97h0M139.78 469.03h0M141.22 469.09h0M142.67 469.15h0M144.12 469.2h0M145.57 469.26h0M147.03 469.32h0M148.47 469.38h0M149.92 469.44h0M151.38 469.49h0M152.82 469.49h0M154.28 469.44h0M155.72 469.38h0M157.17 469.32h0M158.62 469.26h0M160.07 469.2h0M161.53 469.15h0M162.97 469.09h0M164.42 469.03h0M165.88 468.97h0M167.32 468.91h0M168.78 468.86h0M170.22 468.8h0M171.67 468.74h0M137.6 470.77h0M139.05 470.83h0M140.5 470.89h0M141.95 470.95h0M143.4 471.01h0M144.85 471.06h0M146.3 471.12h0M147.75 471.18h0M149.2 471.24h0M150.65 471.3h0M152.1 471.35h0M153.55 471.3h0M155 471.24h0M156.45 471.18h0M157.9 471.12h0M159.35 471.06h0M160.8 471.01h0M162.25 470.95h0M163.7 470.89h0M165.15 470.83h0M166.6 470.77h0M132.53 472.81h0M133.97 472.87h0M135.42 472.92h0M136.88 472.98h0M138.32 473.04h0M139.78 473.1h0M141.22 473.16h0M142.67 473.21h0M144.12 473.27h0M145.57 473.33h0M147.03 473.39h0M148.47 473.45h0M149.92 473.5h0M151.38 473.56h0M152.82 473.56h0M154.28 473.5h0M155.72 473.45h0M157.17 473.39h0M158.62 473.33h0M160.07 473.27h0M161.53 473.21h0M162.97 473.16h0M164.42 473.1h0M165.88 473.04h0M167.32 472.98h0M168.78 472.92h0M170.22 472.87h0M171.67 472.81h0M134.7 474.84h0M136.15 474.9h0M137.6 474.96h0M139.05 475.01h0M140.5 475.07h0M141.95 475.13h0M143.4 475.19h0M144.85 475.25h0M146.3 475.3h0M147.75 475.36h0M149.2 475.42h0M150.65 475.48h0M152.1 475.54h0M153.55 475.48h0M155 475.42h0M156.45 475.36h0M157.9 475.3h0M159.35 475.25h0M160.8 475.19h0M162.25 475.13h0M163.7 475.07h0M165.15 475.01h0M166.6 474.96h0M168.05 474.9h0M169.5 474.84h0M133.97 476.87h0M135.42 476.93h0M136.88 476.99h0M138.32 477.05h0M139.78 477.11h0M141.22 477.16h0M142.67 477.22h0M144.12 477.28h0M145.57 477.34h0M147.03 477.4h0M148.47 477.45h0M149.92 477.51h0M151.38 477.57h0M152.82 477.57h0M154.28 477.51h0M155.72 477.45h0M157.17 477.4h0M158.62 477.34h0M160.07 477.28h0M161.53 477.22h0M162.97 477.16h0M164.42 477.11h0M165.88 477.05h0M167.32 476.99h0M168.78 476.93h0M170.22 476.87h0M134.7 478.91h0M136.15 478.96h0M137.6 479.02h0M139.05 479.08h0M140.5 479.14h0M141.95 479.2h0M143.4 479.25h0M144.85 479.31h0M146.3 479.37h0M147.75 479.43h0M149.2 479.49h0M150.65 479.54h0M152.1 479.6h0M153.55 479.54h0M155 479.49h0M156.45 479.43h0M157.9 479.37h0M159.35 479.31h0M160.8 479.25h0M162.25 479.2h0M163.7 479.14h0M165.15 479.08h0M166.6 479.02h0M168.05 478.96h0M169.5 478.91h0M135.42 480.94h0M136.88 481h0M138.32 481.06h0M139.78 481.11h0M141.22 481.17h0M142.67 481.23h0M144.12 481.29h0M145.57 481.35h0M147.03 481.4h0M148.47 481.46h0M149.92 481.52h0M151.38 481.58h0M152.82 481.58h0M154.28 481.52h0M155.72 481.46h0M157.17 481.4h0M158.62 481.35h0M160.07 481.29h0M161.53 481.23h0M162.97 481.17h0M164.42 481.11h0M165.88 481.06h0M167.32 481h0M168.78 480.94h0M136.15 482.97h0M137.6 483.03h0M139.05 483.09h0M140.5 483.15h0M141.95 483.21h0M143.4 483.26h0M144.85 483.32h0M146.3 483.38h0M147.75 483.44h0M149.2 483.5h0M150.65 483.55h0M152.1 483.61h0M153.55 483.55h0M155 483.5h0M156.45 483.44h0M157.9 483.38h0M159.35 483.32h0M160.8 483.26h0M162.25 483.21h0M163.7 483.15h0M165.15 483.09h0M166.6 483.03h0M168.05 482.97h0M132.53 485.01h0M133.97 485.06h0M135.42 485.12h0M136.88 485.18h0M138.32 485.24h0M139.78 485.3h0M141.22 485.35h0M142.67 485.41h0M144.12 485.47h0M145.57 485.53h0M147.03 485.59h0M148.47 485.64h0M149.92 485.7h0M151.38 485.76h0M152.82 485.76h0M154.28 485.7h0M155.72 485.64h0M157.17 485.59h0M158.62 485.53h0M160.07 485.47h0M161.53 485.41h0M162.97 485.35h0M164.42 485.3h0M165.88 485.24h0M167.32 485.18h0M168.78 485.12h0M170.22 485.06h0M171.67 485.01h0M137.6 487.04h0M139.05 487.1h0M140.5 487.16h0M141.95 487.21h0M143.4 487.27h0M144.85 487.33h0M146.3 487.39h0M147.75 487.45h0M149.2 487.5h0M150.65 487.56h0M152.1 487.62h0M153.55 487.56h0M155 487.5h0M156.45 487.45h0M157.9 487.39h0M159.35 487.33h0M160.8 487.27h0M162.25 487.21h0M163.7 487.16h0M165.15 487.1h0M166.6 487.04h0M135.42 489.07h0M136.88 489.13h0M138.32 489.19h0M139.78 489.25h0M141.22 489.3h0M142.67 489.36h0M144.12 489.42h0M145.57 489.48h0M147.03 489.54h0M148.47 489.59h0M149.92 489.65h0M151.38 489.71h0M152.82 489.71h0M154.28 489.65h0M155.72 489.59h0M157.17 489.54h0M158.62 489.48h0M160.07 489.42h0M161.53 489.36h0M162.97 489.3h0M164.42 489.25h0M165.88 489.19h0M167.32 489.13h0M168.78 489.07h0M139.05 491.11h0M140.5 491.16h0M141.95 491.22h0M143.4 491.28h0M144.85 491.34h0M146.3 491.4h0M147.75 491.45h0M149.2 491.51h0M150.65 491.57h0M152.1 491.63h0M153.55 491.57h0M155 491.51h0M156.45 491.45h0M157.9 491.4h0M159.35 491.34h0M160.8 491.28h0M162.25 491.22h0M163.7 491.16h0M165.15 491.11h0M135.1 493.14h0M137.1 493.22h0M139.1 493.3h0M141.1 493.38h0M143.1 493.46h0M145.1 493.54h0M147.1 493.62h0M149.1 493.7h0M151.1 493.78h0M153.1 493.78h0M155.1 493.7h0M157.1 493.62h0M159.1 493.54h0M161.1 493.46h0M163.1 493.38h0M165.1 493.3h0M167.1 493.22h0M169.1 493.14h0M140.1 495.17h0M142.1 495.25h0M144.1 495.33h0M146.1 495.41h0M148.1 495.49h0M150.1 495.57h0M152.1 495.65h0M154.1 495.57h0M156.1 495.49h0M158.1 495.41h0M160.1 495.33h0M162.1 495.25h0M164.1 495.17h0M141.1 497.21h0M143.1 497.29h0M145.1 497.37h0M147.1 497.45h0M149.1 497.53h0M151.1 497.61h0M153.1 497.61h0M155.1 497.53h0M157.1 497.45h0M159.1 497.37h0M161.1 497.29h0M163.1 497.21h0M144.1 499.24h0M146.1 499.32h0M148.1 499.4h0M150.1 499.48h0M152.1 499.56h0M154.1 499.48h0M156.1 499.4h0M158.1 499.32h0M160.1 499.24h0M143.1 501.27h0M145.1 501.35h0M147.1 501.43h0M149.1 501.51h0M151.1 501.59h0M153.1 501.59h0M155.1 501.51h0M157.1 501.43h0M159.1 501.35h0M161.1 501.27h0M146.1 503.31h0M148.1 503.39h0M150.1 503.47h0M152.1 503.55h0M154.1 503.47h0M156.1 503.39h0M158.1 503.31h0M147.1 505.34h0M149.1 505.42h0M151.1 505.5h0M153.1 505.5h0M155.1 505.42h0M157.1 505.34h0M150.1 507.37h0M152.1 507.45h0M154.1 507.37h0M151.1 509.4h0M153.1 509.4h0M152.1 424.73h0M152.1 428.02h0M152.1 438.18h0M151.1 441.77h0M153.1 441.77h0M152.1 445.66h0M144.1 448.65h0M146.1 449.75h0M148.1 450.85h0M150.1 451.95h0M152.1 453.05h0M154.1 451.95h0M156.1 450.85h0M158.1 449.75h0M160.1 448.65h0M148.1 450.44h0M150.1 451.44h0M152.1 452.44h0M154.1 451.44h0M156.1 450.44h0M147.1 456.12h0M149.1 457.12h0M151.1 458.12h0M153.1 458.12h0M155.1 457.12h0M157.1 456.12h0M150.1 457.92h0M152.1 458.72h0M154.1 457.92h0M152.1 511.74h0" fill="none" stroke="#a416dc" stroke-width="1.44" stroke-linecap="round"/>
<line x1="71.7" y1="427.72" x2="71.7" y2="464.79" stroke="#111" stroke-width="1.05"/>
<line x1="66.3" y1="427.72" x2="77.1" y2="427.72" stroke="#111" stroke-width="1.05"/>
<line x1="66.3" y1="464.79" x2="77.1" y2="464.79" stroke="#111" stroke-width="1.05"/>
<line x1="51.5" y1="446.41" x2="91.9" y2="446.41" stroke="#111" stroke-width="1.8"/>
<line x1="152.1" y1="463.6" x2="152.1" y2="492.15" stroke="#111" stroke-width="1.05"/>
<line x1="146.7" y1="463.6" x2="157.5" y2="463.6" stroke="#111" stroke-width="1.05"/>
<line x1="146.7" y1="492.15" x2="157.5" y2="492.15" stroke="#111" stroke-width="1.05"/>
<line x1="132.1" y1="477.95" x2="172.1" y2="477.95" stroke="#111" stroke-width="1.8"/>
<line x1="31.3" y1="372.7" x2="31.3" y2="523.5" stroke="#111" stroke-width="1.3"/>
<line x1="30.7" y1="522.8" x2="193" y2="522.8" stroke="#111" stroke-width="1.3"/>
<line x1="28.3" y1="522.8" x2="31.3" y2="522.8" stroke="#111" stroke-width="1"/>
<text x="27" y="525.3" font-size="8.4" text-anchor="end" fill="#1c1c1c">0</text>
<line x1="28.3" y1="492.9" x2="31.3" y2="492.9" stroke="#111" stroke-width="1"/>
<text x="27" y="495.4" font-size="8.4" text-anchor="end" fill="#1c1c1c">1</text>
<line x1="28.3" y1="463" x2="31.3" y2="463" stroke="#111" stroke-width="1"/>
<text x="27" y="465.5" font-size="8.4" text-anchor="end" fill="#1c1c1c">2</text>
<line x1="28.3" y1="433.1" x2="31.3" y2="433.1" stroke="#111" stroke-width="1"/>
<text x="27" y="435.6" font-size="8.4" text-anchor="end" fill="#1c1c1c">3</text>
<line x1="28.3" y1="403.2" x2="31.3" y2="403.2" stroke="#111" stroke-width="1"/>
<text x="27" y="405.7" font-size="8.4" text-anchor="end" fill="#1c1c1c">4</text>
<line x1="28.3" y1="373.3" x2="31.3" y2="373.3" stroke="#111" stroke-width="1"/>
<text x="27" y="375.8" font-size="8.4" text-anchor="end" fill="#1c1c1c">5</text>
<line x1="71.7" y1="522.8" x2="71.7" y2="525.8" stroke="#111" stroke-width="1.1"/>
<line x1="152.1" y1="522.8" x2="152.1" y2="525.8" stroke="#111" stroke-width="1.1"/>
<text x="17" y="447" font-size="9.9" text-anchor="middle" fill="#1c1c1c" textLength="149" lengthAdjust="spacingAndGlyphs" transform="rotate(-90 17 447)">Instantaneous velocity (µm/min)</text>
<text x="47.4" y="535.7" font-size="10" fill="#1c1c1c" font-style="italic" textLength="49" lengthAdjust="spacingAndGlyphs">H2B-eGFP</text>
<text fill="#1c1c1c" x="130.5" y="535.7" font-size="10" textLength="39" lengthAdjust="spacingAndGlyphs"><tspan font-style="italic">fry</tspan>-MO +</text>
<text x="126" y="547.4" font-size="10" fill="#1c1c1c" font-style="italic" textLength="48.8" lengthAdjust="spacingAndGlyphs">H2B-eGFP</text>
<text x="152" y="421.6" font-size="8.5" text-anchor="middle" fill="#111" textLength="14.4" lengthAdjust="spacingAndGlyphs">****</text>
</g>
<g id="panel-f">
<text x="225.4" y="369.6" font-size="10.3" fill="#111" font-weight="bold">f</text>
<circle cx="265.6" cy="451.96" r="3.5" fill="#8b8b8b"/>
<line x1="265.6" y1="417.46" x2="265.6" y2="486.92" stroke="#4a4a4a" stroke-width="1.2"/>
<line x1="264.2" y1="417.46" x2="267" y2="417.46" stroke="#4a4a4a" stroke-width="1.1"/>
<line x1="264.2" y1="486.92" x2="267" y2="486.92" stroke="#4a4a4a" stroke-width="1.1"/>
<line x1="274.2" y1="459.32" x2="274.2" y2="493.36" stroke="#161616" stroke-width="1.2"/>
<line x1="272.8" y1="459.32" x2="275.6" y2="459.32" stroke="#161616" stroke-width="1.1"/>
<line x1="272.8" y1="493.36" x2="275.6" y2="493.36" stroke="#161616" stroke-width="1.1"/>
<path d="M274.2 473.4l3.4 3.4l-3.4 3.4l-3.4 -3.4z" fill="#a616e0"/>
<circle cx="291.6" cy="455.64" r="3.5" fill="#8b8b8b"/>
<line x1="291.6" y1="420.68" x2="291.6" y2="490.6" stroke="#4a4a4a" stroke-width="1.2"/>
<line x1="290.2" y1="420.68" x2="293" y2="420.68" stroke="#4a4a4a" stroke-width="1.1"/>
<line x1="290.2" y1="490.6" x2="293" y2="490.6" stroke="#4a4a4a" stroke-width="1.1"/>
<line x1="300.2" y1="461.16" x2="300.2" y2="499.34" stroke="#161616" stroke-width="1.2"/>
<line x1="298.8" y1="461.16" x2="301.6" y2="461.16" stroke="#161616" stroke-width="1.1"/>
<line x1="298.8" y1="499.34" x2="301.6" y2="499.34" stroke="#161616" stroke-width="1.1"/>
<path d="M300.2 477.08l3.4 3.4l-3.4 3.4l-3.4 -3.4z" fill="#a616e0"/>
<circle cx="317.6" cy="466.68" r="3.5" fill="#8b8b8b"/>
<line x1="317.6" y1="440" x2="317.6" y2="493.36" stroke="#4a4a4a" stroke-width="1.2"/>
<line x1="316.2" y1="440" x2="319" y2="440" stroke="#4a4a4a" stroke-width="1.1"/>
<line x1="316.2" y1="493.36" x2="319" y2="493.36" stroke="#4a4a4a" stroke-width="1.1"/>
<line x1="326.2" y1="471.28" x2="326.2" y2="499.8" stroke="#161616" stroke-width="1.2"/>
<line x1="324.8" y1="471.28" x2="327.6" y2="471.28" stroke="#161616" stroke-width="1.1"/>
<line x1="324.8" y1="499.8" x2="327.6" y2="499.8" stroke="#161616" stroke-width="1.1"/>
<path d="M326.2 482.14l3.4 3.4l-3.4 3.4l-3.4 -3.4z" fill="#a616e0"/>
<circle cx="343.6" cy="476.62" r="3.5" fill="#8b8b8b"/>
<line x1="343.6" y1="457.48" x2="343.6" y2="495.02" stroke="#4a4a4a" stroke-width="1.2"/>
<line x1="342.2" y1="457.48" x2="345" y2="457.48" stroke="#4a4a4a" stroke-width="1.1"/>
<line x1="342.2" y1="495.02" x2="345" y2="495.02" stroke="#4a4a4a" stroke-width="1.1"/>
<line x1="352.2" y1="474.22" x2="352.2" y2="499.34" stroke="#161616" stroke-width="1.2"/>
<line x1="350.8" y1="474.22" x2="353.6" y2="474.22" stroke="#161616" stroke-width="1.1"/>
<line x1="350.8" y1="499.34" x2="353.6" y2="499.34" stroke="#161616" stroke-width="1.1"/>
<path d="M352.2 483.52l3.4 3.4l-3.4 3.4l-3.4 -3.4z" fill="#a616e0"/>
<circle cx="369.6" cy="484.53" r="3.5" fill="#8b8b8b"/>
<line x1="369.6" y1="472.57" x2="369.6" y2="495.75" stroke="#4a4a4a" stroke-width="1.2"/>
<line x1="368.2" y1="472.57" x2="371" y2="472.57" stroke="#4a4a4a" stroke-width="1.1"/>
<line x1="368.2" y1="495.75" x2="371" y2="495.75" stroke="#4a4a4a" stroke-width="1.1"/>
<line x1="378.2" y1="480.2" x2="378.2" y2="498.6" stroke="#161616" stroke-width="1.2"/>
<line x1="376.8" y1="480.2" x2="379.6" y2="480.2" stroke="#161616" stroke-width="1.1"/>
<line x1="376.8" y1="498.6" x2="379.6" y2="498.6" stroke="#161616" stroke-width="1.1"/>
<path d="M378.2 485.91l3.4 3.4l-3.4 3.4l-3.4 -3.4z" fill="#a616e0"/>
<circle cx="395.6" cy="486.64" r="3.5" fill="#8b8b8b"/>
<line x1="395.6" y1="478.27" x2="395.6" y2="494.1" stroke="#4a4a4a" stroke-width="1.2"/>
<line x1="394.2" y1="478.27" x2="397" y2="478.27" stroke="#4a4a4a" stroke-width="1.1"/>
<line x1="394.2" y1="494.1" x2="397" y2="494.1" stroke="#4a4a4a" stroke-width="1.1"/>
<line x1="404.2" y1="482.14" x2="404.2" y2="498.14" stroke="#161616" stroke-width="1.2"/>
<line x1="402.8" y1="482.14" x2="405.6" y2="482.14" stroke="#161616" stroke-width="1.1"/>
<line x1="402.8" y1="498.14" x2="405.6" y2="498.14" stroke="#161616" stroke-width="1.1"/>
<path d="M404.2 486.83l3.4 3.4l-3.4 3.4l-3.4 -3.4z" fill="#a616e0"/>
<circle cx="421.6" cy="487.84" r="3.5" fill="#8b8b8b"/>
<line x1="421.6" y1="479.56" x2="421.6" y2="496.21" stroke="#4a4a4a" stroke-width="1.2"/>
<line x1="420.2" y1="479.56" x2="423" y2="479.56" stroke="#4a4a4a" stroke-width="1.1"/>
<line x1="420.2" y1="496.21" x2="423" y2="496.21" stroke="#4a4a4a" stroke-width="1.1"/>
<line x1="430.2" y1="480.2" x2="430.2" y2="495.02" stroke="#161616" stroke-width="1.2"/>
<line x1="428.8" y1="480.2" x2="431.6" y2="480.2" stroke="#161616" stroke-width="1.1"/>
<line x1="428.8" y1="495.02" x2="431.6" y2="495.02" stroke="#161616" stroke-width="1.1"/>
<path d="M430.2 484.26l3.4 3.4l-3.4 3.4l-3.4 -3.4z" fill="#a616e0"/>
<circle cx="447.6" cy="487.38" r="3.5" fill="#8b8b8b"/>
<line x1="447.6" y1="479.56" x2="447.6" y2="495.57" stroke="#4a4a4a" stroke-width="1.2"/>
<line x1="446.2" y1="479.56" x2="449" y2="479.56" stroke="#4a4a4a" stroke-width="1.1"/>
<line x1="446.2" y1="495.57" x2="449" y2="495.57" stroke="#4a4a4a" stroke-width="1.1"/>
<line x1="456.2" y1="477.35" x2="456.2" y2="495.02" stroke="#161616" stroke-width="1.2"/>
<line x1="454.8" y1="477.35" x2="457.6" y2="477.35" stroke="#161616" stroke-width="1.1"/>
<line x1="454.8" y1="495.02" x2="457.6" y2="495.02" stroke="#161616" stroke-width="1.1"/>
<path d="M456.2 482.78l3.4 3.4l-3.4 3.4l-3.4 -3.4z" fill="#a616e0"/>
<path d="M265.6 414.46v-1.6h8.6v1.6" fill="none" stroke="#111" stroke-width="1"/>
<text x="269.9" y="412.66" font-size="8.5" text-anchor="middle" fill="#111" textLength="13.6" lengthAdjust="spacingAndGlyphs">****</text>
<path d="M291.6 417.22v-1.6h8.6v1.6" fill="none" stroke="#111" stroke-width="1"/>
<text x="295.9" y="415.42" font-size="8.5" text-anchor="middle" fill="#111" textLength="13.6" lengthAdjust="spacingAndGlyphs">****</text>
<path d="M317.6 436.54v-1.6h8.6v1.6" fill="none" stroke="#111" stroke-width="1"/>
<text x="321.9" y="434.74" font-size="8.5" text-anchor="middle" fill="#111" textLength="13.6" lengthAdjust="spacingAndGlyphs">****</text>
<path d="M343.6 454.94v-1.6h8.6v1.6" fill="none" stroke="#111" stroke-width="1"/>
<text x="347.9" y="453.14" font-size="8.5" text-anchor="middle" fill="#111" textLength="13.6" lengthAdjust="spacingAndGlyphs">****</text>
<path d="M369.6 469.38v-1.6h8.6v1.6" fill="none" stroke="#111" stroke-width="1"/>
<text x="373.9" y="467.58" font-size="8.5" text-anchor="middle" fill="#111" textLength="6.8" lengthAdjust="spacingAndGlyphs">**</text>
<line x1="257.2" y1="375.1" x2="257.2" y2="523.45" stroke="#111" stroke-width="1.3"/>
<line x1="256.55" y1="522.8" x2="464.8" y2="522.8" stroke="#111" stroke-width="1.3"/>
<line x1="254.6" y1="522.8" x2="257.2" y2="522.8" stroke="#111" stroke-width="1"/>
<text x="254" y="525.4" font-size="8.3" text-anchor="end" fill="#1c1c1c" textLength="4.6" lengthAdjust="spacingAndGlyphs">0</text>
<line x1="254.6" y1="504.4" x2="257.2" y2="504.4" stroke="#111" stroke-width="1"/>
<text x="254" y="507" font-size="8.3" text-anchor="end" fill="#1c1c1c" textLength="8.8" lengthAdjust="spacingAndGlyphs">20</text>
<line x1="254.6" y1="486" x2="257.2" y2="486" stroke="#111" stroke-width="1"/>
<text x="254" y="488.6" font-size="8.3" text-anchor="end" fill="#1c1c1c" textLength="8.8" lengthAdjust="spacingAndGlyphs">40</text>
<line x1="254.6" y1="467.6" x2="257.2" y2="467.6" stroke="#111" stroke-width="1"/>
<text x="254" y="470.2" font-size="8.3" text-anchor="end" fill="#1c1c1c" textLength="8.8" lengthAdjust="spacingAndGlyphs">60</text>
<line x1="254.6" y1="449.2" x2="257.2" y2="449.2" stroke="#111" stroke-width="1"/>
<text x="254" y="451.8" font-size="8.3" text-anchor="end" fill="#1c1c1c" textLength="8.8" lengthAdjust="spacingAndGlyphs">80</text>
<line x1="254.6" y1="430.8" x2="257.2" y2="430.8" stroke="#111" stroke-width="1"/>
<text x="254" y="433.4" font-size="8.3" text-anchor="end" fill="#1c1c1c" textLength="13" lengthAdjust="spacingAndGlyphs">100</text>
<line x1="254.6" y1="412.4" x2="257.2" y2="412.4" stroke="#111" stroke-width="1"/>
<text x="254" y="415" font-size="8.3" text-anchor="end" fill="#1c1c1c" textLength="13" lengthAdjust="spacingAndGlyphs">120</text>
<line x1="254.6" y1="394" x2="257.2" y2="394" stroke="#111" stroke-width="1"/>
<text x="254" y="396.6" font-size="8.3" text-anchor="end" fill="#1c1c1c" textLength="13" lengthAdjust="spacingAndGlyphs">140</text>
<line x1="254.6" y1="375.6" x2="257.2" y2="375.6" stroke="#111" stroke-width="1"/>
<text x="254" y="378.2" font-size="8.3" text-anchor="end" fill="#1c1c1c" textLength="13" lengthAdjust="spacingAndGlyphs">160</text>
<line x1="269.9" y1="522.8" x2="269.9" y2="525.8" stroke="#111" stroke-width="1.1"/>
<text x="272.5" y="530" font-size="7.6" text-anchor="end" fill="#1c1c1c" transform="rotate(-45 272.5 530)">25</text>
<line x1="295.9" y1="522.8" x2="295.9" y2="525.8" stroke="#111" stroke-width="1.1"/>
<text x="298.5" y="530" font-size="7.6" text-anchor="end" fill="#1c1c1c" transform="rotate(-45 298.5 530)">35</text>
<line x1="321.9" y1="522.8" x2="321.9" y2="525.8" stroke="#111" stroke-width="1.1"/>
<text x="324.5" y="530" font-size="7.6" text-anchor="end" fill="#1c1c1c" transform="rotate(-45 324.5 530)">45</text>
<line x1="347.9" y1="522.8" x2="347.9" y2="525.8" stroke="#111" stroke-width="1.1"/>
<text x="350.5" y="530" font-size="7.6" text-anchor="end" fill="#1c1c1c" transform="rotate(-45 350.5 530)">55</text>
<line x1="373.9" y1="522.8" x2="373.9" y2="525.8" stroke="#111" stroke-width="1.1"/>
<text x="376.5" y="530" font-size="7.6" text-anchor="end" fill="#1c1c1c" transform="rotate(-45 376.5 530)">65</text>
<line x1="399.9" y1="522.8" x2="399.9" y2="525.8" stroke="#111" stroke-width="1.1"/>
<text x="402.5" y="530" font-size="7.6" text-anchor="end" fill="#1c1c1c" transform="rotate(-45 402.5 530)">75</text>
<line x1="425.9" y1="522.8" x2="425.9" y2="525.8" stroke="#111" stroke-width="1.1"/>
<text x="428.5" y="530" font-size="7.6" text-anchor="end" fill="#1c1c1c" transform="rotate(-45 428.5 530)">85</text>
<line x1="451.9" y1="522.8" x2="451.9" y2="525.8" stroke="#111" stroke-width="1.1"/>
<text x="454.5" y="530" font-size="7.6" text-anchor="end" fill="#1c1c1c" transform="rotate(-45 454.5 530)">95</text>
<text x="234.9" y="446.9" font-size="9.5" text-anchor="middle" fill="#1c1c1c" textLength="113" lengthAdjust="spacingAndGlyphs" transform="rotate(-90 234.9 446.9)">Distance to neighbours (µm)</text>
<text x="280.2" y="547.4" font-size="10" fill="#1c1c1c" textLength="150" lengthAdjust="spacingAndGlyphs">Distance from blastopore lip (µm)</text>
<circle cx="348.8" cy="380.1" r="3.4" fill="#8b8b8b"/>
<path d="M348.8 392.6l3.1 3.2l-3.1 3.2l-3.1 -3.2z" fill="#a616e0"/>
<text x="364.3" y="382.9" font-size="10.6" fill="#1c1c1c" font-style="italic" textLength="55.2" lengthAdjust="spacingAndGlyphs">H2B-eGFP</text>
<text fill="#1c1c1c" x="367.4" y="398.9" font-size="10.6" textLength="95.8" lengthAdjust="spacingAndGlyphs"><tspan font-style="italic">fry</tspan>-MO +<tspan font-style="italic">H2B-eGFP</tspan></text>
</g>
</svg></body></html>
